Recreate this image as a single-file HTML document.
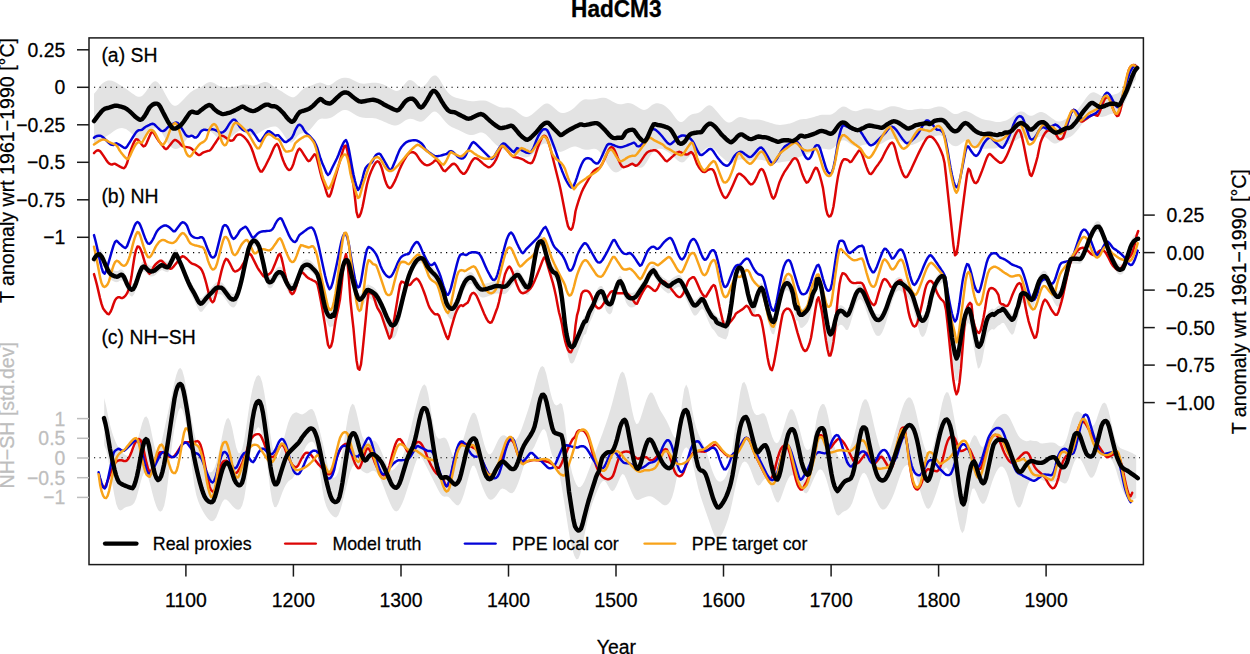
<!DOCTYPE html>
<html lang="en">
<head>
<meta charset="utf-8">
<title>HadCM3</title>
<style>
html,body{margin:0;padding:0;background:#fff;}
body{width:1250px;height:654px;overflow:hidden;}
svg{display:block;}
text{font-family:"Liberation Sans",sans-serif;fill:#000;stroke:#000;stroke-width:0.25px;}
.ax{font-size:19.4px;}
.lg{font-size:17.8px;}
.gr{fill:#bebebe;stroke:#bebebe;}
</style>
</head>
<body>
<svg width="1250" height="654" viewBox="0 0 1250 654">
<rect x="0" y="0" width="1250" height="654" fill="#fff"/>
<polygon points="94.0,93.8 96.0,91.5 98.0,88.8 100.0,86.1 102.0,83.8 104.0,82.2 106.0,81.2 108.0,80.6 110.0,80.5 112.0,80.8 114.0,81.5 116.0,82.5 118.0,83.7 120.0,84.9 122.0,86.2 124.0,87.5 126.0,88.8 128.0,90.2 130.0,91.7 132.0,93.2 134.0,94.6 136.0,95.9 138.0,96.7 140.0,96.8 142.0,95.9 144.0,94.0 146.0,91.4 148.0,88.4 150.0,85.5 152.0,83.0 154.0,81.5 156.0,81.3 158.0,82.5 160.0,84.9 162.0,88.1 164.0,91.8 166.0,95.5 168.0,99.0 170.0,102.2 172.0,104.5 174.0,105.7 176.0,105.7 178.0,104.7 180.0,103.1 182.0,101.1 184.0,99.0 186.0,96.8 188.0,94.7 190.0,92.8 192.0,91.2 194.0,89.9 196.0,89.0 198.0,88.3 200.0,87.6 202.0,86.5 204.0,85.1 206.0,83.6 208.0,82.4 210.0,81.9 212.0,82.2 214.0,83.1 216.0,84.3 218.0,85.4 220.0,86.2 222.0,86.7 224.0,86.9 226.0,87.0 228.0,87.0 230.0,87.0 232.0,87.0 234.0,86.8 236.0,86.5 238.0,86.1 240.0,85.5 242.0,84.8 244.0,84.4 246.0,84.4 248.0,84.7 250.0,85.1 252.0,85.4 254.0,85.5 256.0,85.1 258.0,84.5 260.0,83.6 262.0,82.8 264.0,82.1 266.0,82.0 268.0,82.6 270.0,83.7 272.0,85.2 274.0,86.7 276.0,88.1 278.0,89.3 280.0,90.5 282.0,91.6 284.0,92.9 286.0,94.2 288.0,95.5 290.0,96.6 292.0,97.3 294.0,97.2 296.0,96.0 298.0,94.2 300.0,92.0 302.0,90.0 304.0,88.4 306.0,87.3 308.0,86.5 310.0,85.9 312.0,85.2 314.0,84.5 316.0,83.6 318.0,82.9 320.0,82.6 322.0,82.9 324.0,83.8 326.0,84.8 328.0,85.3 330.0,85.0 332.0,84.0 334.0,82.6 336.0,81.1 338.0,79.8 340.0,78.8 342.0,78.1 344.0,77.8 346.0,77.8 348.0,78.1 350.0,78.6 352.0,79.4 354.0,80.4 356.0,81.5 358.0,82.5 360.0,83.2 362.0,83.6 364.0,83.7 366.0,83.5 368.0,83.2 370.0,83.0 372.0,82.8 374.0,82.7 376.0,82.7 378.0,83.0 380.0,83.4 382.0,84.1 384.0,84.8 386.0,85.7 388.0,86.8 390.0,88.0 392.0,89.2 394.0,90.3 396.0,91.0 398.0,90.8 400.0,89.7 402.0,87.5 404.0,84.9 406.0,82.4 408.0,80.6 410.0,79.9 412.0,80.4 414.0,81.8 416.0,83.8 418.0,85.7 420.0,87.0 422.0,87.1 424.0,86.1 426.0,84.0 428.0,81.4 430.0,78.6 432.0,76.5 434.0,75.4 436.0,75.6 438.0,77.3 440.0,80.1 442.0,83.4 444.0,86.8 446.0,89.9 448.0,92.4 450.0,94.4 452.0,95.9 454.0,96.9 456.0,97.7 458.0,98.2 460.0,98.8 462.0,99.3 464.0,99.8 466.0,100.2 468.0,100.7 470.0,101.0 472.0,101.2 474.0,101.2 476.0,101.1 478.0,100.8 480.0,100.6 482.0,100.4 484.0,100.4 486.0,100.8 488.0,101.5 490.0,102.4 492.0,103.5 494.0,104.6 496.0,105.6 498.0,106.5 500.0,107.2 502.0,107.6 504.0,107.7 506.0,107.6 508.0,107.6 510.0,107.8 512.0,108.5 514.0,109.5 516.0,110.8 518.0,112.4 520.0,113.9 522.0,115.4 524.0,116.5 526.0,116.9 528.0,116.7 530.0,115.8 532.0,114.4 534.0,112.8 536.0,111.1 538.0,109.3 540.0,107.5 542.0,105.7 544.0,104.2 546.0,103.4 548.0,103.5 550.0,104.4 552.0,105.9 554.0,107.7 556.0,109.6 558.0,111.3 560.0,112.5 562.0,113.1 564.0,113.1 566.0,112.5 568.0,111.7 570.0,110.7 572.0,109.5 574.0,108.0 576.0,106.1 578.0,103.9 580.0,101.9 582.0,100.4 584.0,99.5 586.0,99.3 588.0,99.4 590.0,99.5 592.0,99.5 594.0,99.2 596.0,98.9 598.0,98.4 600.0,98.0 602.0,97.7 604.0,97.7 606.0,98.1 608.0,98.9 610.0,100.0 612.0,101.2 614.0,102.3 616.0,103.3 618.0,104.0 620.0,104.3 622.0,104.2 624.0,103.7 626.0,103.2 628.0,103.0 630.0,103.2 632.0,103.8 634.0,104.7 636.0,106.0 638.0,107.3 640.0,108.6 642.0,109.6 644.0,110.0 646.0,109.6 648.0,108.5 650.0,106.8 652.0,105.1 654.0,103.9 656.0,103.3 658.0,103.3 660.0,103.7 662.0,104.3 664.0,105.3 666.0,106.7 668.0,108.4 670.0,110.6 672.0,113.1 674.0,115.8 676.0,118.5 678.0,120.7 680.0,121.9 682.0,121.9 684.0,120.7 686.0,118.8 688.0,116.8 690.0,115.2 692.0,114.2 694.0,113.7 696.0,113.5 698.0,113.1 700.0,112.1 702.0,110.6 704.0,108.6 706.0,106.7 708.0,105.4 710.0,105.3 712.0,106.3 714.0,108.2 716.0,110.4 718.0,112.8 720.0,115.2 722.0,117.5 724.0,119.7 726.0,121.5 728.0,122.5 730.0,122.6 732.0,121.7 734.0,120.3 736.0,118.8 738.0,117.6 740.0,117.1 742.0,117.2 744.0,117.7 746.0,118.3 748.0,119.0 750.0,119.4 752.0,119.6 754.0,119.5 756.0,119.4 758.0,119.5 760.0,119.8 762.0,120.2 764.0,120.8 766.0,121.4 768.0,122.0 770.0,122.7 772.0,123.3 774.0,123.9 776.0,124.5 778.0,124.8 780.0,124.9 782.0,124.7 784.0,124.5 786.0,124.2 788.0,123.8 790.0,123.4 792.0,122.8 794.0,122.0 796.0,121.1 798.0,120.2 800.0,119.6 802.0,119.3 804.0,119.1 806.0,118.9 808.0,118.5 810.0,118.1 812.0,117.6 814.0,117.0 816.0,116.3 818.0,115.7 820.0,115.1 822.0,114.8 824.0,114.7 826.0,114.8 828.0,114.8 830.0,114.7 832.0,114.2 834.0,113.1 836.0,111.4 838.0,109.6 840.0,107.9 842.0,106.8 844.0,106.6 846.0,107.1 848.0,108.2 850.0,109.4 852.0,110.5 854.0,111.1 856.0,111.2 858.0,110.8 860.0,110.1 862.0,109.4 864.0,108.8 866.0,108.4 868.0,108.4 870.0,108.6 872.0,109.1 874.0,109.7 876.0,110.2 878.0,110.5 880.0,110.4 882.0,109.9 884.0,109.1 886.0,108.1 888.0,107.3 890.0,106.6 892.0,106.3 894.0,106.3 896.0,106.5 898.0,106.9 900.0,107.5 902.0,108.2 904.0,108.9 906.0,109.5 908.0,109.9 910.0,110.1 912.0,109.9 914.0,109.6 916.0,109.3 918.0,108.9 920.0,108.8 922.0,108.8 924.0,108.9 926.0,109.0 928.0,109.0 930.0,108.7 932.0,108.3 934.0,107.6 936.0,107.0 938.0,106.6 940.0,106.5 942.0,106.7 944.0,107.4 946.0,108.6 948.0,110.0 950.0,111.6 952.0,113.0 954.0,113.9 956.0,114.1 958.0,113.7 960.0,112.7 962.0,111.7 964.0,111.1 966.0,111.1 968.0,111.7 970.0,112.6 972.0,113.6 974.0,114.8 976.0,115.9 978.0,117.1 980.0,118.1 982.0,118.9 984.0,119.5 986.0,119.9 988.0,120.2 990.0,120.6 992.0,121.0 994.0,121.4 996.0,121.9 998.0,122.1 1000.0,122.0 1002.0,121.6 1004.0,121.1 1006.0,120.5 1008.0,119.5 1010.0,118.3 1012.0,116.9 1014.0,115.3 1016.0,113.6 1018.0,112.3 1020.0,111.5 1022.0,111.4 1024.0,112.1 1026.0,113.4 1028.0,114.9 1030.0,115.8 1032.0,115.7 1034.0,114.9 1036.0,113.8 1038.0,112.7 1040.0,112.0 1042.0,112.0 1044.0,112.7 1046.0,113.8 1048.0,115.2 1050.0,116.7 1052.0,118.2 1054.0,119.6 1056.0,120.9 1058.0,121.5 1060.0,121.5 1062.0,120.9 1064.0,119.9 1066.0,118.8 1068.0,117.7 1070.0,116.5 1072.0,115.2 1074.0,113.6 1076.0,111.7 1078.0,109.3 1080.0,106.6 1082.0,103.8 1084.0,100.9 1086.0,98.0 1088.0,95.5 1090.0,93.6 1092.0,92.4 1094.0,92.2 1096.0,92.9 1098.0,94.0 1100.0,95.3 1102.0,96.3 1104.0,96.9 1106.0,96.9 1108.0,96.5 1110.0,95.8 1112.0,95.1 1114.0,94.6 1116.0,94.1 1118.0,93.3 1120.0,91.8 1122.0,89.3 1124.0,85.9 1126.0,81.9 1128.0,77.5 1130.0,73.0 1132.0,68.7 1134.0,65.0 1136.0,62.4 1136.0,79.2 1134.0,81.9 1132.0,85.8 1130.0,90.4 1128.0,95.3 1126.0,100.0 1124.0,104.5 1122.0,108.4 1120.0,111.2 1118.0,112.8 1116.0,113.4 1114.0,113.5 1112.0,113.8 1110.0,114.3 1108.0,115.0 1106.0,115.9 1104.0,116.6 1102.0,116.9 1100.0,116.7 1098.0,116.1 1096.0,115.4 1094.0,114.8 1092.0,114.8 1090.0,115.5 1088.0,116.9 1086.0,118.9 1084.0,121.3 1082.0,123.9 1080.0,126.7 1078.0,129.4 1076.0,131.8 1074.0,134.0 1072.0,135.7 1070.0,136.9 1068.0,137.7 1066.0,138.5 1064.0,139.4 1062.0,140.4 1060.0,141.6 1058.0,142.7 1056.0,143.5 1054.0,143.4 1052.0,142.5 1050.0,140.9 1048.0,139.1 1046.0,137.6 1044.0,136.5 1042.0,136.1 1040.0,136.4 1038.0,137.3 1036.0,138.5 1034.0,139.6 1032.0,140.2 1030.0,140.1 1028.0,139.4 1026.0,138.5 1024.0,137.8 1022.0,137.6 1020.0,138.0 1018.0,138.9 1016.0,140.2 1014.0,141.6 1012.0,142.7 1010.0,143.6 1008.0,144.2 1006.0,144.8 1004.0,145.4 1002.0,146.0 1000.0,146.7 998.0,147.6 996.0,148.2 994.0,148.6 992.0,148.6 990.0,148.5 988.0,148.6 986.0,148.7 984.0,148.8 982.0,148.8 980.0,148.6 978.0,147.9 976.0,146.8 974.0,145.3 972.0,143.5 970.0,141.8 968.0,140.6 966.0,140.5 964.0,141.4 962.0,142.9 960.0,144.6 958.0,145.8 956.0,146.3 954.0,146.1 952.0,145.2 950.0,143.6 948.0,141.6 946.0,139.4 944.0,137.4 942.0,136.0 940.0,135.3 938.0,135.4 936.0,135.9 934.0,136.6 932.0,137.2 930.0,137.7 928.0,138.1 926.0,138.6 924.0,139.3 922.0,140.3 920.0,141.4 918.0,142.5 916.0,143.4 914.0,144.2 912.0,144.9 910.0,145.2 908.0,144.9 906.0,144.2 904.0,143.1 902.0,141.9 900.0,140.8 898.0,139.9 896.0,139.2 894.0,138.9 892.0,138.9 890.0,139.3 888.0,140.0 886.0,141.1 884.0,142.3 882.0,143.4 880.0,144.2 878.0,144.5 876.0,144.4 874.0,144.3 872.0,144.2 870.0,144.2 868.0,144.2 866.0,144.4 864.0,144.8 862.0,145.3 860.0,145.9 858.0,146.4 856.0,146.5 854.0,146.1 852.0,145.1 850.0,143.8 848.0,142.2 846.0,140.9 844.0,140.2 842.0,140.5 840.0,141.7 838.0,143.5 836.0,145.5 834.0,147.4 832.0,148.7 830.0,149.4 828.0,149.5 826.0,149.1 824.0,148.7 822.0,148.4 820.0,148.6 818.0,149.4 816.0,150.6 814.0,151.6 812.0,152.2 810.0,152.8 808.0,153.6 806.0,154.5 804.0,155.3 802.0,155.9 800.0,156.7 798.0,157.7 796.0,158.9 794.0,160.0 792.0,160.7 790.0,161.1 788.0,161.3 786.0,161.5 784.0,161.7 782.0,162.1 780.0,162.4 778.0,162.7 776.0,162.8 774.0,162.9 772.0,162.7 770.0,162.2 768.0,161.7 766.0,161.1 764.0,160.5 762.0,160.0 760.0,159.7 758.0,159.6 756.0,159.8 754.0,160.2 752.0,160.6 750.0,160.7 748.0,160.5 746.0,160.2 744.0,159.7 742.0,159.3 740.0,159.4 738.0,160.1 736.0,161.2 734.0,162.4 732.0,163.1 730.0,162.9 728.0,162.0 726.0,160.7 724.0,159.1 722.0,157.3 720.0,155.4 718.0,153.2 716.0,150.9 714.0,148.9 712.0,147.6 710.0,147.1 708.0,147.4 706.0,148.6 704.0,150.3 702.0,151.9 700.0,153.0 698.0,153.5 696.0,153.5 694.0,153.7 692.0,154.3 690.0,155.7 688.0,157.8 686.0,160.1 684.0,161.9 682.0,162.6 680.0,162.1 678.0,160.7 676.0,158.9 674.0,157.0 672.0,155.2 670.0,153.5 668.0,152.0 666.0,150.8 664.0,149.8 662.0,149.1 660.0,148.7 658.0,148.8 656.0,149.4 654.0,150.9 652.0,153.2 650.0,156.3 648.0,159.9 646.0,163.3 644.0,166.0 642.0,167.5 640.0,167.8 638.0,167.4 636.0,166.8 634.0,166.2 632.0,165.7 630.0,165.5 628.0,165.7 626.0,166.4 624.0,167.6 622.0,169.2 620.0,170.8 618.0,171.9 616.0,172.4 614.0,172.0 612.0,170.5 610.0,168.2 608.0,165.2 606.0,161.8 604.0,158.3 602.0,155.0 600.0,152.2 598.0,150.2 596.0,149.1 594.0,148.8 592.0,149.0 590.0,149.4 588.0,149.7 586.0,149.8 584.0,149.6 582.0,149.0 580.0,148.1 578.0,147.2 576.0,146.6 574.0,146.6 572.0,147.0 570.0,147.8 568.0,148.7 566.0,149.7 564.0,150.7 562.0,151.6 560.0,151.9 558.0,151.2 556.0,150.0 554.0,148.6 552.0,147.1 550.0,145.7 548.0,144.4 546.0,143.5 544.0,143.5 542.0,144.4 540.0,146.3 538.0,148.6 536.0,151.0 534.0,153.0 532.0,154.8 530.0,156.2 528.0,157.1 526.0,157.5 524.0,157.3 522.0,156.8 520.0,156.0 518.0,155.2 516.0,154.3 514.0,153.5 512.0,152.7 510.0,152.0 508.0,151.2 506.0,150.5 504.0,149.7 502.0,148.8 500.0,147.7 498.0,146.3 496.0,144.7 494.0,142.8 492.0,140.8 490.0,138.6 488.0,136.5 486.0,134.6 484.0,133.2 482.0,132.5 480.0,132.6 478.0,133.2 476.0,134.1 474.0,134.8 472.0,135.1 470.0,135.0 468.0,134.5 466.0,133.7 464.0,132.7 462.0,131.7 460.0,130.7 458.0,129.8 456.0,128.9 454.0,128.1 452.0,127.2 450.0,126.0 448.0,124.4 446.0,122.5 444.0,120.3 442.0,117.8 440.0,115.3 438.0,113.2 436.0,111.8 434.0,111.6 432.0,112.6 430.0,114.4 428.0,116.5 426.0,118.6 424.0,120.4 422.0,121.4 420.0,121.7 418.0,121.2 416.0,120.4 414.0,119.6 412.0,119.0 410.0,118.8 408.0,119.2 406.0,120.0 404.0,121.3 402.0,122.7 400.0,124.0 398.0,125.0 396.0,125.5 394.0,125.4 392.0,125.0 390.0,124.2 388.0,123.4 386.0,122.5 384.0,121.7 382.0,120.8 380.0,120.0 378.0,119.3 376.0,118.6 374.0,118.2 372.0,118.0 370.0,117.9 368.0,118.0 366.0,117.9 364.0,117.8 362.0,117.5 360.0,116.9 358.0,116.2 356.0,115.2 354.0,114.0 352.0,112.8 350.0,111.6 348.0,110.6 346.0,110.0 344.0,110.0 342.0,110.6 340.0,111.7 338.0,113.1 336.0,114.6 334.0,116.0 332.0,117.2 330.0,118.1 328.0,118.6 326.0,118.8 324.0,118.7 322.0,118.5 320.0,118.9 318.0,120.2 316.0,122.4 314.0,125.0 312.0,127.6 310.0,129.7 308.0,131.3 306.0,132.3 304.0,132.9 302.0,133.2 300.0,133.9 298.0,135.6 296.0,138.1 294.0,140.8 292.0,142.5 290.0,142.6 288.0,141.0 286.0,138.4 284.0,135.3 282.0,132.3 280.0,129.7 278.0,127.7 276.0,126.6 274.0,126.4 272.0,126.8 270.0,127.3 268.0,127.9 266.0,128.7 264.0,129.7 262.0,130.9 260.0,132.2 258.0,133.5 256.0,134.6 254.0,135.3 252.0,135.4 250.0,134.9 248.0,133.9 246.0,132.5 244.0,131.2 242.0,130.5 240.0,130.6 238.0,131.5 236.0,132.9 234.0,134.6 232.0,136.2 230.0,137.7 228.0,138.9 226.0,139.7 224.0,140.1 222.0,139.9 220.0,139.1 218.0,137.8 216.0,136.2 214.0,134.3 212.0,132.4 210.0,130.9 208.0,130.2 206.0,130.3 204.0,131.1 202.0,132.4 200.0,133.9 198.0,135.0 196.0,135.3 194.0,134.9 192.0,134.6 190.0,135.3 188.0,137.2 186.0,139.9 184.0,142.8 182.0,145.4 180.0,147.4 178.0,148.6 176.0,149.1 174.0,148.8 172.0,147.8 170.0,145.9 168.0,143.3 166.0,140.0 164.0,136.5 162.0,133.2 160.0,130.5 158.0,128.8 156.0,128.2 154.0,128.3 152.0,129.1 150.0,130.5 148.0,132.7 146.0,135.3 144.0,137.8 142.0,139.4 140.0,139.8 138.0,139.1 136.0,137.8 134.0,135.9 132.0,133.9 130.0,132.0 128.0,130.4 126.0,129.1 124.0,128.4 122.0,128.1 120.0,128.2 118.0,128.7 116.0,129.7 114.0,131.0 112.0,132.6 110.0,134.0 108.0,135.3 106.0,136.4 104.0,137.7 102.0,139.3 100.0,141.1 98.0,142.9 96.0,144.3 94.0,145.3" fill="#e3e3e3" stroke="none"/>
<polygon points="94.0,253.6 96.0,250.6 98.0,249.0 100.0,249.2 102.0,251.6 104.0,255.8 106.0,260.5 108.0,264.8 110.0,267.9 112.0,269.5 114.0,270.5 116.0,271.1 118.0,271.0 120.0,269.6 122.0,269.4 124.0,271.5 126.0,276.2 128.0,280.3 130.0,283.2 132.0,284.3 134.0,282.3 136.0,277.9 138.0,271.8 140.0,266.2 142.0,262.1 144.0,261.1 146.0,262.5 148.0,264.5 150.0,265.8 152.0,266.0 154.0,265.3 156.0,263.9 158.0,262.1 160.0,260.6 162.0,259.6 164.0,260.5 166.0,261.6 168.0,261.7 170.0,258.8 172.0,254.8 174.0,250.3 176.0,248.7 178.0,252.3 180.0,256.6 182.0,261.2 184.0,266.2 186.0,271.2 188.0,276.0 190.0,280.3 192.0,283.9 194.0,287.3 196.0,291.3 198.0,295.2 200.0,297.9 202.0,297.9 204.0,295.7 206.0,293.0 208.0,290.8 210.0,288.9 212.0,286.8 214.0,284.5 216.0,282.6 218.0,282.0 220.0,282.1 222.0,282.5 224.0,284.7 226.0,287.4 228.0,290.0 230.0,292.5 232.0,293.8 234.0,294.0 236.0,292.1 238.0,287.7 240.0,280.9 242.0,272.8 244.0,263.5 246.0,254.2 248.0,245.7 250.0,239.4 252.0,236.2 254.0,235.2 256.0,236.1 258.0,238.7 260.0,243.5 262.0,251.9 264.0,260.9 266.0,270.4 268.0,275.9 270.0,276.8 272.0,276.0 274.0,272.7 276.0,269.0 278.0,267.1 280.0,266.6 282.0,267.7 284.0,271.1 286.0,276.0 288.0,279.7 290.0,282.4 292.0,283.3 294.0,282.2 296.0,277.9 298.0,272.5 300.0,267.2 302.0,262.2 304.0,260.2 306.0,259.3 308.0,259.4 310.0,260.3 312.0,262.1 314.0,264.2 316.0,266.5 318.0,270.1 320.0,278.0 322.0,287.6 324.0,297.6 326.0,304.9 328.0,309.3 330.0,311.4 332.0,310.1 334.0,310.2 336.0,301.6 338.0,288.7 340.0,275.8 342.0,265.1 344.0,257.4 346.0,254.6 348.0,255.6 350.0,262.7 352.0,271.5 354.0,279.5 356.0,287.1 358.0,292.6 360.0,294.4 362.0,292.5 364.0,289.8 366.0,286.1 368.0,284.3 370.0,285.2 372.0,286.2 374.0,287.6 376.0,289.6 378.0,292.5 380.0,296.2 382.0,300.3 384.0,304.9 386.0,309.7 388.0,314.1 390.0,317.7 392.0,319.9 394.0,319.5 396.0,317.0 398.0,311.8 400.0,304.6 402.0,296.3 404.0,288.1 406.0,280.2 408.0,273.0 410.0,267.3 412.0,262.8 414.0,259.1 416.0,256.0 418.0,253.8 420.0,252.7 422.0,252.7 424.0,254.4 426.0,258.4 428.0,261.7 430.0,264.3 432.0,266.5 434.0,268.4 436.0,270.6 438.0,273.6 440.0,277.3 442.0,282.3 444.0,288.3 446.0,296.0 448.0,300.6 450.0,302.6 452.0,303.3 454.0,302.1 456.0,298.8 458.0,294.2 460.0,288.3 462.0,282.6 464.0,278.1 466.0,274.9 468.0,273.0 470.0,272.1 472.0,272.4 474.0,274.8 476.0,278.3 478.0,281.2 480.0,283.3 482.0,284.1 484.0,283.9 486.0,283.6 488.0,283.0 490.0,282.4 492.0,281.8 494.0,281.1 496.0,280.5 498.0,280.5 500.0,280.7 502.0,281.1 504.0,281.2 506.0,280.6 508.0,278.9 510.0,276.3 512.0,273.9 514.0,271.8 516.0,270.1 518.0,269.4 520.0,271.8 522.0,275.1 524.0,278.4 526.0,281.5 528.0,281.8 530.0,278.9 532.0,269.9 534.0,257.5 536.0,246.7 538.0,238.4 540.0,236.1 542.0,236.0 544.0,240.9 546.0,248.3 548.0,255.2 550.0,261.4 552.0,265.1 554.0,267.0 556.0,268.2 558.0,272.4 560.0,280.6 562.0,292.9 564.0,310.3 566.0,325.5 568.0,335.2 570.0,340.5 572.0,341.6 574.0,340.0 576.0,335.5 578.0,330.9 580.0,326.2 582.0,321.4 584.0,316.6 586.0,315.8 588.0,309.9 590.0,305.3 592.0,301.7 594.0,297.4 596.0,292.1 598.0,288.0 600.0,286.1 602.0,286.1 604.0,289.5 606.0,295.6 608.0,298.1 610.0,298.9 612.0,296.9 614.0,289.6 616.0,282.9 618.0,277.8 620.0,275.6 622.0,278.2 624.0,283.1 626.0,288.5 628.0,291.3 630.0,292.5 632.0,292.9 634.0,292.3 636.0,291.0 638.0,288.3 640.0,285.3 642.0,282.3 644.0,279.3 646.0,276.1 648.0,271.9 650.0,268.2 652.0,265.8 654.0,265.1 656.0,268.6 658.0,271.8 660.0,274.4 662.0,276.4 664.0,277.9 666.0,279.3 668.0,280.6 670.0,280.3 672.0,278.6 674.0,277.1 676.0,275.9 678.0,274.9 680.0,275.1 682.0,277.5 684.0,281.3 686.0,285.3 688.0,289.3 690.0,293.3 692.0,297.2 694.0,299.8 696.0,299.7 698.0,297.9 700.0,295.4 702.0,293.7 704.0,295.3 706.0,299.8 708.0,304.1 710.0,307.8 712.0,311.0 714.0,312.6 716.0,315.2 718.0,317.8 720.0,318.6 722.0,319.4 724.0,320.2 726.0,320.6 728.0,316.9 730.0,307.8 732.0,294.3 734.0,279.4 736.0,268.8 738.0,263.2 740.0,262.0 742.0,263.9 744.0,270.4 746.0,278.9 748.0,288.4 750.0,295.5 752.0,300.0 754.0,300.2 756.0,294.1 758.0,287.9 760.0,283.7 762.0,282.7 764.0,288.3 766.0,296.8 768.0,304.6 770.0,311.7 772.0,315.7 774.0,316.3 776.0,310.3 778.0,301.4 780.0,293.1 782.0,285.3 784.0,280.3 786.0,277.8 788.0,277.9 790.0,280.1 792.0,284.8 794.0,293.4 796.0,303.0 798.0,303.8 800.0,309.1 802.0,309.3 804.0,307.9 806.0,306.0 808.0,303.5 810.0,298.5 812.0,291.2 814.0,285.9 816.0,279.6 818.0,273.0 820.0,277.3 822.0,285.5 824.0,298.4 826.0,311.0 828.0,322.3 830.0,328.7 832.0,327.4 834.0,320.8 836.0,311.9 838.0,306.9 840.0,305.3 842.0,305.5 844.0,307.1 846.0,309.6 848.0,309.4 850.0,305.3 852.0,299.8 854.0,293.8 856.0,288.4 858.0,285.3 860.0,284.2 862.0,285.4 864.0,288.4 866.0,293.1 868.0,297.8 870.0,302.7 872.0,307.2 874.0,311.0 876.0,313.8 878.0,314.6 880.0,314.0 882.0,311.8 884.0,308.1 886.0,303.4 888.0,297.8 890.0,292.0 892.0,286.7 894.0,282.0 896.0,278.6 898.0,277.3 900.0,277.2 902.0,278.2 904.0,279.7 906.0,281.4 908.0,283.4 910.0,285.6 912.0,288.8 914.0,294.2 916.0,300.9 918.0,307.2 920.0,312.9 922.0,315.2 924.0,314.7 926.0,311.4 928.0,305.7 930.0,297.1 932.0,288.6 934.0,282.2 936.0,277.8 938.0,274.4 940.0,271.9 942.0,270.6 944.0,271.0 946.0,282.0 948.0,300.2 950.0,316.1 952.0,332.0 954.0,343.3 956.0,352.0 958.0,349.9 960.0,338.1 962.0,326.1 964.0,314.6 966.0,307.3 968.0,303.5 970.0,305.2 972.0,313.9 974.0,324.3 976.0,334.0 978.0,341.4 980.0,340.1 982.0,335.6 984.0,326.5 986.0,317.6 988.0,311.8 990.0,309.9 992.0,308.6 994.0,309.4 996.0,307.8 998.0,306.1 1000.0,305.3 1002.0,304.0 1004.0,304.0 1006.0,306.8 1008.0,309.7 1010.0,312.3 1012.0,314.2 1014.0,312.7 1016.0,306.8 1018.0,301.1 1020.0,292.2 1022.0,288.0 1024.0,287.7 1026.0,288.6 1028.0,290.8 1030.0,293.5 1032.0,294.4 1034.0,290.5 1036.0,284.8 1038.0,278.7 1040.0,274.0 1042.0,271.7 1044.0,270.5 1046.0,271.5 1048.0,274.7 1050.0,279.5 1052.0,283.8 1054.0,287.6 1056.0,290.3 1058.0,291.6 1060.0,289.8 1062.0,285.4 1064.0,278.1 1066.0,270.1 1068.0,262.1 1070.0,254.9 1072.0,253.2 1074.0,253.1 1076.0,253.2 1078.0,253.4 1080.0,253.6 1082.0,251.8 1084.0,247.7 1086.0,242.9 1088.0,237.6 1090.0,232.4 1092.0,227.9 1094.0,224.1 1096.0,221.7 1098.0,221.1 1100.0,222.3 1102.0,226.6 1104.0,231.7 1106.0,237.1 1108.0,243.2 1110.0,248.7 1112.0,253.2 1114.0,257.4 1116.0,261.0 1118.0,263.4 1120.0,264.3 1122.0,263.7 1124.0,261.2 1126.0,255.2 1128.0,249.2 1130.0,243.2 1132.0,238.4 1134.0,235.7 1136.0,234.1 1136.0,244.6 1134.0,246.2 1132.0,248.9 1130.0,253.7 1128.0,259.7 1126.0,265.7 1124.0,271.7 1122.0,274.2 1120.0,274.8 1118.0,273.9 1116.0,271.5 1114.0,267.9 1112.0,263.7 1110.0,259.2 1108.0,253.7 1106.0,247.6 1104.0,242.2 1102.0,237.1 1100.0,232.8 1098.0,231.6 1096.0,232.2 1094.0,234.6 1092.0,238.4 1090.0,242.9 1088.0,248.1 1086.0,253.4 1084.0,258.2 1082.0,262.3 1080.0,264.1 1078.0,263.9 1076.0,263.7 1074.0,263.6 1072.0,263.7 1070.0,265.4 1068.0,272.6 1066.0,281.6 1064.0,291.0 1062.0,299.7 1060.0,304.9 1058.0,307.0 1056.0,305.5 1054.0,302.3 1052.0,297.7 1050.0,292.7 1048.0,287.1 1046.0,283.2 1044.0,282.1 1042.0,283.4 1040.0,286.2 1038.0,291.7 1036.0,299.0 1034.0,305.6 1032.0,310.2 1030.0,309.2 1028.0,306.1 1026.0,303.6 1024.0,302.6 1022.0,303.0 1020.0,308.0 1018.0,318.7 1016.0,325.7 1014.0,332.9 1012.0,334.9 1010.0,332.7 1008.0,329.7 1006.0,326.3 1004.0,323.0 1002.0,323.1 1000.0,324.8 998.0,325.7 996.0,327.8 994.0,329.8 992.0,328.9 990.0,330.4 988.0,332.7 986.0,339.8 984.0,350.7 982.0,361.7 980.0,367.3 978.0,368.8 976.0,359.8 974.0,347.9 972.0,335.2 970.0,324.7 968.0,322.6 966.0,327.2 964.0,336.2 962.0,350.1 960.0,364.7 958.0,379.2 956.0,381.8 954.0,371.1 952.0,357.3 950.0,338.0 948.0,318.6 946.0,296.4 944.0,283.0 942.0,282.5 940.0,284.0 938.0,287.1 936.0,291.2 934.0,296.6 932.0,304.4 930.0,314.8 928.0,325.2 926.0,332.2 924.0,336.3 922.0,336.9 920.0,334.1 918.0,327.1 916.0,319.4 914.0,311.2 912.0,304.6 910.0,300.8 908.0,298.0 906.0,295.6 904.0,293.5 902.0,291.7 900.0,290.4 898.0,290.6 896.0,292.2 894.0,296.3 892.0,302.1 890.0,308.6 888.0,315.6 886.0,322.5 884.0,328.2 882.0,332.7 880.0,335.4 878.0,336.1 876.0,335.2 874.0,331.8 872.0,327.1 870.0,321.5 868.0,315.7 866.0,309.9 864.0,304.2 862.0,300.5 860.0,299.1 858.0,300.4 856.0,304.2 854.0,310.8 852.0,318.1 850.0,324.8 848.0,329.8 846.0,330.0 844.0,327.0 842.0,325.1 840.0,324.8 838.0,326.8 836.0,332.8 834.0,343.7 832.0,351.7 830.0,353.3 828.0,345.6 826.0,331.7 824.0,316.4 822.0,300.6 820.0,290.6 818.0,285.3 816.0,293.4 814.0,301.0 812.0,307.4 810.0,316.0 808.0,321.8 806.0,324.6 804.0,326.6 802.0,328.1 800.0,327.5 798.0,321.1 796.0,319.9 794.0,308.5 792.0,298.5 790.0,292.9 788.0,290.4 786.0,290.3 784.0,293.1 782.0,298.9 780.0,307.9 778.0,317.5 776.0,327.6 774.0,334.5 772.0,333.8 770.0,329.3 768.0,321.1 766.0,312.1 764.0,302.4 762.0,295.9 760.0,297.1 758.0,301.9 756.0,309.0 754.0,316.1 752.0,315.8 750.0,310.7 748.0,302.5 746.0,291.5 744.0,281.8 742.0,274.4 740.0,272.5 738.0,273.7 736.0,279.9 734.0,292.1 732.0,309.3 730.0,324.8 728.0,335.3 726.0,339.6 724.0,339.1 722.0,338.2 720.0,337.2 718.0,336.3 716.0,333.3 714.0,330.3 712.0,328.4 710.0,324.8 708.0,320.5 706.0,315.6 704.0,310.4 702.0,308.6 700.0,310.6 698.0,313.4 696.0,315.5 694.0,315.5 692.0,312.6 690.0,308.1 688.0,303.5 686.0,298.9 684.0,294.3 682.0,289.9 680.0,287.2 678.0,286.9 676.0,288.1 674.0,289.5 672.0,291.2 670.0,293.1 668.0,293.5 666.0,292.0 664.0,290.4 662.0,288.6 660.0,286.4 658.0,283.4 656.0,279.7 654.0,275.7 652.0,276.5 650.0,279.3 648.0,283.5 646.0,288.4 644.0,292.1 642.0,295.5 640.0,299.0 638.0,302.4 636.0,305.5 634.0,307.0 632.0,307.6 630.0,307.2 628.0,305.8 626.0,302.6 624.0,296.4 622.0,290.8 620.0,287.7 618.0,290.3 616.0,296.2 614.0,303.9 612.0,312.2 610.0,314.5 608.0,313.6 606.0,310.7 604.0,303.8 602.0,299.8 600.0,299.8 598.0,302.0 596.0,306.8 594.0,312.9 592.0,317.8 590.0,321.9 588.0,327.2 586.0,334.0 584.0,334.9 582.0,340.4 580.0,346.0 578.0,351.4 576.0,356.7 574.0,361.8 572.0,363.7 570.0,362.4 568.0,356.3 566.0,345.2 564.0,327.7 562.0,307.7 560.0,293.5 558.0,284.1 556.0,279.2 554.0,277.9 552.0,275.7 550.0,271.9 548.0,265.7 546.0,258.8 544.0,251.4 542.0,246.5 540.0,246.6 538.0,248.9 536.0,257.2 534.0,268.0 532.0,281.2 530.0,291.6 528.0,294.9 526.0,294.6 524.0,291.0 522.0,287.2 520.0,283.4 518.0,280.6 516.0,281.4 514.0,283.4 512.0,285.8 510.0,288.5 508.0,291.5 506.0,293.6 504.0,294.3 502.0,294.1 500.0,293.7 498.0,293.4 496.0,293.4 494.0,294.0 492.0,294.9 490.0,295.6 488.0,296.3 486.0,296.9 484.0,297.4 482.0,297.5 480.0,296.6 478.0,294.2 476.0,290.8 474.0,286.9 472.0,284.1 470.0,283.7 468.0,284.8 466.0,287.0 464.0,290.6 462.0,295.8 460.0,302.3 458.0,309.2 456.0,314.4 454.0,318.2 452.0,319.6 450.0,318.8 448.0,316.5 446.0,311.3 444.0,302.4 442.0,295.5 440.0,289.7 438.0,285.4 436.0,282.0 434.0,279.5 432.0,277.3 430.0,274.8 428.0,272.2 426.0,268.9 424.0,264.9 422.0,263.2 420.0,263.2 418.0,264.3 416.0,266.5 414.0,269.6 412.0,273.3 410.0,278.2 408.0,284.8 406.0,293.0 404.0,302.2 402.0,311.5 400.0,321.1 398.0,329.4 396.0,335.4 394.0,338.3 392.0,338.7 390.0,336.1 388.0,332.0 386.0,327.0 384.0,321.4 382.0,316.2 380.0,311.4 378.0,307.2 376.0,303.9 374.0,301.6 372.0,300.0 370.0,298.8 368.0,297.8 366.0,299.8 364.0,304.0 362.0,307.2 360.0,309.4 358.0,307.3 356.0,301.0 354.0,292.3 352.0,283.0 350.0,273.2 348.0,266.1 346.0,265.1 344.0,267.9 342.0,275.6 340.0,287.9 338.0,302.5 336.0,317.0 334.0,326.6 332.0,326.3 330.0,327.5 328.0,325.1 326.0,319.9 324.0,311.7 322.0,300.4 320.0,289.8 318.0,281.2 316.0,277.2 314.0,274.7 312.0,272.6 310.0,270.8 308.0,269.9 306.0,269.8 304.0,270.7 302.0,272.7 300.0,278.0 298.0,283.8 296.0,289.7 294.0,294.4 292.0,295.7 290.0,294.7 288.0,291.7 286.0,287.6 284.0,282.3 282.0,278.5 280.0,277.3 278.0,277.9 276.0,280.0 274.0,284.0 272.0,287.6 270.0,288.5 268.0,287.5 266.0,281.5 264.0,271.4 262.0,262.4 260.0,254.0 258.0,249.2 256.0,246.6 254.0,245.7 252.0,246.7 250.0,249.9 248.0,256.2 246.0,264.7 244.0,274.0 242.0,284.1 240.0,293.0 238.0,300.5 236.0,305.3 234.0,307.5 232.0,307.2 230.0,305.8 228.0,303.1 226.0,300.1 224.0,297.2 222.0,294.8 220.0,294.3 218.0,294.3 216.0,294.9 214.0,297.0 212.0,299.5 210.0,301.8 208.0,304.0 206.0,306.4 204.0,309.3 202.0,311.7 200.0,311.8 198.0,308.8 196.0,304.5 194.0,300.1 192.0,296.4 190.0,292.4 188.0,287.6 186.0,282.4 184.0,276.9 182.0,271.7 180.0,267.1 178.0,262.8 176.0,259.2 174.0,260.8 172.0,265.3 170.0,269.3 168.0,272.2 166.0,272.1 164.0,271.0 162.0,270.1 160.0,271.1 158.0,272.6 156.0,274.4 154.0,275.9 152.0,276.6 150.0,276.4 148.0,275.1 146.0,273.0 144.0,271.6 142.0,272.6 140.0,276.9 138.0,283.1 136.0,289.7 134.0,294.6 132.0,296.8 130.0,295.5 128.0,292.4 126.0,287.9 124.0,282.7 122.0,280.4 120.0,280.6 118.0,282.1 116.0,282.3 114.0,281.6 112.0,280.5 110.0,278.7 108.0,275.3 106.0,271.0 104.0,266.3 102.0,262.1 100.0,259.7 98.0,259.5 96.0,261.1 94.0,264.1" fill="#e3e3e3" stroke="none"/>
<polygon points="104.2,398.1 106.2,406.4 108.2,416.6 110.2,425.4 112.2,432.7 114.2,438.6 116.2,443.3 118.2,446.9 120.2,449.9 122.2,452.3 124.2,454.3 126.2,455.6 128.2,456.0 130.2,455.3 132.2,453.1 134.2,449.3 136.2,444.0 138.2,437.7 140.2,430.5 142.2,423.1 144.2,417.8 146.2,416.3 148.2,419.0 150.2,426.2 152.2,436.1 154.2,445.6 156.2,451.8 158.2,452.1 160.2,447.1 162.2,439.1 164.2,430.1 166.2,420.8 168.2,411.4 170.2,401.9 172.2,392.4 174.2,383.2 176.2,375.3 178.2,369.8 180.2,367.7 182.2,370.2 184.2,377.2 186.2,387.5 188.2,399.2 190.2,411.0 192.2,422.3 194.2,432.5 196.2,441.0 198.2,447.9 200.2,454.1 202.2,459.7 204.2,464.6 206.2,468.8 208.2,471.6 210.2,472.6 212.2,471.7 214.2,468.4 216.2,462.7 218.2,455.1 220.2,445.9 222.2,435.7 224.2,426.2 226.2,419.8 228.2,417.8 230.2,420.8 232.2,428.0 234.2,437.9 236.2,447.3 238.2,452.8 240.2,453.3 242.2,448.9 244.2,440.1 246.2,427.5 248.2,413.3 250.2,400.4 252.2,390.0 254.2,382.2 256.2,377.0 258.2,375.0 260.2,376.4 262.2,382.2 264.2,392.2 266.2,405.0 268.2,419.4 270.2,433.5 272.2,445.2 274.2,453.7 276.2,458.4 278.2,457.7 280.2,452.4 282.2,445.3 284.2,437.5 286.2,429.7 288.2,422.8 290.2,417.8 292.2,414.6 294.2,412.9 296.2,412.3 298.2,412.9 300.2,414.1 302.2,414.5 304.2,413.6 306.2,412.2 308.2,410.6 310.2,409.2 312.2,409.0 314.2,411.7 316.2,417.4 318.2,424.6 320.2,432.4 322.2,440.5 324.2,449.0 326.2,458.3 328.2,467.2 330.2,473.9 332.2,477.3 334.2,477.8 336.2,476.3 338.2,472.2 340.2,464.5 342.2,453.3 344.2,440.5 346.2,427.4 348.2,415.6 350.2,407.5 352.2,403.8 354.2,405.1 356.2,411.2 358.2,419.8 360.2,428.7 362.2,436.1 364.2,440.3 366.2,441.8 368.2,441.8 370.2,441.2 372.2,440.5 374.2,440.6 376.2,441.9 378.2,444.8 380.2,448.8 382.2,453.5 384.2,458.4 386.2,463.3 388.2,467.6 390.2,470.3 392.2,470.5 394.2,469.0 396.2,466.8 398.2,464.3 400.2,461.3 402.2,457.5 404.2,452.4 406.2,446.0 408.2,438.7 410.2,430.9 412.2,422.6 414.2,413.8 416.2,405.3 418.2,397.7 420.2,391.3 422.2,386.6 424.2,384.2 426.2,386.2 428.2,393.9 430.2,405.6 432.2,418.2 434.2,429.1 436.2,435.7 438.2,438.4 440.2,438.7 442.2,438.1 444.2,437.6 446.2,438.7 448.2,442.8 450.2,448.8 452.2,454.3 454.2,457.9 456.2,458.0 458.2,454.6 460.2,449.3 462.2,443.0 464.2,436.2 466.2,429.4 468.2,423.1 470.2,417.6 472.2,413.6 474.2,412.4 476.2,415.0 478.2,421.2 480.2,428.9 482.2,436.8 484.2,444.2 486.2,450.2 488.2,453.8 490.2,454.4 492.2,452.4 494.2,448.8 496.2,444.2 498.2,439.9 500.2,436.9 502.2,435.5 504.2,435.2 506.2,436.2 508.2,437.9 510.2,439.5 512.2,440.5 514.2,440.7 516.2,439.6 518.2,436.8 520.2,432.5 522.2,427.2 524.2,421.4 526.2,415.5 528.2,409.5 530.2,403.1 532.2,395.6 534.2,387.6 536.2,379.7 538.2,372.7 540.2,367.8 542.2,365.9 544.2,367.5 546.2,373.4 548.2,382.2 550.2,391.4 552.2,399.1 554.2,403.8 556.2,405.5 558.2,404.8 560.2,403.1 562.2,404.4 564.2,414.2 566.2,432.9 568.2,451.3 570.2,464.3 572.2,473.2 574.2,479.6 576.2,484.3 578.2,487.0 580.2,487.2 582.2,485.3 584.2,481.8 586.2,477.1 588.2,471.8 590.2,466.4 592.2,460.9 594.2,455.3 596.2,449.9 598.2,444.8 600.2,439.6 602.2,434.2 604.2,428.5 606.2,422.7 608.2,416.7 610.2,410.2 612.2,403.2 614.2,395.6 616.2,387.7 618.2,380.1 620.2,374.0 622.2,371.4 624.2,373.2 626.2,379.5 628.2,389.2 630.2,400.4 632.2,411.0 634.2,419.3 636.2,423.9 638.2,423.6 640.2,419.3 642.2,413.1 644.2,406.5 646.2,400.3 648.2,395.4 650.2,392.6 652.2,392.7 654.2,396.0 656.2,401.1 658.2,406.1 660.2,410.2 662.2,413.6 664.2,416.7 666.2,420.2 668.2,424.2 670.2,428.7 672.2,433.5 674.2,437.3 676.2,437.7 678.2,431.5 680.2,418.3 682.2,401.7 684.2,389.1 686.2,384.6 688.2,388.4 690.2,398.2 692.2,409.7 694.2,420.0 696.2,427.6 698.2,433.3 700.2,438.0 702.2,442.1 704.2,446.6 706.2,451.6 708.2,457.6 710.2,464.4 712.2,470.6 714.2,475.6 716.2,479.2 718.2,481.2 720.2,481.8 722.2,481.1 724.2,479.2 726.2,476.1 728.2,470.9 730.2,462.3 732.2,449.7 734.2,434.7 736.2,419.5 738.2,404.9 740.2,392.0 742.2,383.6 744.2,381.7 746.2,385.2 748.2,392.2 750.2,400.7 752.2,408.2 754.2,413.0 756.2,414.9 758.2,415.1 760.2,414.3 762.2,413.2 764.2,413.4 766.2,417.0 768.2,423.6 770.2,430.6 772.2,436.7 774.2,441.2 776.2,443.3 778.2,442.4 780.2,438.7 782.2,432.9 784.2,426.1 786.2,419.3 788.2,413.3 790.2,409.6 792.2,409.2 794.2,411.9 796.2,417.2 798.2,424.0 800.2,431.5 802.2,439.3 804.2,445.9 806.2,449.5 808.2,450.0 810.2,448.4 812.2,443.6 814.2,433.7 816.2,421.1 818.2,411.7 820.2,406.4 822.2,403.9 824.2,404.3 826.2,408.4 828.2,416.7 830.2,427.0 832.2,437.2 834.2,445.9 836.2,452.0 838.2,456.3 840.2,458.9 842.2,458.9 844.2,457.1 846.2,454.5 848.2,451.4 850.2,447.5 852.2,442.3 854.2,435.5 856.2,427.3 858.2,418.3 860.2,409.7 862.2,403.0 864.2,399.4 866.2,399.3 868.2,402.5 870.2,408.9 872.2,417.3 874.2,426.2 876.2,434.5 878.2,442.1 880.2,448.6 882.2,453.7 884.2,456.8 886.2,457.2 888.2,454.5 890.2,449.4 892.2,442.9 894.2,435.9 896.2,428.9 898.2,421.9 900.2,415.0 902.2,408.4 904.2,403.1 906.2,399.5 908.2,397.5 910.2,397.5 912.2,400.0 914.2,405.3 916.2,413.1 918.2,422.1 920.2,431.2 922.2,439.6 924.2,446.6 926.2,451.4 928.2,453.7 930.2,453.4 932.2,450.0 934.2,443.1 936.2,433.4 938.2,422.9 940.2,412.5 942.2,403.1 944.2,395.9 946.2,392.2 948.2,392.5 950.2,397.5 952.2,406.7 954.2,417.9 956.2,429.3 958.2,439.1 960.2,446.2 962.2,450.4 964.2,451.9 966.2,450.9 968.2,447.5 970.2,442.8 972.2,438.1 974.2,435.1 976.2,436.3 978.2,440.6 980.2,445.1 982.2,447.3 984.2,446.1 986.2,442.4 988.2,437.2 990.2,431.5 992.2,426.3 994.2,422.2 996.2,419.2 998.2,417.0 1000.2,415.4 1002.2,414.2 1004.2,413.7 1006.2,414.0 1008.2,415.7 1010.2,418.8 1012.2,422.9 1014.2,427.3 1016.2,431.7 1018.2,435.5 1020.2,438.1 1022.2,439.6 1024.2,440.6 1026.2,441.3 1028.2,441.0 1030.2,440.2 1032.2,440.7 1034.2,441.0 1036.2,440.9 1038.2,441.7 1040.2,443.2 1042.2,443.5 1044.2,443.2 1046.2,442.9 1048.2,442.8 1050.2,442.6 1052.2,442.6 1054.2,442.8 1056.2,443.7 1058.2,445.4 1060.2,446.6 1062.2,446.4 1064.2,444.3 1066.2,440.3 1068.2,433.8 1070.2,425.6 1072.2,418.4 1074.2,413.8 1076.2,411.8 1078.2,411.5 1080.2,412.4 1082.2,414.2 1084.2,416.4 1086.2,418.7 1088.2,421.3 1090.2,424.1 1092.2,425.9 1094.2,424.8 1096.2,420.4 1098.2,414.3 1100.2,408.4 1102.2,404.0 1104.2,402.4 1106.2,404.1 1108.2,409.5 1110.2,417.5 1112.2,426.5 1114.2,435.1 1116.2,442.0 1118.2,446.1 1120.2,447.9 1122.2,448.9 1124.2,449.7 1126.2,450.5 1128.2,451.3 1130.2,452.2 1132.2,453.1 1134.2,454.2 1136.2,455.2 1136.2,498.0 1134.2,499.0 1132.2,499.7 1130.2,499.8 1128.2,499.1 1126.2,497.1 1124.2,493.8 1122.2,489.3 1120.2,483.8 1118.2,477.4 1116.2,470.6 1114.2,464.7 1112.2,460.5 1110.2,457.9 1108.2,456.2 1106.2,455.1 1104.2,455.0 1102.2,456.0 1100.2,459.1 1098.2,464.8 1096.2,471.0 1094.2,475.5 1092.2,477.7 1090.2,477.5 1088.2,474.6 1086.2,470.5 1084.2,466.1 1082.2,462.1 1080.2,458.8 1078.2,457.3 1076.2,458.4 1074.2,462.0 1072.2,467.5 1070.2,474.1 1068.2,479.9 1066.2,483.2 1064.2,483.5 1062.2,482.5 1060.2,481.3 1058.2,480.6 1056.2,481.0 1054.2,481.8 1052.2,482.2 1050.2,482.3 1048.2,482.1 1046.2,481.6 1044.2,480.9 1042.2,479.9 1040.2,478.8 1038.2,478.1 1036.2,478.1 1034.2,478.3 1032.2,478.8 1030.2,480.3 1028.2,483.9 1026.2,489.6 1024.2,496.5 1022.2,503.2 1020.2,507.3 1018.2,507.6 1016.2,504.7 1014.2,499.7 1012.2,492.5 1010.2,484.1 1008.2,477.0 1006.2,471.8 1004.2,468.2 1002.2,466.5 1000.2,466.8 998.2,468.8 996.2,472.1 994.2,476.5 992.2,481.8 990.2,488.0 988.2,494.7 986.2,500.2 984.2,503.5 982.2,503.8 980.2,501.3 978.2,496.9 976.2,492.0 974.2,488.3 972.2,489.1 970.2,496.6 968.2,508.6 966.2,521.2 964.2,530.6 962.2,533.3 960.2,529.0 958.2,520.1 956.2,509.3 954.2,497.8 952.2,486.2 950.2,476.2 948.2,469.7 946.2,467.3 944.2,468.9 942.2,473.7 940.2,480.1 938.2,486.8 936.2,492.9 934.2,498.6 932.2,503.7 930.2,507.6 928.2,509.1 926.2,507.4 924.2,503.3 922.2,497.7 920.2,490.9 918.2,483.9 916.2,477.7 914.2,472.7 912.2,468.8 910.2,466.2 908.2,465.0 906.2,465.2 904.2,467.1 902.2,470.6 900.2,475.5 898.2,481.2 896.2,487.2 894.2,492.9 892.2,497.7 890.2,501.8 888.2,505.2 886.2,507.9 884.2,509.4 882.2,509.4 880.2,507.7 878.2,504.4 876.2,500.3 874.2,495.7 872.2,490.3 870.2,484.5 868.2,479.0 866.2,474.7 864.2,472.7 862.2,473.8 860.2,477.8 858.2,483.5 856.2,490.0 854.2,496.9 852.2,502.9 850.2,506.8 848.2,509.0 846.2,510.4 844.2,511.3 842.2,512.5 840.2,514.4 838.2,515.8 836.2,513.9 834.2,508.4 832.2,500.8 830.2,493.1 828.2,485.7 826.2,479.0 824.2,473.6 822.2,470.2 820.2,469.3 818.2,470.6 816.2,473.7 814.2,477.7 812.2,482.2 810.2,487.1 808.2,491.6 806.2,493.6 804.2,492.5 802.2,489.4 800.2,485.4 798.2,481.7 796.2,478.6 794.2,476.2 792.2,475.1 790.2,475.8 788.2,478.7 786.2,483.2 784.2,488.7 782.2,494.5 780.2,499.8 778.2,502.8 776.2,501.6 774.2,497.2 772.2,491.7 770.2,486.1 768.2,481.1 766.2,478.4 764.2,479.2 762.2,481.8 760.2,484.7 758.2,485.8 756.2,483.8 754.2,479.5 752.2,474.1 750.2,468.7 748.2,464.5 746.2,461.9 744.2,461.4 742.2,463.3 740.2,467.8 738.2,474.8 736.2,483.3 734.2,492.7 732.2,502.6 730.2,511.5 728.2,518.5 726.2,524.2 724.2,529.4 722.2,533.7 720.2,536.5 718.2,537.9 716.2,537.8 714.2,535.1 712.2,530.0 710.2,524.2 708.2,518.5 706.2,512.8 704.2,507.1 702.2,501.2 700.2,494.9 698.2,487.9 696.2,479.4 694.2,469.9 692.2,460.9 690.2,453.6 688.2,448.9 686.2,447.2 684.2,448.9 682.2,453.6 680.2,460.8 678.2,470.2 676.2,480.5 674.2,490.0 672.2,497.1 670.2,501.6 668.2,504.1 666.2,505.2 664.2,505.2 662.2,504.2 660.2,502.6 658.2,501.0 656.2,499.4 654.2,497.9 652.2,496.7 650.2,496.2 648.2,496.2 646.2,496.8 644.2,497.5 642.2,498.3 640.2,499.2 638.2,499.9 636.2,499.7 634.2,497.5 632.2,493.5 630.2,488.7 628.2,483.7 626.2,478.7 624.2,474.8 622.2,474.0 620.2,477.2 618.2,481.9 616.2,486.4 614.2,489.9 612.2,491.2 610.2,489.6 608.2,486.1 606.2,482.4 604.2,480.6 602.2,481.4 600.2,484.2 598.2,488.4 596.2,493.2 594.2,498.3 592.2,503.8 590.2,510.1 588.2,517.8 586.2,526.8 584.2,536.3 582.2,546.0 580.2,554.3 578.2,559.0 576.2,559.3 574.2,555.6 572.2,548.8 570.2,539.7 568.2,528.1 566.2,515.0 564.2,502.0 562.2,489.7 560.2,478.2 558.2,468.2 556.2,461.3 554.2,458.4 552.2,455.5 550.2,448.8 548.2,439.7 546.2,432.1 544.2,428.9 542.2,430.1 540.2,433.5 538.2,437.8 536.2,442.5 534.2,446.9 532.2,450.1 530.2,452.0 528.2,454.3 526.2,458.6 524.2,464.5 522.2,471.0 520.2,477.2 518.2,482.9 516.2,487.8 514.2,491.5 512.2,493.3 510.2,493.1 508.2,491.7 506.2,490.1 504.2,488.9 502.2,488.6 500.2,489.8 498.2,492.7 496.2,495.8 494.2,498.0 492.2,499.4 490.2,499.7 488.2,498.4 486.2,495.5 484.2,491.3 482.2,486.4 480.2,481.0 478.2,475.0 476.2,469.3 474.2,465.6 472.2,466.1 470.2,471.1 468.2,478.3 466.2,486.1 464.2,493.2 462.2,499.1 460.2,503.4 458.2,505.4 456.2,504.9 454.2,503.1 452.2,500.9 450.2,498.5 448.2,496.7 446.2,496.4 444.2,496.7 442.2,495.8 440.2,493.5 438.2,490.0 436.2,486.1 434.2,482.1 432.2,478.1 430.2,474.1 428.2,470.1 426.2,466.1 424.2,462.1 422.2,458.4 420.2,456.1 418.2,457.1 416.2,461.3 414.2,467.1 412.2,473.5 410.2,479.9 408.2,486.3 406.2,492.6 404.2,498.5 402.2,503.5 400.2,507.6 398.2,510.4 396.2,511.5 394.2,510.6 392.2,507.8 390.2,503.6 388.2,498.8 386.2,493.7 384.2,488.3 382.2,483.1 380.2,478.4 378.2,474.7 376.2,472.2 374.2,470.8 372.2,470.8 370.2,472.1 368.2,473.3 366.2,473.3 364.2,472.3 362.2,470.9 360.2,469.1 358.2,467.2 356.2,465.3 354.2,464.7 352.2,466.9 350.2,472.1 348.2,479.5 346.2,487.4 344.2,495.4 342.2,503.4 340.2,510.6 338.2,515.6 336.2,517.5 334.2,517.1 332.2,515.5 330.2,513.3 328.2,510.2 326.2,506.0 324.2,499.4 322.2,488.5 320.2,473.5 318.2,458.7 316.2,448.4 314.2,443.3 312.2,441.6 310.2,442.0 308.2,443.6 306.2,446.1 304.2,449.9 302.2,454.8 300.2,460.5 298.2,466.3 296.2,471.7 294.2,476.0 292.2,478.7 290.2,480.1 288.2,481.6 286.2,484.2 284.2,488.0 282.2,492.8 280.2,498.3 278.2,503.7 276.2,507.2 274.2,507.1 272.2,501.3 270.2,489.2 268.2,473.2 266.2,457.0 264.2,444.1 262.2,435.0 260.2,429.0 258.2,427.0 256.2,429.4 254.2,434.8 252.2,442.8 250.2,454.7 248.2,470.0 246.2,485.7 244.2,498.2 242.2,505.6 240.2,508.9 238.2,509.8 236.2,509.2 234.2,507.8 232.2,505.7 230.2,503.3 228.2,501.0 226.2,499.4 224.2,499.5 222.2,502.3 220.2,507.1 218.2,512.6 216.2,517.4 214.2,520.3 212.2,521.3 210.2,520.7 208.2,519.1 206.2,516.5 204.2,513.4 202.2,509.9 200.2,506.0 198.2,501.3 196.2,494.8 194.2,484.7 192.2,469.5 190.2,452.1 188.2,436.8 186.2,425.1 184.2,415.8 182.2,409.2 180.2,407.6 178.2,411.8 176.2,419.7 174.2,430.0 172.2,443.3 170.2,460.6 168.2,479.4 166.2,495.5 164.2,505.8 162.2,510.5 160.2,511.7 158.2,510.2 156.2,506.1 154.2,499.9 152.2,492.5 150.2,484.6 148.2,477.4 146.2,472.7 144.2,472.5 142.2,476.8 140.2,483.8 138.2,491.5 136.2,498.4 134.2,503.0 132.2,505.1 130.2,506.0 128.2,506.5 126.2,507.0 124.2,508.1 122.2,509.7 120.2,510.6 118.2,509.1 116.2,503.9 114.2,494.5 112.2,483.0 110.2,471.0 108.2,459.5 106.2,450.1 104.2,445.3" fill="#e3e3e3" stroke="none"/>
<line x1="94" y1="87.3" x2="1140" y2="87.3" stroke="#000" stroke-width="1.05" stroke-dasharray="1.2 4.3"/>
<line x1="94" y1="252.6" x2="1140" y2="252.6" stroke="#000" stroke-width="1.05" stroke-dasharray="1.2 4.3"/>
<line x1="94" y1="457.8" x2="1140" y2="457.8" stroke="#000" stroke-width="1.05" stroke-dasharray="1.2 4.3"/>
<g fill="none" stroke-linejoin="round" stroke-linecap="round">
<polyline points="94.0,153.1 95.5,151.5 97.0,150.5 98.5,150.3 100.0,151.1 101.5,153.0 103.0,155.1 104.5,157.4 106.0,159.7 107.5,161.8 109.0,163.4 110.5,164.3 112.0,164.6 113.5,163.9 115.0,163.7 116.5,164.6 118.0,165.5 119.5,166.4 121.0,167.2 122.5,167.9 124.0,168.2 125.5,166.6 127.0,163.3 128.5,158.0 130.0,152.3 131.5,148.1 133.0,144.4 134.5,141.3 136.0,139.2 137.5,139.4 139.0,140.9 140.5,142.7 142.0,144.8 143.5,146.4 145.0,145.9 146.5,143.3 148.0,139.7 149.5,136.2 151.0,132.9 152.5,131.7 154.0,133.3 155.5,135.8 157.0,138.4 158.5,140.7 160.0,142.6 161.5,144.4 163.0,146.3 164.5,148.2 166.0,149.1 167.5,148.2 169.0,146.3 170.5,144.4 172.0,142.5 173.5,140.8 175.0,139.9 176.5,140.4 178.0,141.5 179.5,142.9 181.0,144.7 182.5,146.2 184.0,146.8 185.5,146.9 187.0,147.1 188.5,147.4 190.0,147.7 191.5,148.6 193.0,150.0 194.5,151.5 196.0,153.0 197.5,154.4 199.0,155.1 200.5,154.6 202.0,153.3 203.5,152.4 205.0,151.9 206.5,151.4 208.0,150.9 209.5,150.6 211.0,149.4 212.5,147.2 214.0,144.9 215.5,142.7 217.0,140.4 218.5,138.2 220.0,136.2 221.5,135.6 223.0,136.0 224.5,136.7 226.0,137.7 227.5,138.9 229.0,140.0 230.5,140.7 232.0,140.6 233.5,139.9 235.0,137.5 236.5,135.5 238.0,134.7 239.5,134.4 241.0,134.8 242.5,135.7 244.0,136.9 245.5,138.5 247.0,140.3 248.5,142.5 250.0,145.1 251.5,148.3 253.0,152.2 254.5,156.8 256.0,161.4 257.5,165.6 259.0,169.2 260.5,171.6 262.0,171.5 263.5,169.3 265.0,166.7 266.5,163.8 268.0,160.8 269.5,157.7 271.0,154.4 272.5,150.9 274.0,147.6 275.5,145.1 277.0,143.9 278.5,146.1 280.0,150.3 281.5,155.7 283.0,160.0 284.5,163.6 286.0,166.6 287.5,168.9 289.0,170.0 290.5,169.6 292.0,167.4 293.5,163.7 295.0,158.5 296.5,153.7 298.0,150.2 299.5,148.6 301.0,150.1 302.5,152.4 304.0,154.8 305.5,157.2 307.0,159.6 308.5,161.2 310.0,160.6 311.5,158.4 313.0,156.3 314.5,154.3 316.0,155.1 317.5,160.6 319.0,166.7 320.5,173.0 322.0,178.3 323.5,182.7 325.0,187.2 326.5,192.5 328.0,196.4 329.5,196.5 331.0,193.2 332.5,187.9 334.0,181.9 335.5,176.4 337.0,171.2 338.5,165.9 340.0,160.7 341.5,155.4 343.0,150.2 344.5,146.0 346.0,145.6 347.5,151.3 349.0,160.0 350.5,169.1 352.0,177.5 353.5,185.3 355.0,198.0 356.5,211.8 358.0,217.1 359.5,216.3 361.0,212.8 362.5,207.0 364.0,199.6 365.5,191.6 367.0,184.3 368.5,178.7 370.0,174.2 371.5,170.4 373.0,167.2 374.5,164.4 376.0,162.2 377.5,161.2 379.0,162.1 380.5,164.8 382.0,168.9 383.5,174.4 385.0,179.9 386.5,184.0 388.0,186.8 389.5,188.0 391.0,187.6 392.5,185.5 394.0,182.7 395.5,179.6 397.0,176.0 398.5,172.1 400.0,168.4 401.5,165.2 403.0,162.2 404.5,159.5 406.0,157.0 407.5,154.9 409.0,153.3 410.5,152.4 412.0,152.1 413.5,152.3 415.0,153.1 416.5,154.6 418.0,156.9 419.5,159.3 421.0,161.2 422.5,162.8 424.0,164.1 425.5,164.9 427.0,165.3 428.5,165.1 430.0,164.4 431.5,163.5 433.0,162.5 434.5,160.9 436.0,160.1 437.5,161.2 439.0,163.4 440.5,165.7 442.0,168.4 443.5,170.7 445.0,171.2 446.5,170.0 448.0,168.3 449.5,166.8 451.0,165.3 452.5,164.0 454.0,163.7 455.5,164.5 457.0,166.2 458.5,168.6 460.0,170.9 461.5,172.6 463.0,173.7 464.5,173.7 466.0,172.1 467.5,169.7 469.0,166.6 470.5,163.5 472.0,160.9 473.5,159.0 475.0,158.2 476.5,158.4 478.0,159.2 479.5,160.4 481.0,161.7 482.5,163.1 484.0,164.4 485.5,165.5 487.0,166.5 488.5,167.3 490.0,167.1 491.5,165.9 493.0,164.3 494.5,162.2 496.0,159.7 497.5,156.3 499.0,152.2 500.5,148.7 502.0,146.0 503.5,146.0 505.0,147.6 506.5,149.4 508.0,151.3 509.5,153.2 511.0,154.9 512.5,156.2 514.0,157.1 515.5,157.4 517.0,157.5 518.5,157.8 520.0,158.3 521.5,158.8 523.0,159.5 524.5,160.4 526.0,161.4 527.5,162.3 529.0,162.9 530.5,163.2 532.0,162.8 533.5,160.2 535.0,156.3 536.5,151.6 538.0,147.0 539.5,143.1 541.0,139.7 542.5,136.8 544.0,135.7 545.5,136.1 547.0,138.3 548.5,142.4 550.0,147.2 551.5,152.8 553.0,158.8 554.5,164.8 556.0,170.8 557.5,176.8 559.0,182.8 560.5,189.2 562.0,196.7 563.5,204.6 565.0,212.2 566.5,219.7 568.0,226.2 569.5,228.9 571.0,229.7 572.5,227.7 574.0,221.3 575.5,211.3 577.0,205.8 578.5,201.0 580.0,196.6 581.5,192.6 583.0,189.2 584.5,186.4 586.0,183.7 587.5,181.1 589.0,178.5 590.5,175.9 592.0,173.2 593.5,171.2 595.0,170.0 596.5,168.9 598.0,168.3 599.5,167.7 601.0,165.9 602.5,163.3 604.0,160.3 605.5,157.0 607.0,153.5 608.5,150.3 610.0,148.1 611.5,147.1 613.0,147.8 614.5,150.0 616.0,153.3 617.5,157.3 619.0,161.0 620.5,164.1 622.0,166.5 623.5,167.2 625.0,166.9 626.5,166.4 628.0,165.8 629.5,165.0 631.0,164.2 632.5,163.7 634.0,164.7 635.5,165.8 637.0,165.3 638.5,164.1 640.0,162.3 641.5,160.1 643.0,157.8 644.5,155.6 646.0,153.7 647.5,152.2 649.0,151.3 650.5,150.8 652.0,150.6 653.5,150.3 655.0,150.3 656.5,150.7 658.0,151.9 659.5,153.4 661.0,155.2 662.5,157.1 664.0,159.0 665.5,160.7 667.0,161.3 668.5,160.1 670.0,158.8 671.5,157.4 673.0,156.1 674.5,154.7 676.0,153.4 677.5,152.3 679.0,151.8 680.5,152.1 682.0,153.1 683.5,153.9 685.0,154.2 686.5,154.5 688.0,154.3 689.5,153.0 691.0,152.1 692.5,153.1 694.0,155.7 695.5,159.7 697.0,163.8 698.5,166.5 700.0,168.7 701.5,170.5 703.0,171.9 704.5,172.1 706.0,171.3 707.5,170.2 709.0,169.5 710.5,169.1 712.0,169.1 713.5,170.5 715.0,173.6 716.5,178.3 718.0,183.5 719.5,187.6 721.0,191.5 722.5,194.8 724.0,197.1 725.5,198.0 727.0,197.0 728.5,194.4 730.0,191.5 731.5,188.3 733.0,185.0 734.5,181.6 736.0,178.0 737.5,174.8 739.0,173.6 740.5,174.0 742.0,175.2 743.5,176.4 745.0,177.9 746.5,179.7 748.0,181.6 749.5,183.4 751.0,184.4 752.5,184.0 754.0,182.3 755.5,179.7 757.0,176.6 758.5,172.9 760.0,170.0 761.5,168.9 763.0,170.0 764.5,173.0 766.0,177.3 767.5,182.3 769.0,187.2 770.5,192.3 772.0,196.9 773.5,198.6 775.0,196.5 776.5,192.2 778.0,187.0 779.5,182.2 781.0,178.8 782.5,175.6 784.0,172.7 785.5,170.4 787.0,168.2 788.5,165.9 790.0,163.7 791.5,161.4 793.0,159.3 794.5,158.3 796.0,158.4 797.5,160.3 799.0,163.9 800.5,168.6 802.0,173.2 803.5,177.1 805.0,180.4 806.5,182.7 808.0,182.2 809.5,179.9 811.0,177.1 812.5,173.6 814.0,170.2 815.5,167.8 817.0,168.2 818.5,171.4 820.0,176.2 821.5,181.7 823.0,188.1 824.5,198.3 826.0,208.9 827.5,214.5 829.0,216.5 830.5,216.1 832.0,213.1 833.5,206.5 835.0,196.5 836.5,185.6 838.0,176.4 839.5,169.5 841.0,164.3 842.5,160.8 844.0,159.2 845.5,159.3 847.0,159.7 848.5,160.5 850.0,162.2 851.5,161.6 853.0,159.4 854.5,157.0 856.0,154.8 857.5,152.6 859.0,150.6 860.5,150.7 862.0,153.9 863.5,158.4 865.0,162.9 866.5,167.1 868.0,171.0 869.5,173.6 871.0,174.1 872.5,172.6 874.0,170.3 875.5,168.0 877.0,165.9 878.5,163.9 880.0,161.8 881.5,159.5 883.0,156.6 884.5,153.4 886.0,150.5 887.5,147.9 889.0,145.3 890.5,143.3 892.0,142.5 893.5,143.8 895.0,147.7 896.5,153.6 898.0,159.7 899.5,164.6 901.0,169.1 902.5,173.1 904.0,176.0 905.5,177.3 907.0,176.8 908.5,174.5 910.0,171.6 911.5,168.6 913.0,165.3 914.5,162.0 916.0,158.7 917.5,155.5 919.0,152.4 920.5,149.4 922.0,146.5 923.5,143.6 925.0,141.0 926.5,138.7 928.0,137.1 929.5,136.5 931.0,136.7 932.5,137.5 934.0,138.9 935.5,140.8 937.0,143.1 938.5,145.7 940.0,148.7 941.5,152.3 943.0,156.2 944.5,162.7 946.0,175.5 947.5,189.6 949.0,203.6 950.5,217.7 952.0,231.7 953.5,245.6 955.0,255.2 956.5,254.0 958.0,244.9 959.5,232.9 961.0,220.9 962.5,209.1 964.0,197.4 965.5,185.9 967.0,175.0 968.5,168.8 970.0,170.3 971.5,176.0 973.0,179.8 974.5,182.6 976.0,183.2 977.5,181.7 979.0,178.4 980.5,174.7 982.0,170.9 983.5,166.8 985.0,162.6 986.5,158.6 988.0,155.4 989.5,153.9 991.0,154.8 992.5,156.3 994.0,157.9 995.5,159.2 997.0,160.5 998.5,161.7 1000.0,162.7 1001.5,162.8 1003.0,161.8 1004.5,159.9 1006.0,157.2 1007.5,153.9 1009.0,150.4 1010.5,146.8 1012.0,143.0 1013.5,139.1 1015.0,135.3 1016.5,132.4 1018.0,130.2 1019.5,130.3 1021.0,133.6 1022.5,139.2 1024.0,146.3 1025.5,154.1 1027.0,161.7 1028.5,168.6 1030.0,174.6 1031.5,176.0 1033.0,172.5 1034.5,167.7 1036.0,162.5 1037.5,157.0 1039.0,149.4 1040.5,142.6 1042.0,138.6 1043.5,135.6 1045.0,133.1 1046.5,131.4 1048.0,130.6 1049.5,130.6 1051.0,131.2 1052.5,131.9 1054.0,132.3 1055.5,133.1 1057.0,136.2 1058.5,138.6 1060.0,139.3 1061.5,139.0 1063.0,137.7 1064.5,133.8 1066.0,128.8 1067.5,123.8 1069.0,118.8 1070.5,113.9 1072.0,111.0 1073.5,110.0 1075.0,110.6 1076.5,112.9 1078.0,116.7 1079.5,119.7 1081.0,121.6 1082.5,121.5 1084.0,120.6 1085.5,119.6 1087.0,118.5 1088.5,117.3 1090.0,116.2 1091.5,115.4 1093.0,114.9 1094.5,114.5 1096.0,115.3 1097.5,115.7 1099.0,113.6 1100.5,109.8 1102.0,105.9 1103.5,101.8 1105.0,98.5 1106.5,97.2 1108.0,97.2 1109.5,98.8 1111.0,102.4 1112.5,107.2 1114.0,111.1 1115.5,114.0 1117.0,116.0 1118.5,115.5 1120.0,111.6 1121.5,105.4 1123.0,97.8 1124.5,89.7 1126.0,82.0 1127.5,74.9 1129.0,69.4 1130.5,66.7 1132.0,65.5 1133.5,65.0 1135.0,65.3 1136.5,66.3 1137.2,67.0" stroke="#dc0505" stroke-width="2.45"/>
<polyline points="94.0,137.7 95.5,136.6 97.0,136.0 98.5,135.7 100.0,135.7 101.5,136.2 103.0,137.3 104.5,138.6 106.0,140.1 107.5,141.6 109.0,143.1 110.5,144.3 112.0,144.9 113.5,145.0 115.0,143.6 116.5,143.3 118.0,144.0 119.5,144.8 121.0,145.7 122.5,146.8 124.0,147.7 125.5,148.0 127.0,146.6 128.5,144.2 130.0,141.8 131.5,139.4 133.0,137.0 134.5,134.6 136.0,132.4 137.5,130.9 139.0,130.1 140.5,130.1 142.0,129.8 143.5,128.5 145.0,127.2 146.5,126.3 148.0,125.6 149.5,124.9 151.0,124.1 152.5,123.7 154.0,124.1 155.5,125.5 157.0,127.0 158.5,128.5 160.0,129.9 161.5,130.9 163.0,131.1 164.5,130.5 166.0,129.2 167.5,127.7 169.0,126.2 170.5,125.2 172.0,124.3 173.5,123.5 175.0,122.8 176.5,122.5 178.0,123.2 179.5,125.0 181.0,127.3 182.5,129.7 184.0,132.2 185.5,134.6 187.0,136.0 188.5,136.6 190.0,136.2 191.5,135.7 193.0,136.2 194.5,137.5 196.0,137.5 197.5,136.4 199.0,134.5 200.5,131.9 202.0,130.5 203.5,129.8 205.0,129.7 206.5,130.0 208.0,130.1 209.5,129.8 211.0,129.2 212.5,129.2 214.0,129.6 215.5,130.2 217.0,130.9 218.5,131.7 220.0,132.4 221.5,132.7 223.0,132.2 224.5,131.1 226.0,129.4 227.5,127.0 229.0,124.4 230.5,122.3 232.0,120.6 233.5,119.6 235.0,119.8 236.5,121.5 238.0,124.1 239.5,126.4 241.0,128.2 242.5,129.6 244.0,130.5 245.5,131.0 247.0,131.1 248.5,130.5 250.0,129.7 251.5,130.4 253.0,132.2 254.5,134.4 256.0,136.7 257.5,139.0 259.0,140.9 260.5,141.2 262.0,139.5 263.5,137.3 265.0,134.9 266.5,132.8 268.0,131.2 269.5,131.3 271.0,132.3 272.5,133.5 274.0,134.8 275.5,135.8 277.0,135.2 278.5,135.3 280.0,137.0 281.5,138.7 283.0,140.4 284.5,141.8 286.0,142.1 287.5,141.2 289.0,140.0 290.5,138.9 292.0,137.5 293.5,134.7 295.0,130.8 296.5,127.8 298.0,125.4 299.5,124.7 301.0,125.5 302.5,127.3 304.0,130.1 305.5,132.3 307.0,133.6 308.5,134.9 310.0,136.4 311.5,138.0 313.0,139.7 314.5,141.8 316.0,144.8 317.5,148.5 319.0,153.6 320.5,158.5 322.0,162.5 323.5,166.1 325.0,169.4 326.5,172.9 328.0,174.9 329.5,173.6 331.0,170.5 332.5,167.2 334.0,164.2 335.5,161.2 337.0,158.2 338.5,154.7 340.0,150.7 341.5,147.0 343.0,143.7 344.5,141.2 346.0,140.1 347.5,143.4 349.0,150.0 350.5,158.1 352.0,166.7 353.5,174.4 355.0,181.0 356.5,186.5 358.0,190.0 359.5,188.0 361.0,183.6 362.5,178.5 364.0,172.5 365.5,168.2 367.0,166.1 368.5,164.8 370.0,163.8 371.5,162.7 373.0,160.5 374.5,157.1 376.0,155.0 377.5,153.9 379.0,153.6 380.5,154.3 382.0,156.8 383.5,159.4 385.0,162.0 386.5,164.6 388.0,167.3 389.5,169.8 391.0,169.9 392.5,167.3 394.0,163.8 395.5,160.2 397.0,156.3 398.5,152.6 400.0,149.3 401.5,147.0 403.0,145.3 404.5,143.7 406.0,142.4 407.5,141.6 409.0,141.0 410.5,140.7 412.0,140.4 413.5,140.2 415.0,140.1 416.5,140.4 418.0,141.1 419.5,141.9 421.0,143.0 422.5,144.4 424.0,146.5 425.5,149.3 427.0,150.8 428.5,152.0 430.0,153.0 431.5,154.1 433.0,155.1 434.5,155.9 436.0,156.3 437.5,156.3 439.0,155.9 440.5,155.6 442.0,155.2 443.5,154.8 445.0,154.4 446.5,154.0 448.0,152.8 449.5,151.5 451.0,151.1 452.5,151.6 454.0,152.9 455.5,154.5 457.0,156.0 458.5,157.2 460.0,158.1 461.5,158.6 463.0,158.4 464.5,157.1 466.0,154.8 467.5,151.6 469.0,148.5 470.5,145.7 472.0,143.1 473.5,142.1 475.0,143.0 476.5,144.4 478.0,145.9 479.5,147.4 481.0,148.9 482.5,150.4 484.0,151.9 485.5,153.4 487.0,154.9 488.5,156.4 490.0,157.9 491.5,158.9 493.0,158.4 494.5,156.2 496.0,153.4 497.5,150.8 499.0,148.4 500.5,146.2 502.0,144.3 503.5,143.4 505.0,143.9 506.5,145.4 508.0,146.9 509.5,148.4 511.0,149.9 512.5,151.4 514.0,152.2 515.5,150.0 517.0,148.1 518.5,148.7 520.0,149.5 521.5,150.2 523.0,151.0 524.5,151.7 526.0,152.5 527.5,152.9 529.0,153.1 530.5,152.6 532.0,150.6 533.5,147.8 535.0,144.0 536.5,140.0 538.0,136.7 539.5,133.9 541.0,131.6 542.5,129.9 544.0,129.2 545.5,129.2 547.0,130.0 548.5,132.5 550.0,136.0 551.5,139.9 553.0,143.9 554.5,147.9 556.0,152.1 557.5,156.7 559.0,161.8 560.5,166.6 562.0,170.7 563.5,174.4 565.0,177.9 566.5,181.0 568.0,183.6 569.5,185.9 571.0,187.5 572.5,187.4 574.0,185.2 575.5,181.6 577.0,177.3 578.5,172.6 580.0,168.2 581.5,164.5 583.0,161.6 584.5,159.6 586.0,158.5 587.5,158.1 589.0,158.3 590.5,158.8 592.0,160.0 593.5,161.7 595.0,162.9 596.5,163.6 598.0,163.2 599.5,161.2 601.0,158.2 602.5,154.9 604.0,151.4 605.5,148.2 607.0,145.3 608.5,144.0 610.0,143.9 611.5,144.3 613.0,144.9 614.5,145.5 616.0,146.2 617.5,146.7 619.0,147.0 620.5,147.2 622.0,147.0 623.5,146.6 625.0,146.1 626.5,145.6 628.0,145.0 629.5,144.4 631.0,143.8 632.5,143.2 634.0,142.6 635.5,143.9 637.0,146.1 638.5,146.4 640.0,146.0 641.5,144.7 643.0,143.0 644.5,141.0 646.0,138.7 647.5,135.9 649.0,133.3 650.5,131.1 652.0,129.6 653.5,129.1 655.0,129.5 656.5,130.6 658.0,131.9 659.5,133.4 661.0,135.0 662.5,136.8 664.0,138.7 665.5,140.6 667.0,142.3 668.5,143.7 670.0,144.3 671.5,143.6 673.0,142.3 674.5,140.8 676.0,139.2 677.5,137.9 679.0,136.8 680.5,136.0 682.0,135.5 683.5,135.4 685.0,135.7 686.5,136.2 688.0,136.9 689.5,138.0 691.0,139.3 692.5,141.1 694.0,143.5 695.5,146.7 697.0,149.8 698.5,152.5 700.0,154.7 701.5,155.1 703.0,154.3 704.5,153.1 706.0,151.9 707.5,150.5 709.0,149.3 710.5,148.9 712.0,149.7 713.5,151.5 715.0,153.8 716.5,156.1 718.0,158.2 719.5,160.1 721.0,161.9 722.5,163.5 724.0,164.7 725.5,165.5 727.0,165.8 728.5,165.1 730.0,163.5 731.5,161.1 733.0,158.2 734.5,155.9 736.0,154.2 737.5,153.0 739.0,152.2 740.5,151.8 742.0,152.0 743.5,153.0 745.0,154.2 746.5,155.3 748.0,156.4 749.5,157.1 751.0,156.9 752.5,155.7 754.0,154.1 755.5,152.4 757.0,150.6 758.5,148.9 760.0,147.7 761.5,147.5 763.0,149.0 764.5,151.2 766.0,153.6 767.5,156.2 769.0,158.9 770.5,161.5 772.0,163.1 773.5,163.0 775.0,161.6 776.5,159.5 778.0,157.0 779.5,154.3 781.0,151.7 782.5,149.4 784.0,147.4 785.5,146.0 787.0,145.1 788.5,144.2 790.0,143.3 791.5,142.3 793.0,141.3 794.5,140.8 796.0,141.2 797.5,142.2 799.0,144.0 800.5,146.4 802.0,149.6 803.5,153.2 805.0,156.2 806.5,158.2 808.0,159.1 809.5,158.6 811.0,156.5 812.5,153.0 814.0,148.3 815.5,145.8 817.0,145.1 818.5,145.4 820.0,148.1 821.5,153.1 823.0,158.1 824.5,163.1 826.0,168.1 827.5,171.5 829.0,173.2 830.5,173.9 832.0,172.2 833.5,167.5 835.0,160.3 836.5,151.4 838.0,142.3 839.5,134.9 841.0,129.2 842.5,125.9 844.0,125.1 845.5,125.8 847.0,126.6 848.5,127.3 850.0,128.1 851.5,128.9 853.0,129.4 854.5,129.8 856.0,130.1 857.5,130.3 859.0,130.5 860.5,131.5 862.0,133.7 863.5,136.2 865.0,138.5 866.5,140.8 868.0,143.0 869.5,144.8 871.0,145.4 872.5,144.9 874.0,144.0 875.5,142.7 877.0,141.2 878.5,139.7 880.0,138.2 881.5,136.7 883.0,135.2 884.5,133.7 886.0,132.1 887.5,130.1 889.0,128.2 890.5,127.0 892.0,126.7 893.5,127.3 895.0,128.6 896.5,130.3 898.0,132.4 899.5,134.7 901.0,136.9 902.5,139.0 904.0,140.8 905.5,142.5 907.0,143.3 908.5,142.9 910.0,141.9 911.5,140.7 913.0,139.4 914.5,138.0 916.0,136.3 917.5,134.3 919.0,132.0 920.5,129.6 922.0,126.9 923.5,124.2 925.0,121.9 926.5,120.5 928.0,120.4 929.5,121.4 931.0,122.8 932.5,124.5 934.0,126.4 935.5,128.4 937.0,129.7 938.5,129.9 940.0,130.0 941.5,131.0 943.0,132.7 944.5,135.9 946.0,141.8 947.5,149.8 949.0,159.0 950.5,167.7 952.0,175.0 953.5,181.3 955.0,185.6 956.5,187.3 958.0,186.0 959.5,181.0 961.0,174.2 962.5,166.8 964.0,158.7 965.5,151.0 967.0,146.4 968.5,146.5 970.0,149.1 971.5,151.5 973.0,153.5 974.5,155.2 976.0,155.9 977.5,155.1 979.0,153.0 980.5,150.1 982.0,146.6 983.5,143.8 985.0,141.6 986.5,139.8 988.0,138.5 989.5,137.7 991.0,137.9 992.5,139.3 994.0,140.9 995.5,142.3 997.0,143.7 998.5,145.1 1000.0,146.5 1001.5,147.6 1003.0,147.8 1004.5,145.8 1006.0,143.0 1007.5,140.0 1009.0,136.7 1010.5,133.0 1012.0,128.7 1013.5,124.5 1015.0,121.2 1016.5,118.6 1018.0,116.8 1019.5,116.1 1021.0,116.5 1022.5,117.7 1024.0,121.1 1025.5,125.6 1027.0,130.1 1028.5,134.6 1030.0,138.4 1031.5,139.6 1033.0,139.3 1034.5,138.0 1036.0,135.8 1037.5,133.0 1039.0,130.4 1040.5,128.7 1042.0,127.5 1043.5,127.1 1045.0,127.9 1046.5,128.7 1048.0,128.2 1049.5,127.5 1051.0,126.7 1052.5,125.9 1054.0,125.1 1055.5,124.5 1057.0,125.3 1058.5,126.5 1060.0,128.0 1061.5,129.7 1063.0,130.6 1064.5,129.9 1066.0,127.4 1067.5,123.7 1069.0,119.5 1070.5,114.8 1072.0,111.2 1073.5,109.8 1075.0,110.1 1076.5,111.4 1078.0,113.6 1079.5,116.3 1081.0,118.1 1082.5,119.1 1084.0,119.2 1085.5,118.4 1087.0,117.7 1088.5,116.9 1090.0,116.2 1091.5,115.4 1093.0,114.7 1094.5,113.9 1096.0,113.2 1097.5,111.5 1099.0,108.4 1100.5,104.6 1102.0,100.5 1103.5,97.1 1105.0,94.3 1106.5,92.8 1108.0,93.0 1109.5,94.5 1111.0,96.8 1112.5,99.7 1114.0,102.8 1115.5,105.3 1117.0,107.0 1118.5,107.2 1120.0,104.6 1121.5,99.9 1123.0,94.7 1124.5,89.2 1126.0,83.7 1127.5,78.8 1129.0,74.6 1130.5,71.0 1132.0,68.3 1133.5,66.6 1135.0,66.0 1135.2,66.0" stroke="#0303d8" stroke-width="2.45"/>
<polyline points="94.0,144.5 95.5,143.4 97.0,142.4 98.5,141.4 100.0,140.6 101.5,139.9 103.0,139.5 104.5,139.6 106.0,140.1 107.5,141.0 109.0,142.0 110.5,142.7 112.0,143.3 113.5,143.9 115.0,144.6 116.5,145.6 118.0,147.5 119.5,150.3 121.0,152.4 122.5,154.3 124.0,156.1 125.5,157.8 127.0,159.0 128.5,158.6 130.0,155.9 131.5,152.6 133.0,149.3 134.5,146.5 136.0,144.2 137.5,142.6 139.0,141.8 140.5,142.5 142.0,142.6 143.5,140.0 145.0,137.3 146.5,134.7 148.0,132.3 149.5,130.5 151.0,130.0 152.5,130.3 154.0,131.5 155.5,133.9 157.0,136.9 158.5,139.9 160.0,142.5 161.5,144.6 163.0,144.8 164.5,143.2 166.0,140.6 167.5,137.2 169.0,133.1 170.5,129.2 172.0,126.3 173.5,124.0 175.0,123.1 176.5,124.1 178.0,126.9 179.5,131.3 181.0,136.3 182.5,141.3 184.0,146.3 185.5,151.2 187.0,154.4 188.5,156.1 190.0,156.6 191.5,155.3 193.0,152.9 194.5,150.7 196.0,148.7 197.5,146.7 199.0,144.9 200.5,143.5 202.0,142.7 203.5,141.9 205.0,140.6 206.5,138.5 208.0,133.7 209.5,129.4 211.0,126.7 212.5,124.8 214.0,124.0 215.5,124.8 217.0,127.2 218.5,131.0 220.0,136.2 221.5,140.9 223.0,143.9 224.5,145.3 226.0,144.8 227.5,141.7 229.0,136.9 230.5,132.3 232.0,128.0 233.5,124.6 235.0,122.9 236.5,122.7 238.0,123.6 239.5,124.6 241.0,125.9 242.5,127.3 244.0,128.8 245.5,130.4 247.0,132.1 248.5,134.0 250.0,136.3 251.5,139.0 253.0,141.7 254.5,144.2 256.0,146.5 257.5,148.4 259.0,148.3 260.5,146.1 262.0,142.8 263.5,139.7 265.0,137.1 266.5,135.1 268.0,134.2 269.5,134.3 271.0,134.9 272.5,136.0 274.0,137.2 275.5,138.3 277.0,138.8 278.5,139.4 280.0,141.2 281.5,144.5 283.0,147.5 284.5,150.2 286.0,151.6 287.5,151.6 289.0,151.2 290.5,150.9 292.0,150.3 293.5,147.7 295.0,143.6 296.5,142.0 298.0,140.7 299.5,139.6 301.0,138.6 302.5,137.6 304.0,136.7 305.5,136.1 307.0,135.7 308.5,136.1 310.0,137.5 311.5,139.3 313.0,141.2 314.5,143.9 316.0,148.3 317.5,154.4 319.0,161.1 320.5,168.4 322.0,174.6 323.5,179.1 325.0,182.8 326.5,186.4 328.0,188.7 329.5,187.9 331.0,185.2 332.5,181.5 334.0,177.4 335.5,173.3 337.0,169.2 338.5,165.3 340.0,161.6 341.5,158.1 343.0,155.6 344.5,154.4 346.0,154.6 347.5,158.2 349.0,165.1 350.5,173.8 352.0,179.7 353.5,184.6 355.0,189.1 356.5,194.2 358.0,198.1 359.5,197.0 361.0,191.9 362.5,186.0 364.0,181.3 365.5,176.8 367.0,172.3 368.5,168.2 370.0,164.4 371.5,161.3 373.0,159.3 374.5,158.1 376.0,157.3 377.5,157.0 379.0,157.8 380.5,159.4 382.0,161.7 383.5,164.5 385.0,167.1 386.5,169.0 388.0,170.4 389.5,171.1 391.0,171.0 392.5,170.4 394.0,169.3 395.5,167.9 397.0,166.4 398.5,164.9 400.0,163.1 401.5,161.3 403.0,159.5 404.5,157.7 406.0,155.9 407.5,154.1 409.0,152.3 410.5,150.6 412.0,149.1 413.5,147.7 415.0,146.4 416.5,145.2 418.0,144.8 419.5,145.4 421.0,146.5 422.5,147.6 424.0,148.8 425.5,150.0 427.0,151.2 428.5,152.4 430.0,153.6 431.5,154.8 433.0,156.0 434.5,157.2 436.0,158.3 437.5,159.4 439.0,160.9 440.5,162.5 442.0,164.0 443.5,164.7 445.0,162.9 446.5,160.3 448.0,157.4 449.5,153.8 451.0,152.1 452.5,152.8 454.0,153.6 455.5,154.3 457.0,155.1 458.5,155.8 460.0,156.4 461.5,156.1 463.0,155.3 464.5,154.0 466.0,152.2 467.5,151.0 469.0,150.6 470.5,150.8 472.0,151.7 473.5,152.9 475.0,154.0 476.5,154.9 478.0,155.9 479.5,156.7 481.0,157.4 482.5,158.0 484.0,158.5 485.5,158.8 487.0,158.8 488.5,158.7 490.0,158.4 491.5,158.0 493.0,157.2 494.5,155.9 496.0,153.7 497.5,151.3 499.0,149.1 500.5,147.0 502.0,145.8 503.5,146.1 505.0,147.6 506.5,149.4 508.0,151.3 509.5,153.2 511.0,154.9 512.5,155.9 514.0,155.9 515.5,154.6 517.0,152.6 518.5,150.9 520.0,149.2 521.5,148.1 523.0,148.5 524.5,149.2 526.0,150.0 527.5,150.7 529.0,151.5 530.5,152.2 532.0,151.5 533.5,149.4 535.0,147.1 536.5,144.9 538.0,142.6 539.5,140.5 541.0,138.7 542.5,136.9 544.0,136.3 545.5,137.1 547.0,139.3 548.5,142.5 550.0,147.2 551.5,152.2 553.0,155.2 554.5,157.2 556.0,158.8 557.5,160.1 559.0,161.1 560.5,162.3 562.0,163.9 563.5,166.0 565.0,168.9 566.5,173.3 568.0,177.7 569.5,181.2 571.0,184.3 572.5,187.4 574.0,189.2 575.5,187.5 577.0,185.2 578.5,183.9 580.0,182.6 581.5,181.5 583.0,180.5 584.5,179.5 586.0,178.5 587.5,177.3 589.0,176.2 590.5,175.2 592.0,174.4 593.5,173.5 595.0,172.5 596.5,171.4 598.0,170.2 599.5,168.5 601.0,166.1 602.5,163.3 604.0,159.8 605.5,156.3 607.0,153.4 608.5,151.2 610.0,149.8 611.5,149.7 613.0,151.1 614.5,153.5 616.0,156.1 617.5,158.4 619.0,160.4 620.5,161.3 622.0,161.0 623.5,160.1 625.0,159.2 626.5,158.1 628.0,157.2 629.5,156.5 631.0,156.1 632.5,155.7 634.0,155.9 635.5,155.5 637.0,154.0 638.5,152.0 640.0,150.0 641.5,148.0 643.0,145.9 644.5,143.9 646.0,141.9 647.5,139.7 649.0,138.0 650.5,137.8 652.0,138.7 653.5,139.8 655.0,140.6 656.5,141.3 658.0,142.1 659.5,142.8 661.0,143.6 662.5,144.3 664.0,145.7 665.5,147.3 667.0,148.2 668.5,148.9 670.0,149.7 671.5,150.5 673.0,151.5 674.5,152.3 676.0,153.1 677.5,153.8 679.0,154.6 680.5,155.2 682.0,155.1 683.5,153.7 685.0,151.5 686.5,149.2 688.0,146.9 689.5,144.8 691.0,142.8 692.5,142.9 694.0,146.6 695.5,151.9 697.0,157.6 698.5,161.6 700.0,165.0 701.5,167.7 703.0,169.8 704.5,170.6 706.0,169.3 707.5,167.4 709.0,165.4 710.5,163.7 712.0,162.2 713.5,161.0 715.0,161.8 716.5,164.9 718.0,168.9 719.5,172.9 721.0,176.7 722.5,180.4 724.0,182.4 725.5,182.5 727.0,181.6 728.5,179.6 730.0,176.5 731.5,172.9 733.0,168.9 734.5,164.2 736.0,158.9 737.5,154.6 739.0,153.0 740.5,154.0 742.0,156.4 743.5,158.4 745.0,160.0 746.5,161.5 748.0,162.8 749.5,163.7 751.0,163.5 752.5,162.3 754.0,160.5 755.5,158.4 757.0,156.0 758.5,153.9 760.0,152.2 761.5,151.5 763.0,152.4 764.5,154.7 766.0,157.5 767.5,160.8 769.0,163.7 770.5,165.1 772.0,164.6 773.5,162.9 775.0,160.6 776.5,158.3 778.0,156.2 779.5,154.1 781.0,152.4 782.5,151.3 784.0,150.1 785.5,149.0 787.0,147.9 788.5,146.8 790.0,145.6 791.5,144.5 793.0,143.4 794.5,142.6 796.0,142.9 797.5,143.8 799.0,145.5 800.5,147.3 802.0,148.6 803.5,149.6 805.0,150.3 806.5,150.5 808.0,150.6 809.5,150.4 811.0,150.2 812.5,149.6 814.0,149.0 815.5,148.8 817.0,150.1 818.5,153.6 820.0,158.1 821.5,163.2 823.0,168.1 824.5,171.7 826.0,174.2 827.5,175.7 829.0,176.2 830.5,175.6 832.0,173.2 833.5,168.6 835.0,162.3 836.5,154.3 838.0,146.3 839.5,140.7 841.0,137.2 842.5,135.3 844.0,135.1 845.5,136.1 847.0,137.2 848.5,138.6 850.0,140.2 851.5,141.7 853.0,142.8 854.5,144.0 856.0,145.1 857.5,146.2 859.0,147.3 860.5,148.5 862.0,150.7 863.5,153.3 865.0,155.3 866.5,156.8 868.0,157.7 869.5,157.7 871.0,156.6 872.5,154.5 874.0,152.0 875.5,149.3 877.0,146.4 878.5,143.3 880.0,140.3 881.5,137.6 883.0,135.0 884.5,132.5 886.0,130.4 887.5,128.7 889.0,127.3 890.5,127.2 892.0,129.9 893.5,132.9 895.0,135.9 896.5,138.9 898.0,141.9 899.5,144.6 901.0,146.8 902.5,148.4 904.0,148.7 905.5,147.9 907.0,146.7 908.5,145.1 910.0,142.7 911.5,140.0 913.0,137.4 914.5,135.0 916.0,132.7 917.5,130.7 919.0,129.5 920.5,129.0 922.0,129.3 923.5,129.7 925.0,130.1 926.5,130.4 928.0,130.8 929.5,131.2 931.0,130.7 932.5,129.6 934.0,128.6 935.5,127.4 937.0,126.2 938.5,125.9 940.0,126.8 941.5,128.5 943.0,131.6 944.5,137.5 946.0,145.3 947.5,153.8 949.0,163.0 950.5,171.7 952.0,178.9 953.5,185.4 955.0,190.5 956.5,192.7 958.0,190.1 959.5,182.6 961.0,173.6 962.5,164.6 964.0,155.6 965.5,146.7 967.0,141.0 968.5,140.4 970.0,143.1 971.5,145.4 973.0,146.6 974.5,147.2 976.0,146.9 977.5,145.9 979.0,144.2 980.5,141.8 982.0,139.5 983.5,137.7 985.0,136.3 986.5,135.7 988.0,136.0 989.5,136.7 991.0,137.6 992.5,138.9 994.0,140.0 995.5,140.6 997.0,140.9 998.5,140.8 1000.0,140.4 1001.5,139.7 1003.0,138.8 1004.5,137.6 1006.0,136.3 1007.5,134.8 1009.0,133.0 1010.5,131.2 1012.0,129.3 1013.5,127.6 1015.0,125.9 1016.5,124.3 1018.0,123.3 1019.5,123.2 1021.0,124.7 1022.5,127.7 1024.0,131.6 1025.5,135.6 1027.0,140.2 1028.5,144.1 1030.0,144.5 1031.5,143.8 1033.0,142.8 1034.5,140.6 1036.0,137.2 1037.5,133.6 1039.0,130.6 1040.5,127.9 1042.0,125.8 1043.5,124.9 1045.0,124.9 1046.5,125.5 1048.0,126.6 1049.5,127.6 1051.0,126.8 1052.5,126.9 1054.0,128.2 1055.5,129.6 1057.0,131.1 1058.5,132.6 1060.0,133.7 1061.5,133.3 1063.0,131.3 1064.5,128.1 1066.0,124.4 1067.5,120.4 1069.0,116.4 1070.5,112.9 1072.0,110.6 1073.5,110.5 1075.0,112.4 1076.5,115.1 1078.0,118.0 1079.5,120.0 1081.0,120.6 1082.5,119.5 1084.0,118.2 1085.5,116.7 1087.0,115.0 1088.5,113.5 1090.0,112.7 1091.5,111.9 1093.0,111.2 1094.5,110.4 1096.0,109.7 1097.5,108.8 1099.0,106.4 1100.5,103.4 1102.0,100.4 1103.5,97.5 1105.0,96.0 1106.5,95.7 1108.0,97.0 1109.5,99.9 1111.0,104.0 1112.5,107.9 1114.0,111.1 1115.5,113.6 1117.0,113.9 1118.5,111.4 1120.0,106.9 1121.5,100.6 1123.0,93.6 1124.5,86.7 1126.0,80.1 1127.5,73.8 1129.0,69.3 1130.5,66.6 1132.0,65.2 1133.5,65.1 1135.0,65.8 1136.2,67.0" stroke="#f8a31a" stroke-width="2.45"/>
<polyline points="94.0,121.1 95.5,119.1 97.0,117.1 98.5,115.2 100.0,113.3 101.5,111.5 103.0,110.0 104.5,108.9 106.0,108.4 107.5,108.0 109.0,107.6 110.5,107.1 112.0,106.6 113.5,106.1 115.0,105.7 116.5,105.6 118.0,105.9 119.5,106.3 121.0,106.7 122.5,107.1 124.0,107.6 125.5,108.3 127.0,109.2 128.5,110.4 130.0,111.6 131.5,113.0 133.0,114.5 134.5,116.0 136.0,117.3 137.5,118.4 139.0,119.3 140.5,119.8 142.0,119.2 143.5,117.6 145.0,115.4 146.5,113.0 148.0,110.0 149.5,107.5 151.0,105.9 152.5,104.8 154.0,104.0 155.5,103.6 157.0,103.6 158.5,104.4 160.0,106.3 161.5,109.3 163.0,112.3 164.5,115.1 166.0,118.0 167.5,120.8 169.0,123.3 170.5,125.6 172.0,127.6 173.5,128.6 175.0,128.6 176.5,128.1 178.0,127.2 179.5,126.2 181.0,125.0 182.5,123.2 184.0,121.2 185.5,119.0 187.0,116.9 188.5,114.6 190.0,112.7 191.5,111.8 193.0,111.8 194.5,112.3 196.0,112.7 197.5,112.8 199.0,111.9 200.5,110.6 202.0,109.5 203.5,108.3 205.0,107.2 206.5,106.2 208.0,105.4 209.5,105.0 211.0,105.5 212.5,107.1 214.0,108.9 215.5,110.2 217.0,111.3 218.5,112.3 220.0,113.1 221.5,113.8 223.0,114.1 224.5,113.9 226.0,113.6 227.5,113.2 229.0,112.8 230.5,112.4 232.0,111.8 233.5,111.0 235.0,110.2 236.5,109.5 238.0,108.7 239.5,107.9 241.0,107.1 242.5,106.4 244.0,107.1 245.5,108.2 247.0,109.0 248.5,109.7 250.0,110.4 251.5,110.9 253.0,111.1 254.5,110.9 256.0,110.3 257.5,109.5 259.0,108.6 260.5,107.6 262.0,106.6 263.5,105.8 265.0,105.0 266.5,104.6 268.0,104.6 269.5,105.3 271.0,106.0 272.5,106.2 274.0,106.2 275.5,106.6 277.0,107.3 278.5,108.4 280.0,109.7 281.5,111.2 283.0,112.7 284.5,114.5 286.0,116.5 287.5,118.3 289.0,119.9 290.5,121.2 292.0,121.9 293.5,121.1 295.0,119.1 296.5,116.4 298.0,114.1 299.5,112.3 301.0,111.5 302.5,111.0 304.0,110.6 305.5,110.1 307.0,109.6 308.5,109.0 310.0,108.2 311.5,107.2 313.0,105.9 314.5,104.4 316.0,102.8 317.5,101.3 319.0,99.9 320.5,99.0 322.0,99.8 323.5,101.3 325.0,102.2 326.5,102.9 328.0,103.3 329.5,103.5 331.0,103.1 332.5,102.0 334.0,100.6 335.5,99.1 337.0,97.7 338.5,96.3 340.0,94.9 341.5,93.7 343.0,92.9 344.5,92.5 346.0,92.5 347.5,92.8 349.0,93.6 350.5,94.9 352.0,96.2 353.5,97.4 355.0,98.6 356.5,99.7 358.0,100.7 359.5,101.4 361.0,101.7 362.5,101.5 364.0,101.3 365.5,101.0 367.0,100.7 368.5,100.4 370.0,100.1 371.5,99.9 373.0,99.8 374.5,100.0 376.0,100.3 377.5,100.8 379.0,101.5 380.5,102.3 382.0,103.2 383.5,104.2 385.0,105.0 386.5,105.8 388.0,106.6 389.5,107.3 391.0,108.0 392.5,108.8 394.0,109.5 395.5,110.0 397.0,110.5 398.5,110.0 400.0,108.4 401.5,106.6 403.0,104.5 404.5,102.4 406.0,100.8 407.5,99.8 409.0,99.1 410.5,98.7 412.0,98.6 413.5,99.3 415.0,100.7 416.5,102.5 418.0,104.9 419.5,106.8 421.0,107.5 422.5,106.8 424.0,104.9 425.5,102.7 427.0,100.3 428.5,97.7 430.0,95.0 431.5,92.5 433.0,91.0 434.5,90.9 436.0,92.1 437.5,94.0 439.0,96.5 440.5,99.2 442.0,101.8 443.5,104.2 445.0,106.4 446.5,108.5 448.0,110.2 449.5,111.3 451.0,111.9 452.5,112.0 454.0,112.1 455.5,112.6 457.0,113.4 458.5,114.2 460.0,115.0 461.5,115.8 463.0,116.5 464.5,117.3 466.0,118.1 467.5,118.6 469.0,118.7 470.5,118.4 472.0,117.7 473.5,116.9 475.0,116.2 476.5,115.5 478.0,114.9 479.5,114.3 481.0,114.0 482.5,114.5 484.0,115.4 485.5,116.7 487.0,118.1 488.5,119.5 490.0,120.9 491.5,122.1 493.0,123.4 494.5,124.5 496.0,125.7 497.5,126.7 499.0,127.6 500.5,128.1 502.0,128.0 503.5,127.8 505.0,127.4 506.5,127.1 508.0,126.6 509.5,126.1 511.0,125.7 512.5,126.1 514.0,127.6 515.5,129.3 517.0,131.2 518.5,133.0 520.0,134.8 521.5,136.3 523.0,137.5 524.5,138.6 526.0,139.5 527.5,139.7 529.0,139.0 530.5,137.9 532.0,136.5 533.5,135.0 535.0,133.5 536.5,131.9 538.0,130.2 539.5,128.3 541.0,126.5 542.5,124.9 544.0,123.8 545.5,123.0 547.0,122.7 548.5,123.0 550.0,124.4 551.5,126.1 553.0,127.7 554.5,129.3 556.0,130.8 557.5,132.3 559.0,133.8 560.5,135.1 562.0,134.8 563.5,133.7 565.0,132.6 566.5,131.7 568.0,130.7 569.5,129.8 571.0,129.0 572.5,128.2 574.0,127.4 575.5,126.6 577.0,125.9 578.5,125.2 580.0,124.5 581.5,124.4 583.0,124.8 584.5,125.1 586.0,124.9 587.5,124.6 589.0,124.3 590.5,124.0 592.0,123.7 593.5,123.4 595.0,123.1 596.5,123.1 598.0,123.6 599.5,124.6 601.0,126.0 602.5,127.5 604.0,129.0 605.5,130.6 607.0,132.3 608.5,134.0 610.0,135.7 611.5,137.0 613.0,137.9 614.5,138.1 616.0,138.0 617.5,137.8 619.0,137.7 620.5,137.8 622.0,137.7 623.5,136.1 625.0,133.2 626.5,131.4 628.0,130.7 629.5,130.2 631.0,129.9 632.5,129.8 634.0,130.4 635.5,132.2 637.0,134.5 638.5,136.6 640.0,138.4 641.5,139.9 643.0,141.1 644.5,141.3 646.0,139.9 647.5,137.4 649.0,134.0 650.5,130.4 652.0,127.2 653.5,124.5 655.0,124.2 656.5,124.6 658.0,125.1 659.5,125.3 661.0,125.5 662.5,125.8 664.0,126.3 665.5,126.9 667.0,127.4 668.5,128.0 670.0,129.0 671.5,130.7 673.0,133.2 674.5,135.7 676.0,138.4 677.5,141.1 679.0,143.1 680.5,143.8 682.0,143.5 683.5,142.7 685.0,141.3 686.5,139.2 688.0,136.6 689.5,134.9 691.0,133.9 692.5,133.3 694.0,133.0 695.5,132.8 697.0,132.5 698.5,132.4 700.0,132.3 701.5,132.0 703.0,130.3 704.5,128.0 706.0,126.3 707.5,124.8 709.0,123.8 710.5,123.6 712.0,124.2 713.5,125.4 715.0,126.7 716.5,128.3 718.0,130.1 719.5,132.0 721.0,133.9 722.5,135.5 724.0,136.9 725.5,138.4 727.0,139.8 728.5,141.0 730.0,142.0 731.5,142.2 733.0,141.2 734.5,139.9 736.0,138.2 737.5,136.4 739.0,135.2 740.5,134.4 742.0,134.4 743.5,135.3 745.0,136.3 746.5,137.3 748.0,138.2 749.5,138.9 751.0,139.1 752.5,138.8 754.0,138.2 755.5,137.6 757.0,136.8 758.5,136.5 760.0,136.7 761.5,137.0 763.0,137.2 764.5,137.2 766.0,137.4 767.5,137.8 769.0,138.4 770.5,139.0 772.0,139.6 773.5,140.2 775.0,140.8 776.5,141.4 778.0,141.9 779.5,141.6 781.0,140.9 782.5,140.5 784.0,140.3 785.5,140.2 787.0,140.1 788.5,140.3 790.0,140.7 791.5,141.1 793.0,141.0 794.5,140.3 796.0,139.4 797.5,138.2 799.0,136.7 800.5,135.7 802.0,135.7 803.5,136.3 805.0,136.6 806.5,136.2 808.0,135.8 809.5,135.3 811.0,134.8 812.5,134.3 814.0,133.8 815.5,133.2 817.0,132.5 818.5,131.7 820.0,131.1 821.5,130.9 823.0,131.2 824.5,131.6 826.0,132.0 827.5,132.7 829.0,133.4 830.5,133.8 832.0,133.4 833.5,132.3 835.0,130.5 836.5,128.3 838.0,126.2 839.5,124.4 841.0,123.1 842.5,122.4 844.0,122.6 845.5,123.3 847.0,124.5 848.5,125.9 850.0,127.1 851.5,127.9 853.0,128.7 854.5,129.3 856.0,129.9 857.5,130.2 859.0,129.8 860.5,129.3 862.0,128.6 863.5,127.9 865.0,127.1 866.5,126.3 868.0,125.7 869.5,125.5 871.0,125.7 872.5,126.0 874.0,126.3 875.5,126.6 877.0,126.9 878.5,127.2 880.0,127.6 881.5,127.8 883.0,127.3 884.5,126.3 886.0,125.2 887.5,124.2 889.0,123.3 890.5,122.5 892.0,121.7 893.5,121.3 895.0,121.4 896.5,121.8 898.0,122.5 899.5,123.3 901.0,124.3 902.5,125.4 904.0,126.4 905.5,127.4 907.0,128.3 908.5,128.5 910.0,128.1 911.5,127.4 913.0,126.7 914.5,125.8 916.0,125.1 917.5,124.8 919.0,124.5 920.5,124.2 922.0,123.9 923.5,123.6 925.0,123.3 926.5,123.1 928.0,123.5 929.5,124.1 931.0,123.7 932.5,122.4 934.0,121.2 935.5,120.7 937.0,120.3 938.5,120.1 940.0,119.9 941.5,120.0 943.0,120.4 944.5,121.4 946.0,122.9 947.5,124.6 949.0,126.6 950.5,128.4 952.0,129.8 953.5,130.8 955.0,131.3 956.5,131.1 958.0,130.3 959.5,128.7 961.0,126.6 962.5,124.9 964.0,123.6 965.5,123.0 967.0,123.5 968.5,124.6 970.0,125.9 971.5,127.4 973.0,128.9 974.5,130.3 976.0,131.4 977.5,132.3 979.0,133.0 980.5,133.5 982.0,133.9 983.5,134.1 985.0,134.1 986.5,133.9 988.0,133.7 989.5,133.8 991.0,134.0 992.5,134.4 994.0,134.6 995.5,134.9 997.0,135.1 998.5,134.8 1000.0,134.1 1001.5,134.2 1003.0,133.8 1004.5,132.7 1006.0,132.5 1007.5,132.5 1009.0,132.1 1010.5,131.5 1012.0,130.4 1013.5,128.8 1015.0,127.1 1016.5,125.6 1018.0,124.3 1019.5,123.3 1021.0,123.0 1022.5,123.4 1024.0,124.3 1025.5,125.3 1027.0,126.7 1028.5,128.4 1030.0,129.6 1031.5,129.6 1033.0,128.6 1034.5,127.4 1036.0,125.8 1037.5,124.2 1039.0,123.1 1040.5,122.4 1042.0,122.1 1043.5,122.3 1045.0,123.1 1046.5,124.4 1048.0,126.3 1049.5,128.3 1051.0,129.9 1052.5,131.2 1054.0,132.1 1055.5,132.7 1057.0,132.6 1058.5,131.9 1060.0,131.2 1061.5,130.4 1063.0,129.7 1064.5,128.9 1066.0,128.2 1067.5,127.9 1069.0,128.0 1070.5,127.5 1072.0,126.4 1073.5,124.8 1075.0,123.1 1076.5,121.3 1078.0,119.3 1079.5,117.1 1081.0,114.7 1082.5,112.6 1084.0,110.7 1085.5,108.9 1087.0,107.1 1088.5,105.4 1090.0,103.8 1091.5,102.9 1093.0,103.0 1094.5,104.0 1096.0,105.0 1097.5,106.0 1099.0,106.8 1100.5,107.1 1102.0,106.9 1103.5,106.3 1105.0,105.8 1106.5,105.1 1108.0,104.5 1109.5,104.0 1111.0,103.8 1112.5,103.7 1114.0,103.8 1115.5,104.0 1117.0,104.4 1118.5,105.2 1120.0,104.3 1121.5,101.5 1123.0,98.5 1124.5,95.5 1126.0,92.3 1127.5,88.8 1129.0,85.0 1130.5,80.9 1132.0,77.0 1133.5,73.6 1135.0,70.6 1136.5,68.7 1137.2,68.0" stroke="#000" stroke-width="4.4"/>
<polyline points="94.0,274.1 95.5,279.4 97.0,285.1 98.5,291.6 100.0,298.1 101.5,303.9 103.0,308.2 104.5,310.4 106.0,312.2 107.5,313.8 109.0,314.2 110.5,311.9 112.0,308.5 113.5,304.0 115.0,300.2 116.5,298.3 118.0,297.3 119.5,297.2 121.0,298.0 122.5,298.0 124.0,297.1 125.5,295.7 127.0,293.4 128.5,290.0 130.0,284.4 131.5,276.6 133.0,266.1 134.5,256.7 136.0,250.1 137.5,246.5 139.0,246.6 140.5,249.1 142.0,252.8 143.5,257.8 145.0,262.8 146.5,267.6 148.0,271.9 149.5,273.7 151.0,272.3 152.5,269.2 154.0,266.2 155.5,264.4 157.0,263.0 158.5,261.8 160.0,260.8 161.5,260.7 163.0,262.0 164.5,263.5 166.0,265.0 167.5,266.5 169.0,268.0 170.5,268.8 172.0,268.3 173.5,266.6 175.0,264.8 176.5,262.9 178.0,261.0 179.5,259.1 181.0,257.3 182.5,256.2 184.0,256.6 185.5,257.7 187.0,259.0 188.5,260.5 190.0,262.1 191.5,263.3 193.0,264.0 194.5,264.4 196.0,265.1 197.5,266.0 199.0,267.0 200.5,268.3 202.0,270.5 203.5,274.0 205.0,278.8 206.5,284.3 208.0,290.4 209.5,296.3 211.0,300.5 212.5,302.3 214.0,300.8 215.5,296.0 217.0,290.1 218.5,283.9 220.0,277.3 221.5,270.9 223.0,265.6 224.5,261.4 226.0,258.8 227.5,259.5 229.0,261.9 230.5,264.7 232.0,267.8 233.5,270.5 235.0,271.5 236.5,271.1 238.0,270.3 239.5,269.3 241.0,267.5 242.5,264.9 244.0,262.3 245.5,259.7 247.0,257.1 248.5,254.7 250.0,253.8 251.5,255.6 253.0,258.6 254.5,261.6 256.0,264.6 257.5,267.6 259.0,270.0 260.5,272.1 262.0,274.2 263.5,276.3 265.0,276.7 266.5,275.7 268.0,274.7 269.5,273.9 271.0,272.5 272.5,269.9 274.0,266.3 275.5,262.6 277.0,258.8 278.5,255.0 280.0,253.8 281.5,257.9 283.0,264.2 284.5,271.6 286.0,277.8 287.5,283.3 289.0,288.2 290.5,292.2 292.0,294.1 293.5,293.2 295.0,290.1 296.5,285.3 298.0,280.1 299.5,275.5 301.0,272.3 302.5,272.5 304.0,273.8 305.5,275.4 307.0,277.1 308.5,278.2 310.0,279.0 311.5,279.7 313.0,280.5 314.5,281.2 316.0,282.0 317.5,284.6 319.0,291.3 320.5,299.0 322.0,307.1 323.5,315.9 325.0,325.0 326.5,335.5 328.0,344.7 329.5,347.7 331.0,346.4 332.5,341.1 334.0,331.3 335.5,321.0 337.0,313.6 338.5,307.2 340.0,299.2 341.5,286.0 343.0,271.2 344.5,259.6 346.0,254.1 347.5,262.4 349.0,279.9 350.5,301.1 352.0,315.5 353.5,328.7 355.0,345.3 356.5,360.2 358.0,368.6 359.5,369.7 361.0,364.3 362.5,351.6 364.0,336.6 365.5,321.4 367.0,305.5 368.5,292.5 370.0,293.1 371.5,293.5 373.0,295.0 374.5,299.2 376.0,304.2 377.5,308.1 379.0,310.5 380.5,313.0 382.0,316.8 383.5,321.3 385.0,325.8 386.5,330.2 388.0,334.6 389.5,338.5 391.0,336.6 392.5,329.6 394.0,320.5 395.5,311.3 397.0,302.1 398.5,292.9 400.0,284.7 401.5,281.6 403.0,282.0 404.5,282.8 406.0,283.6 407.5,284.5 409.0,285.1 410.5,284.5 412.0,282.5 413.5,280.8 415.0,279.5 416.5,278.6 418.0,279.5 419.5,281.7 421.0,284.5 422.5,288.1 424.0,292.0 425.5,296.2 427.0,300.8 428.5,305.2 430.0,308.4 431.5,310.6 433.0,312.4 434.5,314.0 436.0,314.4 437.5,314.1 439.0,315.7 440.5,319.8 442.0,324.1 443.5,328.4 445.0,332.8 446.5,336.8 448.0,339.0 449.5,334.8 451.0,328.7 452.5,323.6 454.0,318.4 455.5,313.7 457.0,310.1 458.5,307.4 460.0,305.7 461.5,305.2 463.0,306.1 464.5,304.8 466.0,303.7 467.5,302.8 469.0,300.0 470.5,295.6 472.0,293.3 473.5,292.8 475.0,293.8 476.5,295.7 478.0,298.9 479.5,302.4 481.0,306.1 482.5,309.8 484.0,313.4 485.5,316.6 487.0,319.6 488.5,321.7 490.0,322.7 491.5,322.3 493.0,319.5 494.5,315.3 496.0,311.3 497.5,307.4 499.0,301.8 500.5,294.7 502.0,287.8 503.5,280.7 505.0,274.3 506.5,270.6 508.0,267.8 509.5,266.5 511.0,268.4 512.5,271.9 514.0,276.2 515.5,280.8 517.0,285.1 518.5,288.6 520.0,291.3 521.5,292.8 523.0,293.2 524.5,292.8 526.0,292.1 527.5,291.0 529.0,289.8 530.5,288.3 532.0,286.1 533.5,283.2 535.0,279.9 536.5,276.2 538.0,272.5 539.5,268.7 541.0,264.7 542.5,260.7 544.0,257.4 545.5,258.5 547.0,263.3 548.5,268.3 550.0,273.3 551.5,278.3 553.0,283.4 554.5,289.4 556.0,296.2 557.5,304.5 559.0,312.2 560.5,317.8 562.0,324.5 563.5,333.5 565.0,340.6 566.5,345.8 568.0,349.8 569.5,352.0 571.0,352.3 572.5,349.0 574.0,340.3 575.5,325.4 577.0,315.4 578.5,310.2 580.0,301.1 581.5,293.9 583.0,291.6 584.5,290.8 586.0,290.7 587.5,290.9 589.0,292.0 590.5,294.2 592.0,297.6 593.5,301.9 595.0,305.0 596.5,307.1 598.0,308.2 599.5,308.3 601.0,307.2 602.5,305.2 604.0,302.9 605.5,300.4 607.0,297.7 608.5,295.1 610.0,292.8 611.5,291.5 613.0,291.1 614.5,291.8 616.0,292.8 617.5,293.2 619.0,293.2 620.5,293.2 622.0,293.2 623.5,293.2 625.0,293.2 626.5,293.4 628.0,294.1 629.5,295.6 631.0,297.5 632.5,299.4 634.0,301.5 635.5,303.6 637.0,303.8 638.5,300.5 640.0,297.4 641.5,294.3 643.0,291.5 644.5,289.1 646.0,287.0 647.5,286.0 649.0,286.6 650.5,287.7 652.0,288.9 653.5,290.3 655.0,291.0 656.5,289.9 658.0,287.6 659.5,284.2 661.0,282.1 662.5,281.1 664.0,281.5 665.5,282.6 667.0,283.9 668.5,285.4 670.0,287.3 671.5,289.3 673.0,291.2 674.5,293.1 676.0,295.0 677.5,296.4 679.0,297.1 680.5,297.0 682.0,295.4 683.5,292.8 685.0,289.6 686.5,285.5 688.0,281.5 689.5,279.3 691.0,278.3 692.5,277.3 694.0,277.3 695.5,279.5 697.0,282.7 698.5,286.2 700.0,289.7 701.5,292.6 703.0,294.9 704.5,296.6 706.0,296.5 707.5,294.0 709.0,291.5 710.5,289.0 712.0,286.5 713.5,285.0 715.0,286.1 716.5,291.4 718.0,298.9 719.5,306.5 721.0,313.3 722.5,319.6 724.0,325.3 725.5,326.9 727.0,325.7 728.5,324.1 730.0,322.3 731.5,320.5 733.0,318.6 734.5,316.3 736.0,313.4 737.5,312.4 739.0,311.5 740.5,310.5 742.0,309.6 743.5,308.5 745.0,306.9 746.5,305.7 748.0,306.7 749.5,309.0 751.0,312.4 752.5,314.8 754.0,315.4 755.5,315.6 757.0,315.3 758.5,315.1 760.0,316.6 761.5,320.9 763.0,328.3 764.5,337.3 766.0,347.4 767.5,357.2 769.0,364.7 770.5,369.2 772.0,370.1 773.5,365.2 775.0,357.5 776.5,349.0 778.0,340.0 779.5,331.0 781.0,322.3 782.5,314.6 784.0,311.1 785.5,309.5 787.0,308.6 788.5,308.8 790.0,309.8 791.5,312.4 793.0,316.3 794.5,321.4 796.0,327.1 797.5,332.6 799.0,337.6 800.5,342.4 802.0,346.8 803.5,349.7 805.0,351.0 806.5,350.4 808.0,347.5 809.5,343.5 811.0,337.7 812.5,328.9 814.0,318.8 815.5,309.0 817.0,300.1 818.5,297.3 820.0,303.1 821.5,309.8 823.0,319.0 824.5,330.3 826.0,340.5 827.5,349.3 829.0,355.5 830.5,355.5 832.0,350.2 833.5,342.0 835.0,330.4 836.5,311.9 838.0,296.2 839.5,284.3 841.0,276.9 842.5,273.3 844.0,273.4 845.5,274.5 847.0,276.5 848.5,279.1 850.0,281.1 851.5,282.3 853.0,283.0 854.5,283.1 856.0,283.0 857.5,282.8 859.0,282.7 860.5,282.6 862.0,283.1 863.5,285.3 865.0,289.0 866.5,292.7 868.0,296.5 869.5,300.1 871.0,302.6 872.5,304.3 874.0,305.2 875.5,303.4 877.0,298.5 878.5,293.2 880.0,288.3 881.5,283.8 883.0,280.2 884.5,279.0 886.0,279.7 887.5,281.3 889.0,283.6 890.5,286.4 892.0,287.5 893.5,286.8 895.0,285.1 896.5,282.9 898.0,281.3 899.5,280.3 901.0,280.3 902.5,283.0 904.0,288.8 905.5,295.9 907.0,303.7 908.5,311.9 910.0,317.9 911.5,322.2 913.0,325.4 914.5,326.5 916.0,325.6 917.5,322.2 919.0,316.6 920.5,310.5 922.0,303.9 923.5,296.7 925.0,289.9 926.5,285.0 928.0,282.4 929.5,281.0 931.0,281.0 932.5,282.3 934.0,284.7 935.5,288.6 937.0,292.7 938.5,295.5 940.0,297.9 941.5,299.6 943.0,300.9 944.5,303.2 946.0,309.9 947.5,323.3 949.0,337.9 950.5,352.9 952.0,367.9 953.5,380.8 955.0,389.6 956.5,394.3 958.0,391.2 959.5,382.5 961.0,368.2 962.5,349.2 964.0,331.0 965.5,315.5 967.0,307.4 968.5,304.6 970.0,302.8 971.5,304.3 973.0,319.1 974.5,325.3 976.0,329.5 977.5,332.1 979.0,333.0 980.5,330.6 982.0,324.9 983.5,317.7 985.0,309.3 986.5,299.5 988.0,292.2 989.5,288.8 991.0,288.0 992.5,288.2 994.0,289.0 995.5,290.3 997.0,292.4 998.5,295.2 1000.0,302.8 1001.5,304.2 1003.0,304.2 1004.5,305.3 1006.0,306.1 1007.5,305.7 1009.0,303.6 1010.5,299.9 1012.0,295.8 1013.5,292.3 1015.0,289.0 1016.5,286.0 1018.0,283.8 1019.5,283.1 1021.0,284.3 1022.5,289.8 1024.0,298.5 1025.5,306.8 1027.0,314.3 1028.5,320.8 1030.0,325.9 1031.5,330.5 1033.0,334.6 1034.5,337.9 1036.0,337.2 1037.5,331.4 1039.0,319.5 1040.5,311.6 1042.0,305.8 1043.5,301.5 1045.0,299.6 1046.5,300.9 1048.0,303.2 1049.5,306.0 1051.0,308.8 1052.5,311.3 1054.0,313.4 1055.5,314.9 1057.0,314.7 1058.5,311.7 1060.0,306.9 1061.5,301.6 1063.0,295.6 1064.5,288.6 1066.0,281.6 1067.5,274.6 1069.0,267.6 1070.5,262.3 1072.0,259.3 1073.5,256.6 1075.0,254.3 1076.5,252.1 1078.0,250.2 1079.5,248.9 1081.0,248.1 1082.5,247.8 1084.0,248.0 1085.5,248.8 1087.0,250.0 1088.5,251.4 1090.0,253.0 1091.5,254.2 1093.0,255.0 1094.5,255.0 1096.0,254.2 1097.5,252.8 1099.0,251.2 1100.5,250.3 1102.0,250.1 1103.5,250.5 1105.0,251.9 1106.5,254.2 1108.0,256.8 1109.5,259.8 1111.0,262.8 1112.5,265.1 1114.0,266.9 1115.5,268.4 1117.0,269.4 1118.5,270.0 1120.0,269.3 1121.5,267.5 1123.0,265.6 1124.5,263.7 1126.0,261.8 1127.5,260.0 1129.0,258.1 1130.5,256.1 1132.0,253.7 1133.5,249.5 1135.0,243.3 1136.5,235.9 1138.0,231.5 1138.2,231.1" stroke="#dc0505" stroke-width="2.45"/>
<polyline points="94.0,235.1 95.5,240.8 97.0,247.1 98.5,254.0 100.0,261.1 101.5,267.3 103.0,272.1 104.5,273.8 106.0,271.2 107.5,266.3 109.0,261.2 110.5,255.9 112.0,250.6 113.5,245.6 115.0,242.0 116.5,240.8 118.0,242.0 119.5,243.6 121.0,244.9 122.5,246.2 124.0,247.4 125.5,248.0 127.0,246.2 128.5,242.3 130.0,238.2 131.5,234.1 133.0,230.0 134.5,225.9 136.0,223.1 137.5,221.9 139.0,222.9 140.5,225.7 142.0,229.5 143.5,233.8 145.0,237.9 146.5,241.3 148.0,243.6 149.5,243.9 151.0,242.5 152.5,240.1 154.0,237.3 155.5,234.0 157.0,231.2 158.5,229.3 160.0,227.9 161.5,226.8 163.0,226.0 164.5,225.5 166.0,225.5 167.5,226.1 169.0,227.0 170.5,228.4 172.0,229.9 173.5,231.3 175.0,231.2 176.5,229.2 178.0,227.2 179.5,225.2 181.0,223.2 182.5,222.2 184.0,222.6 185.5,223.7 187.0,225.8 188.5,229.7 190.0,233.8 191.5,235.7 193.0,236.9 194.5,237.6 196.0,237.9 197.5,238.1 199.0,237.9 200.5,237.2 202.0,237.2 203.5,238.7 205.0,242.2 206.5,246.3 208.0,250.1 209.5,253.6 211.0,256.5 212.5,257.5 214.0,257.3 215.5,255.3 217.0,249.9 218.5,243.9 220.0,237.9 221.5,231.9 223.0,226.6 224.5,225.1 226.0,225.3 227.5,226.8 229.0,230.0 230.5,234.4 232.0,237.4 233.5,238.9 235.0,238.0 236.5,236.1 238.0,233.8 239.5,231.1 241.0,229.4 242.5,228.4 244.0,227.5 245.5,226.7 247.0,228.1 248.5,230.7 250.0,233.4 251.5,236.3 253.0,237.9 254.5,236.9 256.0,235.3 257.5,233.7 259.0,232.6 260.5,231.9 262.0,231.5 263.5,231.3 265.0,231.2 266.5,231.0 268.0,230.9 269.5,230.7 271.0,230.4 272.5,229.1 274.0,226.8 275.5,223.6 277.0,221.0 278.5,219.2 280.0,218.3 281.5,218.7 283.0,221.6 284.5,225.2 286.0,228.6 287.5,232.0 289.0,235.4 290.5,238.3 292.0,240.2 293.5,241.6 295.0,242.0 296.5,240.8 298.0,237.5 299.5,234.9 301.0,233.8 302.5,232.7 304.0,231.6 305.5,230.4 307.0,229.3 308.5,228.3 310.0,227.6 311.5,227.4 313.0,228.6 314.5,231.3 316.0,235.8 317.5,241.3 319.0,247.5 320.5,254.4 322.0,261.4 323.5,268.4 325.0,275.3 326.5,281.4 328.0,286.1 329.5,289.1 331.0,287.6 332.5,283.2 334.0,276.8 335.5,270.1 337.0,263.1 338.5,255.7 340.0,248.0 341.5,241.0 343.0,236.2 344.5,233.3 346.0,234.0 347.5,238.2 349.0,244.9 350.5,253.9 352.0,262.9 353.5,271.2 355.0,279.0 356.5,284.8 358.0,287.5 359.5,286.7 361.0,281.4 362.5,272.5 364.0,263.4 365.5,255.5 367.0,249.3 368.5,247.0 370.0,247.6 371.5,248.6 373.0,250.0 374.5,251.9 376.0,254.1 377.5,257.1 379.0,261.3 380.5,265.7 382.0,269.0 383.5,271.8 385.0,274.0 386.5,275.7 388.0,276.8 389.5,277.2 391.0,276.5 392.5,274.4 394.0,271.5 395.5,268.2 397.0,264.6 398.5,261.3 400.0,258.5 401.5,256.8 403.0,255.7 404.5,255.0 406.0,254.4 407.5,254.3 409.0,253.6 410.5,251.1 412.0,247.7 413.5,245.3 415.0,243.2 416.5,241.9 418.0,242.5 419.5,244.8 421.0,248.1 422.5,251.7 424.0,254.9 425.5,257.8 427.0,260.7 428.5,263.2 430.0,264.9 431.5,265.1 433.0,264.3 434.5,262.8 436.0,265.5 437.5,268.9 439.0,272.2 440.5,276.1 442.0,281.1 443.5,286.2 445.0,290.5 446.5,294.3 448.0,295.0 449.5,292.4 451.0,287.9 452.5,281.9 454.0,275.9 455.5,269.9 457.0,263.9 458.5,258.6 460.0,255.3 461.5,254.2 463.0,254.1 464.5,254.6 466.0,255.1 467.5,254.3 469.0,253.2 470.5,252.7 472.0,252.3 473.5,252.1 475.0,252.2 476.5,252.5 478.0,253.0 479.5,254.1 481.0,256.4 482.5,259.5 484.0,262.9 485.5,266.4 487.0,269.7 488.5,272.7 490.0,275.5 491.5,278.0 493.0,279.9 494.5,280.0 496.0,278.4 497.5,274.3 499.0,269.0 500.5,263.2 502.0,257.2 503.5,251.2 505.0,245.6 506.5,240.3 508.0,236.4 509.5,233.7 511.0,232.5 512.5,233.9 514.0,236.4 515.5,239.9 517.0,243.4 518.5,246.6 520.0,249.5 521.5,252.2 523.0,253.2 524.5,251.7 526.0,249.4 527.5,247.9 529.0,246.4 530.5,244.9 532.0,243.4 533.5,241.9 535.0,240.4 536.5,238.9 538.0,237.4 539.5,235.4 541.0,232.6 542.5,230.2 544.0,227.9 545.5,226.9 547.0,229.5 548.5,233.0 550.0,236.7 551.5,240.7 553.0,244.3 554.5,247.0 556.0,248.7 557.5,250.2 559.0,251.7 560.5,253.2 562.0,254.9 563.5,257.4 565.0,260.3 566.5,264.0 568.0,268.2 569.5,270.5 571.0,270.5 572.5,268.7 574.0,265.3 575.5,260.6 577.0,255.7 578.5,252.1 580.0,249.2 581.5,246.8 583.0,244.7 584.5,243.2 586.0,243.5 587.5,245.2 589.0,247.8 590.5,250.4 592.0,253.0 593.5,255.7 595.0,258.3 596.5,260.9 598.0,262.4 599.5,262.6 601.0,261.8 602.5,260.0 604.0,257.5 605.5,254.9 607.0,252.2 608.5,249.2 610.0,246.2 611.5,243.2 613.0,240.5 614.5,239.9 616.0,242.2 617.5,245.1 619.0,247.6 620.5,249.9 622.0,252.0 623.5,253.3 625.0,253.9 626.5,254.1 628.0,253.5 629.5,252.9 631.0,253.7 632.5,255.1 634.0,257.0 635.5,259.1 637.0,261.5 638.5,263.7 640.0,265.8 641.5,264.9 643.0,261.7 644.5,258.2 646.0,254.6 647.5,251.3 649.0,249.2 650.5,247.8 652.0,246.9 653.5,246.7 655.0,247.3 656.5,248.9 658.0,248.8 659.5,247.7 661.0,246.0 662.5,244.1 664.0,242.2 665.5,240.8 667.0,239.5 668.5,238.4 670.0,237.9 671.5,238.8 673.0,241.4 674.5,244.9 676.0,249.0 677.5,252.9 679.0,256.1 680.5,258.6 682.0,259.4 683.5,258.3 685.0,255.8 686.5,252.2 688.0,247.5 689.5,243.3 691.0,240.7 692.5,239.3 694.0,239.0 695.5,240.5 697.0,243.3 698.5,246.8 700.0,250.9 701.5,254.8 703.0,257.9 704.5,259.7 706.0,259.5 707.5,257.6 709.0,254.5 710.5,251.7 712.0,250.3 713.5,250.2 715.0,251.8 716.5,256.1 718.0,261.9 719.5,268.3 721.0,275.4 722.5,282.2 724.0,286.3 725.5,287.1 727.0,285.7 728.5,282.5 730.0,278.4 731.5,274.5 733.0,270.8 734.5,267.7 736.0,265.9 737.5,265.0 739.0,265.1 740.5,264.5 742.0,262.7 743.5,260.9 745.0,259.5 746.5,258.6 748.0,258.7 749.5,260.5 751.0,263.5 752.5,266.5 754.0,269.1 755.5,271.4 757.0,273.1 758.5,274.3 760.0,274.7 761.5,275.3 763.0,277.3 764.5,281.9 766.0,287.9 767.5,293.9 769.0,299.9 770.5,305.9 772.0,309.8 773.5,310.8 775.0,308.4 776.5,302.3 778.0,294.2 779.5,286.3 781.0,278.6 782.5,271.4 784.0,266.2 785.5,262.8 787.0,260.6 788.5,260.1 790.0,261.1 791.5,264.6 793.0,269.6 794.5,274.6 796.0,279.6 797.5,284.6 799.0,289.0 800.5,292.4 802.0,294.1 803.5,294.3 805.0,293.9 806.5,292.7 808.0,289.9 809.5,286.1 811.0,281.6 812.5,276.6 814.0,272.5 815.5,268.9 817.0,265.5 818.5,264.8 820.0,268.1 821.5,273.5 823.0,279.1 824.5,283.8 826.0,288.1 827.5,290.5 829.0,290.8 830.5,289.1 832.0,283.3 833.5,273.5 835.0,263.3 836.5,253.8 838.0,245.3 839.5,241.2 841.0,240.7 842.5,240.7 844.0,242.0 845.5,245.9 847.0,250.0 848.5,252.4 850.0,253.1 851.5,252.1 853.0,250.9 854.5,249.7 856.0,248.4 857.5,247.1 859.0,246.3 860.5,246.1 862.0,245.6 863.5,247.1 865.0,252.8 866.5,257.9 868.0,262.8 869.5,266.9 871.0,269.9 872.5,272.2 874.0,272.2 875.5,269.8 877.0,266.4 878.5,262.4 880.0,258.4 881.5,254.5 883.0,250.9 884.5,248.7 886.0,249.0 887.5,250.7 889.0,252.9 890.5,255.9 892.0,258.6 893.5,258.4 895.0,256.3 896.5,253.8 898.0,251.3 899.5,249.8 901.0,249.5 902.5,250.6 904.0,253.7 905.5,258.3 907.0,263.6 908.5,269.5 910.0,275.5 911.5,280.6 913.0,283.9 914.5,284.9 916.0,283.4 917.5,280.7 919.0,277.8 920.5,274.3 922.0,270.6 923.5,266.8 925.0,263.2 926.5,260.1 928.0,257.4 929.5,255.5 931.0,255.3 932.5,256.9 934.0,258.8 935.5,261.1 937.0,263.3 938.5,265.6 940.0,267.8 941.5,270.1 943.0,272.3 944.5,275.1 946.0,280.8 947.5,290.8 949.0,299.3 950.5,306.9 952.0,313.8 953.5,318.6 955.0,321.5 956.5,319.4 958.0,312.8 959.5,303.3 961.0,291.8 962.5,281.6 964.0,274.0 965.5,268.2 967.0,264.1 968.5,264.6 970.0,268.7 971.5,274.1 973.0,280.2 974.5,286.0 976.0,289.8 977.5,291.8 979.0,292.0 980.5,288.3 982.0,282.4 983.5,276.2 985.0,269.6 986.5,263.2 988.0,258.6 989.5,255.8 991.0,254.2 992.5,253.4 994.0,253.1 995.5,253.2 997.0,254.1 998.5,256.0 1000.0,257.5 1001.5,258.1 1003.0,258.6 1004.5,259.3 1006.0,260.2 1007.5,261.2 1009.0,262.3 1010.5,263.5 1012.0,264.5 1013.5,265.1 1015.0,265.7 1016.5,266.2 1018.0,266.8 1019.5,267.4 1021.0,268.3 1022.5,271.3 1024.0,275.5 1025.5,280.3 1027.0,285.6 1028.5,291.2 1030.0,296.0 1031.5,298.8 1033.0,300.2 1034.5,299.6 1036.0,297.1 1037.5,293.3 1039.0,287.0 1040.5,282.3 1042.0,280.6 1043.5,279.6 1045.0,279.0 1046.5,279.7 1048.0,281.4 1049.5,282.7 1051.0,283.5 1052.5,283.6 1054.0,281.9 1055.5,278.3 1057.0,273.4 1058.5,268.9 1060.0,264.7 1061.5,262.9 1063.0,262.4 1064.5,262.0 1066.0,261.6 1067.5,261.3 1069.0,260.8 1070.5,259.7 1072.0,257.9 1073.5,254.8 1075.0,250.4 1076.5,245.9 1078.0,241.4 1079.5,236.9 1081.0,232.8 1082.5,230.6 1084.0,229.6 1085.5,230.0 1087.0,231.9 1088.5,234.5 1090.0,238.4 1091.5,242.4 1093.0,246.4 1094.5,250.4 1096.0,254.0 1097.5,255.3 1099.0,254.3 1100.5,252.2 1102.0,249.4 1103.5,246.3 1105.0,243.6 1106.5,241.7 1108.0,241.8 1109.5,243.3 1111.0,245.2 1112.5,247.4 1114.0,248.7 1115.5,249.6 1117.0,250.7 1118.5,251.8 1120.0,253.0 1121.5,254.3 1123.0,255.8 1124.5,257.5 1126.0,259.7 1127.5,262.1 1129.0,264.0 1130.5,265.0 1132.0,264.8 1133.5,262.6 1135.0,259.2 1136.5,254.8 1137.7,250.6" stroke="#0303d8" stroke-width="2.45"/>
<polyline points="94.0,246.7 95.5,253.7 97.0,261.1 98.5,269.0 100.0,277.1 101.5,283.0 103.0,286.1 104.5,287.0 106.0,286.2 107.5,284.4 109.0,281.2 110.5,275.8 112.0,270.2 113.5,265.6 115.0,262.2 116.5,260.8 118.0,261.1 119.5,262.5 121.0,264.2 122.5,265.4 124.0,265.8 125.5,265.2 127.0,263.3 128.5,259.8 130.0,255.3 131.5,249.9 133.0,243.9 134.5,238.6 136.0,234.5 137.5,232.0 139.0,232.7 140.5,236.3 142.0,241.3 143.5,246.3 145.0,250.7 146.5,254.5 148.0,257.0 149.5,257.3 151.0,255.9 152.5,253.3 154.0,250.2 155.5,247.1 157.0,244.7 158.5,242.7 160.0,241.2 161.5,240.2 163.0,239.9 164.5,240.2 166.0,241.0 167.5,241.8 169.0,242.4 170.5,242.8 172.0,243.1 173.5,242.8 175.0,241.8 176.5,240.3 178.0,238.1 179.5,235.9 181.0,234.1 182.5,233.1 184.0,233.5 185.5,235.2 187.0,237.5 188.5,240.6 190.0,242.9 191.5,244.0 193.0,244.7 194.5,245.2 196.0,245.5 197.5,245.9 199.0,246.3 200.5,246.7 202.0,247.0 203.5,248.1 205.0,250.7 206.5,255.3 208.0,260.6 209.5,264.6 211.0,267.8 212.5,269.5 214.0,269.3 215.5,267.6 217.0,263.8 218.5,258.0 220.0,251.9 221.5,246.2 223.0,240.8 224.5,237.3 226.0,236.9 227.5,238.5 229.0,241.5 230.5,246.3 232.0,251.5 233.5,254.5 235.0,255.2 236.5,253.8 238.0,251.5 239.5,248.5 241.0,245.5 242.5,243.3 244.0,241.7 245.5,240.3 247.0,239.9 248.5,241.6 250.0,244.6 251.5,248.1 253.0,251.6 254.5,253.4 256.0,253.2 257.5,251.8 259.0,250.2 260.5,249.6 262.0,249.2 263.5,249.1 265.0,249.5 266.5,249.9 268.0,250.2 269.5,250.4 271.0,249.7 272.5,248.1 274.0,245.9 275.5,243.8 277.0,241.5 278.5,239.2 280.0,238.3 281.5,240.3 283.0,243.9 284.5,248.0 286.0,251.8 287.5,255.2 289.0,258.5 290.5,261.0 292.0,262.0 293.5,261.8 295.0,259.8 296.5,256.1 298.0,251.9 299.5,247.9 301.0,245.1 302.5,245.4 304.0,246.0 305.5,246.5 307.0,247.0 308.5,247.5 310.0,247.1 311.5,246.3 313.0,246.3 314.5,248.2 316.0,251.9 317.5,257.2 319.0,264.4 320.5,272.8 322.0,280.0 323.5,286.8 325.0,293.6 326.5,300.5 328.0,306.9 329.5,309.7 331.0,309.9 332.5,307.3 334.0,301.3 335.5,293.3 337.0,283.2 338.5,271.2 340.0,259.2 341.5,248.1 343.0,238.2 344.5,233.0 346.0,232.8 347.5,236.2 349.0,245.9 350.5,257.0 352.0,268.9 353.5,280.9 355.0,292.3 356.5,302.0 358.0,309.0 359.5,310.9 361.0,309.5 362.5,301.2 364.0,288.0 365.5,275.7 367.0,265.4 368.5,260.2 370.0,260.7 371.5,262.4 373.0,264.1 374.5,264.5 376.0,265.1 377.5,268.4 379.0,272.9 380.5,277.4 382.0,281.9 383.5,286.4 385.0,290.9 386.5,294.1 388.0,295.1 389.5,295.1 391.0,294.0 392.5,289.6 394.0,283.5 395.5,277.6 397.0,272.0 398.5,266.8 400.0,263.3 401.5,262.0 403.0,261.7 404.5,262.0 406.0,262.6 407.5,263.9 409.0,264.2 410.5,262.7 412.0,260.6 413.5,258.7 415.0,257.1 416.5,255.6 418.0,254.6 419.5,255.2 421.0,257.6 422.5,260.7 424.0,264.1 425.5,267.6 427.0,271.4 428.5,275.7 430.0,278.4 431.5,279.9 433.0,281.0 434.5,282.0 436.0,283.0 437.5,285.4 439.0,289.6 440.5,295.0 442.0,300.6 443.5,305.0 445.0,308.9 446.5,311.8 448.0,313.0 449.5,310.3 451.0,303.7 452.5,296.5 454.0,289.3 455.5,282.3 457.0,275.9 458.5,272.0 460.0,270.5 461.5,270.1 463.0,270.4 464.5,271.2 466.0,270.6 467.5,269.6 469.0,268.6 470.5,267.7 472.0,266.8 473.5,266.3 475.0,267.0 476.5,269.3 478.0,272.4 479.5,275.7 481.0,279.1 482.5,282.5 484.0,285.7 485.5,288.5 487.0,290.8 488.5,292.4 490.0,293.1 491.5,293.2 493.0,292.6 494.5,291.3 496.0,289.0 497.5,284.2 499.0,278.2 500.5,272.2 502.0,266.2 503.5,260.2 505.0,254.9 506.5,250.5 508.0,248.0 509.5,247.5 511.0,248.1 512.5,250.6 514.0,254.1 515.5,257.6 517.0,261.1 518.5,264.6 520.0,266.5 521.5,265.9 523.0,264.4 524.5,262.9 526.0,261.4 527.5,259.9 529.0,258.8 530.5,257.8 532.0,256.4 533.5,254.7 535.0,252.6 536.5,250.1 538.0,247.4 539.5,244.8 541.0,242.0 542.5,239.2 544.0,238.3 545.5,240.5 547.0,244.1 548.5,248.6 550.0,253.3 551.5,257.5 553.0,261.0 554.5,264.3 556.0,267.4 557.5,270.4 559.0,273.4 560.5,276.3 562.0,279.1 563.5,281.8 565.0,285.2 566.5,290.2 568.0,293.9 569.5,295.6 571.0,294.9 572.5,291.7 574.0,286.5 575.5,280.4 577.0,275.1 578.5,271.0 580.0,267.3 581.5,264.2 583.0,261.7 584.5,260.3 586.0,260.2 587.5,261.4 589.0,263.6 590.5,265.8 592.0,268.1 593.5,270.3 595.0,272.6 596.5,274.8 598.0,276.1 599.5,276.6 601.0,276.7 602.5,275.8 604.0,273.6 605.5,271.0 607.0,268.2 608.5,265.3 610.0,262.2 611.5,259.3 613.0,257.0 614.5,256.9 616.0,259.0 617.5,261.3 619.0,263.5 620.5,265.8 622.0,268.0 623.5,269.4 625.0,269.5 626.5,269.5 628.0,269.0 629.5,268.6 631.0,269.2 632.5,270.5 634.0,272.0 635.5,273.8 637.0,275.8 638.5,277.6 640.0,279.2 641.5,278.1 643.0,275.3 644.5,272.4 646.0,269.3 647.5,266.4 649.0,264.1 650.5,262.9 652.0,262.7 653.5,262.9 655.0,263.6 656.5,264.8 658.0,265.2 659.5,264.2 661.0,263.1 662.5,261.8 664.0,260.5 665.5,259.2 667.0,258.0 668.5,257.0 670.0,257.4 671.5,259.3 673.0,261.8 674.5,264.4 676.0,267.1 677.5,269.6 679.0,271.4 680.5,272.3 682.0,272.0 683.5,269.4 685.0,265.9 686.5,262.4 688.0,258.9 689.5,255.4 691.0,253.6 692.5,253.0 694.0,253.1 695.5,255.9 697.0,259.9 698.5,263.9 700.0,267.9 701.5,271.9 703.0,274.4 704.5,275.2 706.0,274.2 707.5,271.5 709.0,267.3 710.5,263.5 712.0,261.2 713.5,260.0 715.0,260.6 716.5,265.3 718.0,272.9 719.5,280.4 721.0,287.1 722.5,293.1 724.0,296.4 725.5,297.2 727.0,296.3 728.5,293.5 730.0,289.5 731.5,285.5 733.0,281.9 734.5,278.7 736.0,276.8 737.5,276.1 739.0,277.0 740.5,276.9 742.0,274.9 743.5,272.9 745.0,271.2 746.5,270.0 748.0,270.4 749.5,272.5 751.0,276.3 752.5,279.5 754.0,281.6 755.5,283.4 757.0,284.9 758.5,286.3 760.0,287.5 761.5,289.0 763.0,293.2 764.5,299.6 766.0,306.3 767.5,313.6 769.0,319.7 770.5,323.6 772.0,326.3 773.5,326.7 775.0,323.2 776.5,317.2 778.0,309.6 779.5,301.5 781.0,293.8 782.5,286.8 784.0,280.6 785.5,276.6 787.0,274.3 788.5,273.8 790.0,274.6 791.5,276.5 793.0,281.7 794.5,287.7 796.0,293.7 797.5,299.7 799.0,305.6 800.5,309.8 802.0,311.7 803.5,311.1 805.0,309.5 806.5,307.4 808.0,304.2 809.5,298.1 811.0,289.6 812.5,285.3 814.0,281.8 815.5,278.3 817.0,274.7 818.5,274.5 820.0,279.1 821.5,285.1 823.0,291.1 824.5,297.1 826.0,303.1 827.5,306.5 829.0,306.8 830.5,305.6 832.0,299.4 833.5,288.5 835.0,277.4 836.5,266.6 838.0,256.4 839.5,249.8 841.0,249.0 842.5,250.5 844.0,252.0 845.5,253.5 847.0,255.0 848.5,256.5 850.0,257.9 851.5,259.1 853.0,260.0 854.5,260.2 856.0,260.1 857.5,259.7 859.0,259.1 860.5,258.6 862.0,258.4 863.5,261.4 865.0,267.0 866.5,272.6 868.0,277.6 869.5,282.3 871.0,285.3 872.5,286.6 874.0,286.7 875.5,284.8 877.0,280.1 878.5,275.1 880.0,270.1 881.5,265.1 883.0,260.8 884.5,259.3 886.0,260.3 887.5,262.2 889.0,264.7 890.5,267.8 892.0,269.4 893.5,269.2 895.0,267.7 896.5,265.1 898.0,262.3 899.5,260.4 901.0,259.5 902.5,260.7 904.0,264.6 905.5,270.5 907.0,276.6 908.5,281.9 910.0,286.7 911.5,290.5 913.0,292.9 914.5,294.4 916.0,294.7 917.5,292.4 919.0,288.8 920.5,284.9 922.0,280.9 923.5,276.7 925.0,272.6 926.5,268.9 928.0,266.0 929.5,263.7 931.0,262.7 932.5,263.4 934.0,264.8 935.5,266.5 937.0,268.2 938.5,269.9 940.0,271.6 941.5,273.3 943.0,275.4 944.5,279.9 946.0,287.9 947.5,298.6 949.0,307.7 950.5,315.8 952.0,322.4 953.5,327.5 955.0,334.1 956.5,342.4 958.0,339.3 959.5,328.0 961.0,316.7 962.5,305.1 964.0,293.0 965.5,281.3 967.0,274.2 968.5,272.0 970.0,273.9 971.5,280.7 973.0,289.9 974.5,296.5 976.0,301.5 977.5,304.3 979.0,304.9 980.5,303.8 982.0,300.2 983.5,293.2 985.0,285.4 986.5,278.6 988.0,272.9 989.5,269.7 991.0,268.3 992.5,267.4 994.0,266.7 995.5,266.8 997.0,267.5 998.5,268.3 1000.0,269.4 1001.5,270.5 1003.0,271.7 1004.5,272.7 1006.0,273.6 1007.5,274.5 1009.0,275.5 1010.5,276.3 1012.0,276.6 1013.5,276.3 1015.0,275.8 1016.5,275.5 1018.0,275.2 1019.5,275.2 1021.0,277.1 1022.5,281.1 1024.0,286.1 1025.5,291.3 1027.0,296.9 1028.5,302.2 1030.0,305.7 1031.5,308.1 1033.0,309.5 1034.5,308.8 1036.0,306.0 1037.5,301.7 1039.0,296.3 1040.5,291.3 1042.0,287.7 1043.5,286.0 1045.0,286.1 1046.5,287.5 1048.0,289.4 1049.5,291.4 1051.0,293.1 1052.5,294.5 1054.0,294.1 1055.5,290.7 1057.0,284.3 1058.5,278.8 1060.0,274.3 1061.5,271.6 1063.0,269.6 1064.5,267.6 1066.0,265.6 1067.5,263.6 1069.0,261.6 1070.5,259.5 1072.0,257.0 1073.5,254.4 1075.0,251.9 1076.5,249.4 1078.0,245.7 1079.5,242.3 1081.0,239.6 1082.5,237.6 1084.0,236.8 1085.5,237.3 1087.0,238.9 1088.5,242.0 1090.0,246.1 1091.5,249.9 1093.0,253.1 1094.5,255.7 1096.0,257.2 1097.5,257.5 1099.0,256.5 1100.5,254.5 1102.0,251.3 1103.5,248.6 1105.0,246.9 1106.5,246.8 1108.0,247.9 1109.5,249.5 1111.0,251.7 1112.5,253.4 1114.0,254.5 1115.5,255.6 1117.0,256.7 1118.5,257.7 1120.0,258.6 1121.5,259.3 1123.0,259.7 1124.5,260.2 1126.0,260.6 1127.5,261.0 1129.0,261.2 1130.5,260.6 1132.0,259.1 1133.5,255.9 1135.0,251.9 1136.5,247.3 1137.7,243.1" stroke="#f8a31a" stroke-width="2.45"/>
<polyline points="94.0,259.1 95.5,256.7 97.0,255.1 98.5,254.3 100.0,254.7 101.5,256.4 103.0,259.1 104.5,262.6 106.0,266.1 107.5,269.3 109.0,272.1 110.5,273.9 112.0,275.0 113.5,275.8 115.0,276.4 116.5,276.7 118.0,276.5 119.5,275.4 121.0,274.7 122.5,275.2 124.0,277.0 125.5,280.4 127.0,284.0 128.5,286.6 130.0,288.7 131.5,289.8 133.0,289.2 134.5,286.9 136.0,283.3 137.5,278.9 139.0,274.3 140.5,270.5 142.0,267.6 143.5,266.5 145.0,267.1 146.5,268.6 148.0,270.1 149.5,271.0 151.0,271.5 152.5,271.4 154.0,270.8 155.5,269.8 157.0,268.5 158.5,267.2 160.0,266.1 161.5,265.2 163.0,265.4 164.5,266.4 166.0,267.1 167.5,267.4 169.0,266.1 170.5,263.3 172.0,260.3 173.5,256.8 175.0,254.2 176.5,254.8 178.0,257.8 179.5,261.1 181.0,264.4 182.5,268.0 184.0,271.8 185.5,275.5 187.0,279.2 188.5,282.6 190.0,285.8 191.5,288.6 193.0,291.1 194.5,293.8 196.0,296.8 197.5,299.8 199.0,302.3 200.5,303.7 202.0,303.3 203.5,301.8 205.0,299.8 206.5,297.9 208.0,296.3 209.5,294.8 211.0,293.3 212.5,291.7 214.0,290.0 215.5,288.5 217.0,287.7 218.5,287.5 220.0,287.6 221.5,287.8 223.0,288.9 224.5,290.9 226.0,292.9 227.5,294.9 229.0,296.9 230.5,298.5 232.0,299.3 233.5,299.6 235.0,298.9 236.5,296.7 238.0,293.1 239.5,288.2 241.0,282.4 242.5,275.9 244.0,268.9 245.5,261.9 247.0,255.3 248.5,249.1 250.0,244.9 251.5,242.3 253.0,240.9 254.5,240.7 256.0,241.6 257.5,243.4 259.0,246.2 260.5,251.0 262.0,257.4 263.5,264.1 265.0,271.3 266.5,278.0 268.0,281.4 269.5,282.2 271.0,282.1 272.5,280.9 274.0,278.2 275.5,275.3 277.0,273.4 278.5,272.3 280.0,272.1 281.5,272.7 283.0,274.6 284.5,277.8 286.0,281.5 287.5,284.3 289.0,286.7 290.5,288.4 292.0,288.8 293.5,288.2 295.0,285.9 296.5,282.0 298.0,278.0 299.5,274.0 301.0,270.0 302.5,266.9 304.0,265.7 305.5,264.9 307.0,264.7 308.5,265.0 310.0,265.8 311.5,267.2 313.0,268.7 314.5,270.3 316.0,272.0 317.5,274.4 319.0,279.3 320.5,285.8 322.0,293.1 323.5,300.8 325.0,307.3 326.5,311.8 328.0,314.9 329.5,316.6 331.0,316.9 332.5,314.8 334.0,315.8 335.5,310.0 337.0,300.6 338.5,290.9 340.0,281.2 341.5,272.9 343.0,266.2 344.5,261.7 346.0,260.1 347.5,260.4 349.0,264.0 350.5,270.5 352.0,277.0 353.5,283.1 355.0,289.0 356.5,294.3 358.0,298.1 359.5,299.8 361.0,299.2 362.5,297.4 364.0,295.2 365.5,292.5 367.0,290.2 368.5,289.9 370.0,290.7 371.5,291.5 373.0,292.4 374.5,293.5 376.0,295.1 377.5,297.2 379.0,299.8 380.5,302.7 382.0,305.8 383.5,309.2 385.0,312.8 386.5,316.4 388.0,319.6 389.5,322.4 391.0,324.7 392.5,325.5 394.0,325.0 395.5,323.4 397.0,320.1 398.5,315.7 400.0,310.0 401.5,303.8 403.0,297.6 404.5,291.6 406.0,285.6 407.5,280.1 409.0,275.5 410.5,271.6 412.0,268.3 413.5,265.4 415.0,262.9 416.5,260.8 418.0,259.3 419.5,258.4 421.0,258.1 422.5,258.5 424.0,259.9 425.5,262.8 427.0,265.9 428.5,267.9 430.0,269.8 431.5,271.5 433.0,273.0 434.5,274.4 436.0,276.1 437.5,278.3 439.0,280.8 440.5,284.0 442.0,287.9 443.5,292.1 445.0,297.8 446.5,303.1 448.0,306.1 449.5,307.7 451.0,308.7 452.5,308.7 454.0,307.5 455.5,305.2 457.0,302.1 458.5,298.3 460.0,293.7 461.5,289.4 463.0,285.7 464.5,282.6 466.0,280.4 467.5,278.9 469.0,277.9 470.5,277.5 472.0,277.9 473.5,279.5 475.0,282.1 476.5,284.5 478.0,286.7 479.5,288.4 481.0,289.3 482.5,289.6 484.0,289.4 485.5,289.2 487.0,288.8 488.5,288.4 490.0,287.9 491.5,287.5 493.0,286.9 494.5,286.4 496.0,286.0 497.5,286.0 499.0,286.1 500.5,286.3 502.0,286.6 503.5,286.8 505.0,286.6 506.5,285.8 508.0,284.4 509.5,282.4 511.0,280.5 512.5,278.8 514.0,277.3 515.5,275.9 517.0,274.9 518.5,275.2 520.0,277.3 521.5,279.8 523.0,282.3 524.5,284.8 526.0,287.0 527.5,287.5 529.0,286.5 530.5,282.7 532.0,275.3 533.5,266.0 535.0,257.4 536.5,249.7 538.0,243.9 539.5,241.8 541.0,241.3 542.5,242.1 544.0,246.4 545.5,252.1 547.0,257.4 548.5,262.4 550.0,266.9 551.5,269.8 553.0,271.9 554.5,272.7 556.0,273.7 557.5,276.5 559.0,281.6 560.5,288.9 562.0,298.5 563.5,311.1 565.0,324.4 566.5,334.0 568.0,340.8 569.5,345.1 571.0,346.8 572.5,347.1 574.0,345.5 575.5,342.1 577.0,338.7 578.5,335.2 580.0,331.7 581.5,328.1 583.0,324.4 584.5,321.4 586.0,321.2 587.5,317.0 589.0,312.7 590.5,309.8 592.0,307.2 593.5,304.1 595.0,300.3 596.5,296.4 598.0,293.5 599.5,291.9 601.0,291.2 602.5,292.0 604.0,295.1 605.5,299.9 607.0,302.6 608.5,303.9 610.0,304.4 611.5,303.3 613.0,299.1 614.5,293.1 616.0,288.4 617.5,284.4 619.0,281.6 620.5,281.3 622.0,283.7 623.5,287.2 625.0,291.5 626.5,294.9 628.0,296.8 629.5,297.8 631.0,298.3 632.5,298.3 634.0,297.8 635.5,296.9 637.0,295.3 638.5,293.1 640.0,290.8 641.5,288.6 643.0,286.3 644.5,284.1 646.0,281.6 647.5,278.4 649.0,275.3 650.5,273.0 652.0,271.3 653.5,270.3 655.0,272.1 656.5,275.1 658.0,277.3 659.5,279.3 661.0,281.0 662.5,282.3 664.0,283.4 665.5,284.4 667.0,285.5 668.5,286.2 670.0,285.7 671.5,284.5 673.0,283.2 674.5,282.3 676.0,281.4 677.5,280.6 679.0,280.2 680.5,281.0 682.0,283.0 683.5,285.8 685.0,288.8 686.5,291.8 688.0,294.8 689.5,297.8 691.0,300.8 692.5,303.5 694.0,305.3 695.5,305.5 697.0,304.4 698.5,302.8 700.0,300.9 701.5,299.3 703.0,299.5 704.5,301.8 706.0,305.3 707.5,308.7 709.0,311.5 710.5,314.2 712.0,316.5 713.5,317.8 715.0,318.9 716.5,322.0 718.0,323.3 719.5,323.9 721.0,324.5 722.5,325.1 724.0,325.7 725.5,326.3 727.0,324.9 728.5,320.7 730.0,313.2 731.5,303.4 733.0,291.9 734.5,281.7 736.0,274.2 737.5,269.6 739.0,267.7 740.5,267.7 742.0,269.4 743.5,274.1 745.0,280.0 746.5,286.8 748.0,294.0 749.5,299.6 751.0,303.5 752.5,306.1 754.0,305.7 755.5,301.4 757.0,296.0 758.5,292.1 760.0,289.2 761.5,287.9 763.0,290.1 764.5,295.9 766.0,302.3 767.5,308.2 769.0,313.8 770.5,318.6 772.0,321.2 773.5,322.0 775.0,319.8 776.5,313.5 778.0,306.9 779.5,300.6 781.0,294.5 782.5,289.2 784.0,285.8 785.5,283.7 787.0,283.1 788.5,283.8 790.0,285.6 791.5,288.8 793.0,293.8 794.5,302.9 796.0,308.4 797.5,307.5 799.0,313.3 800.5,314.9 802.0,314.8 803.5,313.8 805.0,312.5 806.5,311.0 808.0,309.0 809.5,305.5 811.0,300.5 812.5,294.7 814.0,291.4 815.5,288.7 817.0,279.1 818.5,279.0 820.0,282.8 821.5,288.4 823.0,297.4 824.5,307.3 826.0,316.6 827.5,325.2 829.0,332.1 830.5,334.5 832.0,332.9 833.5,328.3 835.0,321.6 836.5,315.7 838.0,312.4 839.5,310.9 841.0,310.8 842.5,311.3 844.0,312.6 845.5,314.6 847.0,315.4 848.5,314.2 850.0,310.8 851.5,306.7 853.0,302.3 854.5,297.8 856.0,293.9 857.5,291.4 859.0,290.0 860.5,289.8 862.0,290.9 863.5,293.0 865.0,296.3 866.5,299.8 868.0,303.4 869.5,307.0 871.0,310.6 872.5,313.8 874.0,316.6 875.5,318.9 877.0,319.9 878.5,320.1 880.0,319.5 881.5,318.0 883.0,315.6 884.5,312.5 886.0,308.9 887.5,304.7 889.0,300.3 890.5,296.1 892.0,292.2 893.5,288.6 895.0,285.5 896.5,283.6 898.0,282.8 899.5,282.6 901.0,283.1 902.5,284.1 904.0,285.2 905.5,286.5 907.0,287.9 908.5,289.4 910.0,291.1 911.5,293.4 913.0,296.7 914.5,301.4 916.0,306.4 917.5,311.2 919.0,315.7 920.5,319.4 922.0,320.7 923.5,320.6 925.0,318.9 926.5,315.7 928.0,311.1 929.5,305.0 931.0,297.9 932.5,292.3 934.0,287.6 935.5,284.2 937.0,281.5 938.5,279.2 940.0,277.4 941.5,276.2 943.0,276.1 944.5,277.6 946.0,287.7 947.5,301.8 949.0,313.5 950.5,326.1 952.0,337.6 953.5,346.2 955.0,354.0 956.5,358.5 958.0,355.4 959.5,346.5 961.0,337.5 962.5,328.5 964.0,320.1 965.5,314.4 967.0,310.3 968.5,308.9 970.0,310.8 971.5,316.8 973.0,324.7 974.5,332.3 976.0,339.5 977.5,345.9 979.0,346.7 980.5,344.8 982.0,341.1 983.5,334.5 985.0,327.2 986.5,321.1 988.0,317.3 989.5,315.8 991.0,314.7 992.5,314.0 994.0,314.9 995.5,313.7 997.0,312.4 998.5,311.2 1000.0,310.8 1001.5,310.1 1003.0,308.7 1004.5,310.2 1006.0,312.3 1007.5,314.5 1009.0,316.6 1010.5,318.4 1012.0,319.8 1013.5,318.9 1015.0,315.8 1016.5,310.3 1018.0,306.5 1019.5,300.4 1021.0,294.6 1022.5,293.2 1024.0,293.3 1025.5,293.8 1027.0,295.0 1028.5,297.1 1030.0,299.0 1031.5,300.0 1033.0,298.3 1034.5,294.6 1036.0,290.3 1037.5,285.6 1039.0,281.4 1040.5,278.8 1042.0,277.1 1043.5,276.1 1045.0,276.3 1046.5,277.6 1048.0,280.3 1049.5,283.8 1051.0,287.2 1052.5,290.3 1054.0,293.1 1055.5,295.3 1057.0,296.7 1058.5,296.9 1060.0,295.3 1061.5,292.2 1063.0,287.5 1064.5,281.5 1066.0,275.5 1067.5,269.5 1069.0,263.5 1070.5,259.5 1072.0,258.7 1073.5,258.7 1075.0,258.7 1076.5,258.7 1078.0,258.9 1079.5,259.1 1081.0,258.6 1082.5,256.4 1084.0,253.2 1085.5,249.7 1087.0,245.8 1088.5,241.7 1090.0,237.9 1091.5,234.5 1093.0,231.3 1094.5,228.9 1096.0,227.2 1097.5,226.7 1099.0,226.8 1100.5,228.8 1102.0,232.2 1103.5,236.0 1105.0,239.9 1106.5,244.1 1108.0,248.7 1109.5,253.0 1111.0,256.5 1112.5,259.8 1114.0,262.9 1115.5,265.7 1117.0,267.9 1118.5,269.4 1120.0,269.8 1121.5,269.4 1123.0,268.5 1124.5,265.2 1126.0,260.7 1127.5,256.2 1129.0,251.7 1130.5,247.2 1132.0,243.9 1133.5,241.7 1135.0,240.3 1136.5,239.3 1138.0,238.7 1138.2,238.7" stroke="#000" stroke-width="4.4"/>
<polyline points="100.0,479.2 101.5,484.6 103.0,487.2 104.5,487.4 106.0,485.2 107.5,481.2 109.0,477.2 110.5,473.4 112.0,469.6 113.5,466.1 115.0,463.3 116.5,461.5 118.0,460.6 119.5,460.2 121.0,460.1 122.5,460.5 124.0,461.0 125.5,461.1 127.0,460.3 128.5,458.4 130.0,455.5 131.5,452.0 133.0,447.9 134.5,444.1 136.0,441.5 137.5,439.6 139.0,439.0 140.5,440.0 142.0,443.4 143.5,448.9 145.0,456.2 146.5,462.9 148.0,468.5 149.5,471.7 151.0,471.3 152.5,468.1 154.0,464.0 155.5,460.1 157.0,456.5 158.5,453.4 160.0,452.2 161.5,452.2 163.0,452.6 164.5,453.4 166.0,454.5 167.5,455.7 169.0,456.6 170.5,457.1 172.0,457.1 173.5,456.7 175.0,455.3 176.5,453.2 178.0,450.9 179.5,448.5 181.0,445.9 182.5,443.6 184.0,442.4 185.5,442.1 187.0,442.1 188.5,442.1 190.0,442.1 191.5,442.1 193.0,442.1 194.5,441.9 196.0,441.4 197.5,441.1 199.0,442.1 200.5,444.9 202.0,449.9 203.5,456.8 205.0,464.9 206.5,472.8 208.0,480.0 209.5,486.4 211.0,489.9 212.5,491.5 214.0,491.8 215.5,487.9 217.0,481.9 218.5,475.9 220.0,469.9 221.5,464.1 223.0,461.6 224.5,461.0 226.0,460.6 227.5,461.4 229.0,463.3 230.5,465.7 232.0,468.8 233.5,471.6 235.0,473.2 236.5,472.9 238.0,471.2 239.5,468.6 241.0,465.8 242.5,462.5 244.0,458.5 245.5,454.4 247.0,449.8 248.5,445.2 250.0,441.2 251.5,438.3 253.0,436.4 254.5,435.1 256.0,434.4 257.5,434.1 259.0,434.1 260.5,435.4 262.0,438.2 263.5,441.7 265.0,445.8 266.5,449.7 268.0,452.9 269.5,455.5 271.0,456.8 272.5,457.1 274.0,456.6 275.5,454.8 277.0,451.7 278.5,448.8 280.0,446.5 281.5,445.0 283.0,445.1 284.5,447.6 286.0,451.7 287.5,455.6 289.0,458.8 290.5,461.7 292.0,464.2 293.5,466.0 295.0,467.0 296.5,467.1 298.0,465.7 299.5,462.8 301.0,459.7 302.5,457.0 304.0,454.6 305.5,453.0 307.0,452.7 308.5,452.9 310.0,453.7 311.5,455.6 313.0,457.5 314.5,459.3 316.0,461.2 317.5,463.1 319.0,464.9 320.5,466.4 322.0,467.8 323.5,469.6 325.0,471.8 326.5,473.5 328.0,474.2 329.5,474.2 331.0,473.4 332.5,471.2 334.0,467.3 335.5,462.0 337.0,457.1 338.5,453.3 340.0,450.0 341.5,447.3 343.0,445.5 344.5,444.4 346.0,443.8 347.5,444.4 349.0,447.0 350.5,450.7 352.0,455.0 353.5,459.6 355.0,463.5 356.5,466.3 358.0,468.3 359.5,468.1 361.0,464.8 362.5,460.7 364.0,456.2 365.5,451.6 367.0,448.4 368.5,448.4 370.0,450.7 371.5,453.8 373.0,457.6 374.5,461.7 376.0,465.3 377.5,468.4 379.0,471.0 380.5,473.1 382.0,474.5 383.5,475.3 385.0,475.1 386.5,473.6 388.0,470.5 389.5,465.6 391.0,459.4 392.5,453.6 394.0,448.5 395.5,444.0 397.0,440.8 398.5,439.2 400.0,439.1 401.5,440.7 403.0,443.2 404.5,445.9 406.0,449.0 407.5,451.7 409.0,452.1 410.5,450.6 412.0,448.6 413.5,446.6 415.0,444.6 416.5,442.7 418.0,441.9 419.5,442.3 421.0,443.5 422.5,445.7 424.0,448.6 425.5,452.0 427.0,456.2 428.5,459.9 430.0,463.1 431.5,466.0 433.0,468.6 434.5,471.1 436.0,473.0 437.5,474.3 439.0,475.3 440.5,476.4 442.0,477.9 443.5,479.7 445.0,483.8 446.5,486.0 448.0,485.5 449.5,481.8 451.0,475.4 452.5,468.3 454.0,461.5 455.5,454.9 457.0,449.3 458.5,446.1 460.0,444.2 461.5,443.2 463.0,443.2 464.5,443.5 466.0,444.0 467.5,444.8 469.0,445.5 470.5,446.3 472.0,447.0 473.5,447.8 475.0,448.5 476.5,449.5 478.0,451.6 479.5,455.0 481.0,458.4 482.5,461.8 484.0,465.1 485.5,468.5 487.0,471.7 488.5,473.8 490.0,475.0 491.5,475.4 493.0,474.6 494.5,472.8 496.0,470.4 497.5,467.7 499.0,464.6 500.5,461.3 502.0,457.8 503.5,453.9 505.0,449.8 506.5,446.1 508.0,442.7 509.5,440.4 511.0,440.0 512.5,440.9 514.0,443.4 515.5,447.7 517.0,452.3 518.5,456.4 520.0,459.7 521.5,461.5 523.0,462.2 524.5,462.1 526.0,461.7 527.5,461.3 529.0,461.0 530.5,460.6 532.0,460.2 533.5,460.0 535.0,460.0 536.5,460.2 538.0,460.4 539.5,460.6 541.0,460.8 542.5,461.0 544.0,461.1 545.5,461.3 547.0,461.7 548.5,462.2 550.0,462.9 551.5,463.7 553.0,464.6 554.5,465.7 556.0,466.9 557.5,467.8 559.0,467.9 560.5,465.8 562.0,462.4 563.5,458.8 565.0,455.4 566.5,452.0 568.0,448.6 569.5,445.3 571.0,442.3 572.5,439.4 574.0,437.9 575.5,436.0 577.0,432.1 578.5,430.7 580.0,430.2 581.5,430.1 583.0,430.5 584.5,431.5 586.0,433.4 587.5,436.1 589.0,439.8 590.5,444.9 592.0,451.1 593.5,456.8 595.0,462.0 596.5,466.5 598.0,470.2 599.5,472.9 601.0,475.1 602.5,476.7 604.0,477.9 605.5,478.7 607.0,479.2 608.5,479.2 610.0,478.8 611.5,477.8 613.0,475.7 614.5,471.8 616.0,466.7 617.5,461.8 619.0,457.6 620.5,454.4 622.0,452.7 623.5,452.0 625.0,451.6 626.5,451.5 628.0,451.7 629.5,452.2 631.0,453.1 632.5,454.4 634.0,456.1 635.5,457.5 637.0,458.4 638.5,458.7 640.0,458.1 641.5,457.3 643.0,457.0 644.5,456.9 646.0,457.1 647.5,458.0 649.0,459.5 650.5,460.2 652.0,460.3 653.5,459.7 655.0,458.3 656.5,456.8 658.0,455.3 659.5,453.8 661.0,452.3 662.5,450.9 664.0,449.8 665.5,449.0 667.0,449.7 668.5,453.2 670.0,457.7 671.5,462.2 673.0,466.7 674.5,471.1 676.0,473.9 677.5,475.5 679.0,476.2 680.5,476.1 682.0,475.0 683.5,472.4 685.0,468.2 686.5,464.4 688.0,461.2 689.5,458.3 691.0,455.8 692.5,453.7 694.0,452.2 695.5,451.5 697.0,451.2 698.5,451.1 700.0,451.3 701.5,451.5 703.0,451.6 704.5,451.7 706.0,451.3 707.5,450.1 709.0,449.0 710.5,447.9 712.0,446.8 713.5,445.6 715.0,444.6 716.5,444.6 718.0,446.0 719.5,447.9 721.0,449.9 722.5,451.5 724.0,453.0 725.5,454.4 727.0,455.4 728.5,456.0 730.0,456.2 731.5,455.8 733.0,455.2 734.5,454.6 736.0,453.6 737.5,451.7 739.0,449.1 740.5,446.4 742.0,443.9 743.5,441.4 745.0,439.1 746.5,438.1 748.0,438.4 749.5,440.4 751.0,444.0 752.5,448.1 754.0,451.9 755.5,455.5 757.0,458.6 758.5,461.6 760.0,464.6 761.5,467.6 763.0,470.6 764.5,473.6 766.0,476.1 767.5,478.2 769.0,479.7 770.5,479.1 772.0,477.1 773.5,473.7 775.0,468.6 776.5,462.3 778.0,456.8 779.5,452.2 781.0,448.7 782.5,446.8 784.0,445.7 785.5,445.7 787.0,446.7 788.5,449.2 790.0,453.8 791.5,460.5 793.0,467.6 794.5,474.0 796.0,479.9 797.5,484.7 799.0,487.6 800.5,489.6 802.0,489.6 803.5,487.3 805.0,484.5 806.5,481.8 808.0,478.6 809.5,473.7 811.0,467.8 812.5,462.0 814.0,456.1 815.5,449.0 817.0,441.1 818.5,436.7 820.0,435.1 821.5,435.2 823.0,437.1 824.5,441.1 826.0,445.1 827.5,448.1 829.0,449.1 830.5,447.9 832.0,446.1 833.5,444.1 835.0,442.1 836.5,440.4 838.0,439.1 839.5,438.7 841.0,439.5 842.5,441.0 844.0,443.0 845.5,445.4 847.0,448.0 848.5,451.0 850.0,454.0 851.5,457.0 853.0,460.0 854.5,462.2 856.0,463.1 857.5,463.3 859.0,462.2 860.5,460.2 862.0,458.2 863.5,456.2 865.0,454.2 866.5,453.1 868.0,454.0 869.5,456.4 871.0,459.0 872.5,461.3 874.0,463.1 875.5,462.9 877.0,461.2 878.5,459.2 880.0,457.2 881.5,456.7 883.0,458.0 884.5,460.5 886.0,463.0 887.5,465.5 889.0,468.0 890.5,469.0 892.0,467.4 893.5,463.6 895.0,457.7 896.5,449.8 898.0,441.7 899.5,434.8 901.0,429.3 902.5,427.6 904.0,427.4 905.5,433.4 907.0,444.1 908.5,455.4 910.0,466.4 911.5,475.7 913.0,482.9 914.5,487.1 916.0,489.1 917.5,489.6 919.0,488.2 920.5,485.7 922.0,481.8 923.5,477.0 925.0,473.2 926.5,470.3 928.0,469.1 929.5,469.5 931.0,469.9 932.5,470.2 934.0,470.6 935.5,471.0 937.0,471.2 938.5,470.2 940.0,467.6 941.5,463.3 943.0,457.9 944.5,451.9 946.0,445.8 947.5,441.3 949.0,438.4 950.5,436.6 952.0,436.1 953.5,436.7 955.0,438.7 956.5,442.4 958.0,446.6 959.5,449.5 961.0,451.1 962.5,450.9 964.0,450.2 965.5,449.3 967.0,448.2 968.5,448.1 970.0,449.7 971.5,452.9 973.0,456.5 974.5,460.5 976.0,464.5 977.5,467.6 979.0,469.1 980.5,468.8 982.0,466.0 983.5,461.0 985.0,456.0 986.5,451.0 988.0,446.0 989.5,441.6 991.0,438.6 992.5,436.4 994.0,435.2 995.5,434.8 997.0,435.7 998.5,438.3 1000.0,441.8 1001.5,445.8 1003.0,449.8 1004.5,453.2 1006.0,456.1 1007.5,458.7 1009.0,460.8 1010.5,462.2 1012.0,463.0 1013.5,463.1 1015.0,462.3 1016.5,460.7 1018.0,458.9 1019.5,457.3 1021.0,455.7 1022.5,454.3 1024.0,453.0 1025.5,452.4 1027.0,452.5 1028.5,453.7 1030.0,456.3 1031.5,460.3 1033.0,463.7 1034.5,466.6 1036.0,468.9 1037.5,470.4 1039.0,471.7 1040.5,473.0 1042.0,474.4 1043.5,475.9 1045.0,477.5 1046.5,480.1 1048.0,483.0 1049.5,485.3 1051.0,487.1 1052.5,488.3 1054.0,487.9 1055.5,485.9 1057.0,482.4 1058.5,477.6 1060.0,471.3 1061.5,465.8 1063.0,461.4 1064.5,458.5 1066.0,456.4 1067.5,454.7 1069.0,453.2 1070.5,451.6 1072.0,449.0 1073.5,444.8 1075.0,439.1 1076.5,433.8 1078.0,429.1 1079.5,425.2 1081.0,422.8 1082.5,421.9 1084.0,422.0 1085.5,423.7 1087.0,426.2 1088.5,428.8 1090.0,431.4 1091.5,434.0 1093.0,436.6 1094.5,439.3 1096.0,441.9 1097.5,444.2 1099.0,446.4 1100.5,448.7 1102.0,450.9 1103.5,453.2 1105.0,455.3 1106.5,456.9 1108.0,457.2 1109.5,456.5 1111.0,455.7 1112.5,455.0 1114.0,454.2 1115.5,453.5 1117.0,453.2 1118.5,455.6 1120.0,459.4 1121.5,464.4 1123.0,470.9 1124.5,478.1 1126.0,484.7 1127.5,490.7 1129.0,495.3 1130.5,496.3 1132.0,493.5 1132.2,492.8" stroke="#dc0505" stroke-width="2.45"/>
<polyline points="98.6,472.2 100.1,478.1 101.6,483.1 103.1,486.8 104.6,488.5 106.1,486.5 107.6,480.4 109.1,473.4 110.6,466.4 112.1,459.4 113.6,453.0 115.1,450.7 116.6,449.7 118.1,448.8 119.6,449.0 121.1,450.2 122.6,450.8 124.1,450.7 125.6,449.6 127.1,448.1 128.6,446.6 130.1,445.1 131.6,443.6 133.1,442.1 134.6,440.9 136.1,440.1 137.6,440.5 139.1,443.2 140.6,447.8 142.1,453.2 143.6,459.3 145.1,465.2 146.6,470.2 148.1,473.2 149.6,473.7 151.1,472.1 152.6,469.8 154.1,467.1 155.6,464.1 157.1,461.1 158.6,458.1 160.1,455.1 161.6,453.1 163.1,452.1 164.6,451.7 166.1,452.1 167.6,453.6 169.1,455.1 170.6,456.3 172.1,457.1 173.6,457.1 175.1,456.2 176.6,454.4 178.1,452.2 179.6,449.2 181.1,446.2 182.6,444.3 184.1,443.1 185.6,442.4 187.1,443.1 188.6,445.0 190.1,447.1 191.6,449.0 193.1,450.8 194.6,452.6 196.1,453.3 197.6,453.7 199.1,455.1 200.6,457.1 202.1,460.0 203.6,463.9 205.1,468.2 206.6,472.2 208.1,475.7 209.6,479.0 211.1,481.7 212.6,482.5 214.1,481.0 215.6,477.2 217.1,471.6 218.6,465.4 220.1,460.0 221.6,455.6 223.1,452.6 224.6,451.9 226.1,452.8 227.6,454.9 229.1,458.4 230.6,462.7 232.1,465.8 233.6,467.8 235.1,468.3 236.6,467.2 238.1,464.2 239.6,460.5 241.1,457.5 242.6,455.0 244.1,453.1 245.6,452.6 247.1,454.4 248.6,457.1 250.1,459.5 251.6,461.5 253.1,462.2 254.6,460.3 256.1,457.5 257.6,454.3 259.1,451.7 260.6,449.7 262.1,448.6 263.6,448.7 265.1,449.9 266.6,451.5 268.1,452.8 269.6,453.6 271.1,454.1 272.6,453.7 274.1,452.0 275.6,449.5 277.1,445.9 278.6,442.5 280.1,440.2 281.6,438.9 283.1,439.4 284.6,441.7 286.1,445.3 287.6,450.2 289.1,456.4 290.6,462.2 292.1,467.0 293.6,470.8 295.1,473.1 296.6,474.1 298.1,474.1 299.6,473.2 301.1,470.7 302.6,467.7 304.1,464.4 305.6,460.8 307.1,457.6 308.6,455.2 310.1,453.2 311.6,451.7 313.1,450.7 314.6,450.6 316.1,450.9 317.6,452.4 319.1,456.4 320.6,460.9 322.1,465.4 323.6,469.9 325.1,474.3 326.6,477.1 328.1,478.5 329.6,478.5 331.1,477.2 332.6,474.6 334.1,470.2 335.6,463.2 337.1,456.8 338.6,452.2 340.1,449.0 341.6,447.1 343.1,446.1 344.6,445.7 346.1,446.2 347.6,447.4 349.1,449.2 350.6,451.8 352.1,454.2 353.6,455.5 355.1,456.2 356.6,456.5 358.1,456.1 359.6,454.6 361.1,452.0 362.6,448.5 364.1,445.0 365.6,441.9 367.1,439.0 368.6,437.7 370.1,439.0 371.6,442.6 373.1,447.9 374.6,453.5 376.1,458.7 377.6,463.7 379.1,468.1 380.6,471.3 382.1,473.6 383.6,474.4 385.1,473.3 386.6,471.7 388.1,469.9 389.6,468.0 391.1,466.1 392.6,464.5 394.1,463.0 395.6,461.7 397.1,460.8 398.6,460.2 400.1,460.1 401.6,460.2 403.1,460.1 404.6,459.9 406.1,459.5 407.6,459.0 409.1,458.3 410.6,456.3 412.1,453.8 413.6,451.3 415.1,448.8 416.6,446.5 418.1,446.0 419.6,446.8 421.1,447.6 422.6,448.3 424.1,449.1 425.6,449.9 427.1,450.7 428.6,451.0 430.1,450.9 431.6,451.4 433.1,453.1 434.6,456.1 436.1,460.0 437.6,464.6 439.1,469.7 440.6,474.5 442.1,478.5 443.6,482.2 445.1,484.9 446.6,486.4 448.1,484.4 449.6,479.5 451.1,473.5 452.6,466.5 454.1,459.5 455.6,453.5 457.1,448.4 458.6,444.5 460.1,442.2 461.6,441.4 463.1,442.0 464.6,443.8 466.1,445.9 467.6,448.4 469.1,450.9 470.6,453.2 472.1,455.0 473.6,456.1 475.1,456.6 476.6,456.7 478.1,456.2 479.6,456.3 481.1,458.0 482.6,461.0 484.1,464.5 485.6,467.9 487.1,471.0 488.6,473.8 490.1,475.9 491.6,477.5 493.1,478.3 494.6,478.3 496.1,477.8 497.6,476.4 499.1,473.6 500.6,469.1 502.1,463.8 503.6,457.8 505.1,451.7 506.6,446.7 508.1,442.5 509.6,439.5 511.1,438.2 512.6,438.3 514.1,440.6 515.6,445.4 517.1,450.6 518.6,454.9 520.1,458.7 521.6,461.1 523.1,461.3 524.6,460.0 526.1,458.4 527.6,456.4 529.1,454.4 530.6,452.9 532.1,452.9 533.6,454.4 535.1,455.9 536.6,457.4 538.1,458.9 539.6,460.0 541.1,460.9 542.6,462.4 544.1,463.9 545.6,465.4 547.1,466.9 548.6,468.0 550.1,468.3 551.6,468.1 553.1,467.4 554.6,465.6 556.1,462.4 557.6,458.9 559.1,455.4 560.6,451.9 562.1,448.5 563.6,446.3 565.1,445.5 566.6,445.3 568.1,445.5 569.6,445.9 571.1,446.4 572.6,446.8 574.1,447.0 575.6,447.2 577.1,447.5 578.6,447.2 580.1,446.4 581.6,446.1 583.1,446.2 584.6,446.8 586.1,448.1 587.6,450.0 589.1,452.3 590.6,454.9 592.1,457.6 593.6,460.1 595.1,462.4 596.6,464.6 598.1,466.4 599.6,467.5 601.1,468.2 602.6,468.4 604.1,467.1 605.6,464.2 607.1,461.0 608.6,457.4 610.1,454.0 611.6,452.4 613.1,452.1 614.6,452.1 616.1,453.2 617.6,455.2 619.1,457.2 620.6,459.2 622.1,461.2 623.6,462.6 625.1,463.1 626.6,463.3 628.1,463.4 629.6,463.7 631.1,464.3 632.6,464.9 634.1,465.7 635.6,466.7 637.1,467.6 638.6,468.1 640.1,468.3 641.6,468.0 643.1,467.3 644.6,466.5 646.1,465.4 647.6,464.2 649.1,463.1 650.6,462.6 652.1,462.4 653.6,461.9 655.1,461.2 656.6,459.8 658.1,457.5 659.6,454.3 661.1,450.9 662.6,447.3 664.1,444.2 665.6,441.8 667.1,440.2 668.6,440.2 670.1,442.1 671.6,445.4 673.1,450.3 674.6,455.3 676.1,460.3 677.6,465.3 679.1,469.7 680.6,471.9 682.1,472.1 683.6,470.3 685.1,466.9 686.6,462.9 688.1,458.1 689.6,453.0 691.1,448.5 692.6,445.1 694.1,442.9 695.6,441.7 697.1,441.3 698.6,441.5 700.1,443.5 701.6,446.2 703.1,448.4 704.6,450.3 706.1,450.9 707.6,450.4 709.1,449.6 710.6,448.5 712.1,447.8 713.6,447.9 715.1,448.7 716.6,450.8 718.1,454.6 719.6,459.3 721.1,463.4 722.6,466.9 724.1,469.3 725.6,469.4 727.1,467.5 728.6,464.6 730.1,460.8 731.6,456.4 733.1,454.0 734.6,452.6 736.1,451.6 737.6,450.8 739.1,448.7 740.6,445.4 742.1,442.6 743.6,440.1 745.1,438.2 746.6,437.7 748.1,438.9 749.6,440.9 751.1,443.7 752.6,446.8 754.1,449.8 755.6,452.4 757.1,454.9 758.6,457.8 760.1,460.8 761.6,463.8 763.1,466.8 764.6,469.8 766.1,472.8 767.6,475.5 769.1,477.7 770.6,479.5 772.1,480.2 773.6,479.7 775.1,478.3 776.6,475.5 778.1,470.1 779.6,464.0 781.1,458.2 782.6,452.7 784.1,447.9 785.6,445.6 787.1,444.9 788.6,445.8 790.1,448.9 791.6,452.8 793.1,457.7 794.6,462.7 796.1,467.7 797.6,472.7 799.1,477.4 800.6,479.8 802.1,478.7 803.6,476.5 805.1,473.9 806.6,471.2 808.1,468.3 809.6,465.0 811.1,461.8 812.6,459.1 814.1,456.7 815.6,454.5 817.1,453.0 818.6,452.2 820.1,452.3 821.6,452.8 823.1,453.1 824.6,453.4 826.1,453.1 827.6,451.1 829.1,447.9 830.6,444.4 832.1,440.9 833.6,438.2 835.1,436.0 836.6,435.1 838.1,435.5 839.6,437.8 841.1,442.7 842.6,447.7 844.1,452.7 845.6,457.7 847.1,462.0 848.6,464.5 850.1,466.3 851.6,466.6 853.1,464.6 854.6,462.0 856.1,459.0 857.6,456.0 859.1,453.7 860.6,452.4 862.1,451.5 863.6,451.4 865.1,452.3 866.6,454.4 868.1,457.1 869.6,460.3 871.1,462.4 872.6,463.2 874.1,462.6 875.6,460.9 877.1,458.2 878.6,455.0 880.1,452.7 881.6,451.1 883.1,450.1 884.6,449.9 886.1,451.0 887.6,453.2 889.1,456.3 890.6,460.2 892.1,462.1 893.6,461.7 895.1,459.7 896.6,456.6 898.1,452.0 899.6,446.8 901.1,442.2 902.6,438.3 904.1,435.7 905.6,437.3 907.1,443.8 908.6,452.5 910.1,459.3 911.6,465.3 913.1,469.7 914.6,472.5 916.1,474.1 917.6,475.0 919.1,475.3 920.6,474.8 922.1,472.8 923.6,470.2 925.1,467.3 926.6,464.2 928.1,461.7 929.6,460.3 931.1,460.1 932.6,460.7 934.1,462.0 935.6,463.5 937.1,465.4 938.6,467.5 940.1,469.1 941.6,470.6 943.1,472.1 944.6,473.6 946.1,474.8 947.6,475.1 949.1,475.1 950.6,474.1 952.1,471.2 953.6,467.1 955.1,462.2 956.6,457.1 958.1,452.5 959.6,448.6 961.1,445.5 962.6,444.2 964.1,444.3 965.6,445.4 967.1,447.3 968.6,449.7 970.1,453.3 971.6,457.4 973.1,461.3 974.6,464.8 976.1,467.4 977.6,467.7 979.1,466.1 980.6,463.1 982.1,458.3 983.6,453.3 985.1,448.3 986.6,443.3 988.1,438.6 989.6,435.3 991.1,432.8 992.6,430.8 994.1,429.4 995.6,428.4 997.1,427.9 998.6,428.0 1000.1,428.5 1001.6,429.6 1003.1,432.0 1004.6,435.7 1006.1,440.7 1007.6,446.3 1009.1,451.7 1010.6,456.7 1012.1,461.5 1013.6,465.7 1015.1,469.1 1016.6,471.6 1018.1,473.1 1019.6,473.8 1021.1,474.6 1022.6,475.6 1024.1,476.4 1025.6,477.1 1027.1,477.9 1028.6,478.6 1030.1,479.4 1031.6,480.1 1033.1,480.7 1034.6,480.7 1036.1,479.9 1037.6,478.8 1039.1,477.7 1040.6,476.6 1042.1,475.4 1043.6,474.5 1045.1,474.4 1046.6,474.6 1048.1,474.7 1049.6,475.0 1051.1,475.2 1052.6,474.2 1054.1,471.3 1055.6,465.7 1057.1,459.0 1058.6,455.0 1060.1,452.1 1061.6,450.2 1063.1,449.1 1064.6,448.7 1066.1,449.1 1067.6,450.6 1069.1,452.1 1070.6,453.3 1072.1,454.1 1073.6,453.1 1075.1,449.1 1076.6,443.3 1078.1,437.1 1079.6,430.6 1081.1,424.1 1082.6,418.8 1084.1,415.4 1085.6,414.5 1087.1,415.3 1088.6,418.3 1090.1,423.6 1091.6,428.7 1093.1,433.7 1094.6,438.6 1096.1,443.2 1097.6,447.4 1099.1,450.6 1100.6,452.6 1102.1,453.8 1103.6,454.2 1105.1,453.9 1106.6,453.5 1108.1,453.1 1109.6,452.8 1111.1,452.4 1112.6,452.1 1114.1,452.5 1115.6,453.5 1117.1,456.1 1118.6,460.7 1120.1,466.5 1121.6,473.1 1123.1,480.3 1124.6,486.9 1126.1,492.1 1127.6,496.3 1129.1,499.6 1130.6,502.0 1130.7,502.2" stroke="#0303d8" stroke-width="2.45"/>
<polyline points="98.6,474.2 100.1,484.7 101.6,491.4 103.1,495.6 104.6,497.9 106.1,498.1 107.6,495.9 109.1,490.8 110.6,483.8 112.1,476.8 113.6,469.8 115.1,462.8 116.6,457.6 118.1,455.0 119.6,453.4 121.1,452.1 122.6,451.0 124.1,450.0 125.6,448.5 127.1,446.6 128.6,444.7 130.1,442.9 131.6,441.1 133.1,439.5 134.6,438.4 136.1,438.1 137.6,439.6 139.1,444.3 140.6,451.7 142.1,459.3 143.6,465.7 145.1,471.2 146.6,474.7 148.1,476.2 149.6,476.8 151.1,474.1 152.6,468.6 154.1,463.1 155.6,457.6 157.1,452.1 158.6,447.8 160.1,445.1 161.6,444.6 163.1,446.5 164.6,449.7 166.1,454.4 167.6,459.5 169.1,464.2 170.6,468.7 172.1,472.1 173.6,473.1 175.1,473.0 176.6,470.7 178.1,465.3 179.6,457.9 181.1,449.4 182.6,440.1 184.1,432.6 185.6,428.5 187.1,428.4 188.6,430.8 190.1,435.1 191.6,440.0 193.1,442.2 194.6,443.7 196.1,444.8 197.6,445.7 199.1,447.5 200.6,451.4 202.1,456.3 203.6,462.4 205.1,470.4 206.6,479.9 208.1,487.6 209.6,493.3 211.1,497.1 212.6,496.7 214.1,492.7 215.6,484.5 217.1,474.4 218.6,464.6 220.1,455.3 221.6,447.2 223.1,443.2 224.6,441.9 226.1,442.0 227.6,445.3 229.1,450.6 230.6,456.8 232.1,464.0 233.6,470.7 235.1,475.3 236.6,477.5 238.1,477.4 239.6,474.0 241.1,469.5 242.6,465.0 244.1,460.5 245.6,456.1 247.1,452.4 248.6,449.5 250.1,447.3 251.6,445.8 253.1,445.0 254.6,444.7 256.1,444.9 257.6,445.4 259.1,446.9 260.6,449.1 262.1,451.4 263.6,453.6 265.1,455.9 266.6,458.1 268.1,460.2 269.6,461.5 271.1,462.1 272.6,461.7 274.1,459.5 275.6,456.1 277.1,452.6 278.6,449.1 280.1,445.6 281.6,443.5 283.1,443.9 284.6,445.6 286.1,448.6 287.6,453.0 289.1,457.6 290.6,461.5 292.1,464.9 293.6,467.6 295.1,469.3 296.6,470.1 298.1,470.1 299.6,469.8 301.1,469.2 302.6,468.6 304.1,467.8 305.6,467.0 307.1,465.9 308.6,464.8 310.1,463.5 311.6,462.0 313.1,460.4 314.6,458.5 316.1,456.4 317.6,454.8 319.1,456.2 320.6,458.9 322.1,461.3 323.6,463.5 325.1,465.9 326.6,469.4 328.1,472.2 329.6,472.3 331.1,470.1 332.6,466.2 334.1,460.6 335.6,454.7 337.1,448.7 338.6,442.7 340.1,437.6 341.6,434.7 343.1,432.8 344.6,432.1 346.1,432.2 347.6,433.9 349.1,438.7 350.6,443.7 352.1,448.7 353.6,453.7 355.1,458.1 356.6,460.6 358.1,461.9 359.6,460.9 361.1,457.4 362.6,453.2 364.1,449.8 365.6,446.9 367.1,444.9 368.6,444.8 370.1,446.4 371.6,449.7 373.1,454.6 374.6,459.6 376.1,464.6 377.6,469.6 379.1,474.0 380.6,476.5 382.1,478.2 383.6,478.8 385.1,478.1 386.6,476.4 388.1,473.1 389.6,468.6 391.1,464.1 392.6,459.6 394.1,455.1 395.6,450.8 397.1,447.1 398.6,444.8 400.1,444.1 401.6,444.3 403.1,445.1 404.6,446.6 406.1,448.1 407.6,449.3 409.1,450.1 410.6,450.2 412.1,450.1 413.6,450.2 415.1,450.3 416.6,450.8 418.1,451.9 419.6,453.0 421.1,454.1 422.6,455.2 424.1,456.4 425.6,457.5 427.1,458.3 428.6,458.9 430.1,459.5 431.6,459.7 433.1,460.1 434.6,461.2 436.1,464.0 437.6,468.2 439.1,473.0 440.6,478.0 442.1,483.0 443.6,487.0 445.1,490.1 446.6,491.5 448.1,490.7 449.6,487.5 451.1,480.9 452.6,473.9 454.1,466.9 455.6,459.9 457.1,453.4 458.6,449.3 460.1,446.6 461.6,445.1 463.1,445.4 464.6,445.9 466.1,446.4 467.6,446.9 469.1,446.9 470.6,445.5 472.1,444.9 473.6,445.4 475.1,447.6 476.6,450.7 478.1,454.2 479.6,457.7 481.1,461.2 482.6,464.7 484.1,468.0 485.6,470.7 487.1,473.0 488.6,474.6 490.1,475.2 491.6,474.7 493.1,473.3 494.6,471.2 496.1,468.5 497.6,465.3 499.1,461.6 500.6,457.1 502.1,452.6 503.6,448.1 505.1,443.6 506.6,440.2 508.1,438.3 509.6,436.9 511.1,437.0 512.6,438.9 514.1,442.6 515.6,447.5 517.1,452.6 518.6,456.9 520.1,460.7 521.6,463.4 523.1,464.2 524.6,463.3 526.1,462.3 527.6,461.3 529.1,460.4 530.6,460.1 532.1,460.1 533.6,460.1 535.1,460.1 536.6,460.1 538.1,460.1 539.6,459.9 541.1,459.5 542.6,459.1 544.1,459.0 545.6,459.1 547.1,459.3 548.6,459.8 550.1,460.9 551.6,462.5 553.1,464.4 554.6,466.5 556.1,468.8 557.6,471.1 559.1,473.1 560.6,474.3 562.1,475.0 563.6,475.6 565.1,474.8 566.6,471.2 568.1,466.8 569.6,462.4 571.1,457.9 572.6,453.1 574.1,448.2 575.6,441.2 577.1,434.8 578.6,431.9 580.1,430.6 581.6,429.8 583.1,429.5 584.6,429.9 586.1,431.2 587.6,433.4 589.1,437.4 590.6,442.4 592.1,447.4 593.6,452.4 595.1,457.4 596.6,461.7 598.1,465.3 599.6,467.9 601.1,469.6 602.6,470.7 604.1,470.7 605.6,469.6 607.1,467.0 608.6,463.0 610.1,459.0 611.6,455.7 613.1,453.1 614.6,451.5 616.1,451.1 617.6,451.3 619.1,452.2 620.6,453.5 622.1,455.2 623.6,457.3 625.1,459.2 626.6,460.7 628.1,462.2 629.6,463.7 631.1,465.2 632.6,466.7 634.1,468.1 635.6,469.5 637.1,470.8 638.6,471.5 640.1,471.7 641.6,471.4 643.1,470.8 644.6,470.2 646.1,470.1 647.6,470.2 649.1,470.2 650.6,469.9 652.1,469.5 653.6,468.9 655.1,468.0 656.6,466.1 658.1,463.2 659.6,460.2 661.1,457.2 662.6,454.2 664.1,451.7 665.6,451.1 667.1,451.3 668.6,452.4 670.1,454.7 671.6,457.3 673.1,459.5 674.6,461.5 676.1,463.1 677.6,463.9 679.1,464.2 680.6,464.1 682.1,463.9 683.6,463.4 685.1,462.6 686.6,461.6 688.1,460.2 689.6,458.4 691.1,456.5 692.6,454.6 694.1,452.8 695.6,451.4 697.1,450.9 698.6,450.5 700.1,450.1 701.6,449.8 703.1,449.5 704.6,448.9 706.1,447.8 707.6,446.6 709.1,445.4 710.6,444.3 712.1,443.2 713.6,442.2 715.1,442.1 716.6,443.2 718.1,445.0 719.6,446.8 721.1,448.7 722.6,450.5 724.1,452.1 725.6,453.6 727.1,454.8 728.6,455.7 730.1,456.1 731.6,456.1 733.1,455.6 734.6,455.0 736.1,454.2 737.6,452.9 739.1,450.8 740.6,448.2 742.1,445.4 743.6,442.4 745.1,439.4 746.6,437.9 748.1,438.9 749.6,441.4 751.1,444.7 752.6,448.8 754.1,452.7 755.6,455.8 757.1,458.8 758.6,461.8 760.1,464.8 761.6,467.8 763.1,470.8 764.6,473.8 766.1,476.8 767.6,479.5 769.1,481.9 770.6,483.5 772.1,484.1 773.6,483.8 775.1,481.6 776.6,477.6 778.1,472.1 779.6,465.2 781.1,458.1 782.6,452.3 784.1,447.7 785.6,444.5 787.1,443.9 788.6,446.0 790.1,450.2 791.6,456.2 793.1,462.2 794.6,468.2 796.1,474.2 797.6,479.5 799.1,483.6 800.6,486.6 802.1,488.1 803.6,488.0 805.1,486.8 806.6,484.9 808.1,481.4 809.6,476.1 811.1,470.5 812.6,464.7 814.1,458.7 815.6,451.1 817.1,442.7 818.6,438.4 820.1,437.1 821.6,437.3 823.1,439.3 824.6,443.4 826.1,447.3 827.6,450.4 829.1,452.2 830.6,452.5 832.1,452.4 833.6,451.9 835.1,451.4 836.6,450.8 838.1,450.5 839.6,450.2 841.1,450.1 842.6,450.3 844.1,450.6 845.6,450.8 847.1,451.0 848.6,451.1 850.1,451.0 851.6,450.4 853.1,449.2 854.6,447.7 856.1,445.8 857.6,443.7 859.1,442.1 860.6,441.0 862.1,440.3 863.6,440.6 865.1,442.7 866.6,445.9 868.1,449.8 869.6,453.8 871.1,457.8 872.6,461.8 874.1,465.4 875.6,467.2 877.1,468.1 878.6,468.7 880.1,468.7 881.6,468.6 883.1,468.3 884.6,468.1 886.1,467.7 887.6,467.3 889.1,466.4 890.6,464.1 892.1,461.0 893.6,456.9 895.1,451.3 896.6,445.1 898.1,439.6 899.6,434.7 901.1,430.8 902.6,429.2 904.1,429.9 905.6,435.3 907.1,444.8 908.6,457.1 910.1,467.1 911.6,474.8 913.1,480.8 914.6,485.1 916.1,487.3 917.6,487.5 919.1,486.2 920.6,483.2 922.1,477.0 923.6,469.7 925.1,463.1 926.6,457.1 928.1,453.0 929.6,452.0 931.1,452.4 932.6,453.4 934.1,455.6 935.6,458.2 937.1,460.5 938.6,462.5 940.1,463.7 941.6,463.5 943.1,462.6 944.6,461.6 946.1,460.5 947.6,459.4 949.1,458.2 950.6,456.7 952.1,454.7 953.6,452.6 955.1,450.3 956.6,448.0 958.1,445.9 959.6,444.0 961.1,442.3 962.6,441.0 964.1,440.7 965.6,441.4 967.1,443.8 968.6,447.7 970.1,452.6 971.6,458.5 973.1,464.6 974.6,470.0 976.1,474.7 977.6,477.4 979.1,477.3 980.6,475.6 982.1,471.8 983.6,465.8 985.1,459.8 986.6,453.8 988.1,447.8 989.6,442.8 991.1,439.5 992.6,436.8 994.1,435.2 995.6,434.7 997.1,434.7 998.6,434.9 1000.1,436.0 1001.6,438.8 1003.1,442.0 1004.6,445.5 1006.1,448.9 1007.6,452.1 1009.1,454.8 1010.6,457.1 1012.1,458.9 1013.6,460.2 1015.1,460.7 1016.6,460.9 1018.1,460.8 1019.6,460.3 1021.1,459.6 1022.6,459.0 1024.1,459.1 1025.6,460.8 1027.1,463.6 1028.6,466.5 1030.1,469.6 1031.6,472.4 1033.1,474.1 1034.6,475.0 1036.1,475.3 1037.6,475.5 1039.1,475.7 1040.6,475.6 1042.1,475.5 1043.6,475.8 1045.1,476.7 1046.6,477.8 1048.1,478.6 1049.6,479.3 1051.1,479.8 1052.6,479.3 1054.1,475.9 1055.6,470.0 1057.1,464.3 1058.6,458.8 1060.1,454.4 1061.6,452.4 1063.1,451.8 1064.6,452.0 1066.1,452.7 1067.6,453.9 1069.1,454.4 1070.6,453.7 1072.1,451.3 1073.6,446.9 1075.1,441.2 1076.6,435.0 1078.1,429.5 1079.6,424.6 1081.1,420.8 1082.6,419.0 1084.1,418.9 1085.6,420.9 1087.1,424.2 1088.6,428.6 1090.1,433.8 1091.6,438.5 1093.1,442.7 1094.6,446.1 1096.1,448.6 1097.6,450.6 1099.1,452.0 1100.6,453.2 1102.1,454.1 1103.6,454.7 1105.1,455.0 1106.6,455.1 1108.1,454.9 1109.6,454.4 1111.1,453.6 1112.6,452.3 1114.1,451.2 1115.6,450.7 1117.1,451.1 1118.6,453.4 1120.1,458.8 1121.6,466.7 1123.1,474.8 1124.6,482.0 1126.1,488.8 1127.6,494.4 1129.1,498.5 1130.6,500.8 1132.1,501.2 1132.2,501.1" stroke="#f8a31a" stroke-width="2.45"/>
<polyline points="104.0,418.1 105.5,423.9 107.0,431.1 108.5,440.1 110.0,449.1 111.5,456.3 113.0,463.1 114.5,469.5 116.0,475.1 117.5,479.4 119.0,482.2 120.5,483.4 122.0,484.2 123.5,485.0 125.0,485.6 126.5,486.2 128.0,486.8 129.5,487.3 131.0,487.8 132.5,488.2 134.0,486.0 135.5,481.7 137.0,476.0 138.5,468.9 140.0,460.7 141.5,453.0 143.0,446.3 144.5,440.8 146.0,439.1 147.5,440.3 149.0,445.8 150.5,454.1 152.0,461.7 153.5,468.6 155.0,474.5 156.5,478.2 158.0,480.0 159.5,479.1 161.0,476.5 162.5,471.6 164.0,465.0 165.5,456.8 167.0,448.1 168.5,438.5 170.0,428.5 171.5,418.5 173.0,408.5 174.5,398.6 176.0,391.7 177.5,387.0 179.0,384.5 180.5,383.9 182.0,385.5 183.5,390.8 185.0,398.3 186.5,406.9 188.0,416.2 189.5,427.0 191.0,438.2 192.5,447.8 194.0,456.4 195.5,463.8 197.0,470.5 198.5,476.7 200.0,482.6 201.5,488.0 203.0,492.7 204.5,496.3 206.0,498.8 207.5,500.6 209.0,501.7 210.5,502.2 212.0,502.1 213.5,500.6 215.0,496.8 216.5,491.7 218.0,485.9 219.5,479.9 221.0,474.1 222.5,469.1 224.0,465.4 225.5,463.7 227.0,462.6 228.5,463.6 230.0,466.9 231.5,471.0 233.0,475.7 234.5,479.9 236.0,482.6 237.5,484.5 239.0,485.3 240.5,485.0 242.0,483.0 243.5,478.0 245.0,470.5 246.5,461.4 248.0,451.5 249.5,441.2 251.0,430.1 252.5,419.3 254.0,411.1 255.5,405.2 257.0,402.0 258.5,401.0 260.0,401.9 261.5,406.0 263.0,413.0 264.5,422.9 266.0,433.9 267.5,444.9 269.0,455.9 270.5,466.8 272.0,475.1 273.5,481.0 275.0,484.4 276.5,484.4 278.0,482.0 279.5,477.1 281.0,472.1 282.5,467.3 284.0,462.7 285.5,458.6 287.0,455.3 288.5,453.0 290.0,451.4 291.5,449.9 293.0,448.4 294.5,446.9 296.0,445.4 297.5,443.9 299.0,442.3 300.5,440.0 302.0,437.5 303.5,435.6 305.0,433.7 306.5,431.9 308.0,430.3 309.5,428.9 311.0,428.4 312.5,428.8 314.0,430.3 315.5,433.5 317.0,437.8 318.5,443.8 320.0,450.8 321.5,457.9 323.0,465.1 324.5,472.4 326.0,479.2 327.5,485.5 329.0,491.3 330.5,496.2 332.0,499.5 333.5,501.2 335.0,502.1 336.5,501.9 338.0,500.6 339.5,497.0 341.0,490.6 342.5,482.3 344.0,472.6 345.5,462.4 347.0,452.7 348.5,443.8 350.0,437.4 351.5,434.7 353.0,433.1 354.5,433.6 356.0,436.3 357.5,440.7 359.0,446.5 360.5,451.6 362.0,455.8 363.5,459.0 365.0,460.4 366.5,459.7 368.0,457.4 369.5,455.7 371.0,454.5 372.5,454.1 374.0,454.5 375.5,455.5 377.0,456.8 378.5,458.5 380.0,460.3 381.5,462.3 383.0,465.0 384.5,468.4 386.0,471.8 387.5,475.1 389.0,478.5 390.5,481.9 392.0,484.9 393.5,486.6 395.0,487.5 396.5,487.7 398.0,486.3 399.5,483.5 401.0,479.5 402.5,474.5 404.0,469.5 405.5,464.5 407.0,459.5 408.5,455.4 410.0,452.4 411.5,449.4 413.0,446.4 414.5,441.7 416.0,435.6 417.5,428.7 419.0,421.6 420.5,415.4 422.0,410.4 423.5,408.1 425.0,408.1 426.5,409.5 428.0,414.1 429.5,421.3 431.0,430.7 432.5,440.9 434.0,450.5 435.5,459.5 437.0,467.3 438.5,472.5 440.0,475.9 441.5,477.9 443.0,478.0 444.5,477.2 446.0,477.2 447.5,477.7 449.0,479.0 450.5,480.5 452.0,482.0 453.5,483.5 455.0,484.6 456.5,483.8 458.0,482.2 459.5,479.3 461.0,474.1 462.5,468.0 464.0,461.7 465.5,455.1 467.0,449.1 468.5,444.7 470.0,441.6 471.5,439.7 473.0,438.5 474.5,438.5 476.0,440.4 477.5,445.3 479.0,451.3 480.5,457.3 482.0,463.3 483.5,469.2 485.0,473.6 486.5,476.7 488.0,478.6 489.5,479.2 491.0,478.6 492.5,476.7 494.0,473.7 495.5,470.5 497.0,467.9 498.5,465.5 500.0,463.4 501.5,462.0 503.0,461.5 504.5,462.4 506.0,463.9 507.5,465.4 509.0,466.9 510.5,468.4 512.0,469.1 513.5,469.1 515.0,468.3 516.5,465.6 518.0,461.7 519.5,457.5 521.0,452.8 522.5,448.6 524.0,445.3 525.5,442.8 527.0,440.5 528.5,438.3 530.0,436.0 531.5,433.5 533.0,430.7 534.5,426.7 536.0,420.5 537.5,412.9 539.0,404.6 540.5,398.3 542.0,394.9 543.5,394.8 545.0,396.9 546.5,401.8 548.0,408.8 549.5,415.8 551.0,422.6 552.5,428.7 554.0,432.1 555.5,433.1 557.0,433.6 558.5,434.1 560.0,434.6 561.5,435.2 563.0,440.9 564.5,452.0 566.0,464.4 567.5,478.0 569.0,491.6 570.5,501.4 572.0,511.0 573.5,520.1 575.0,526.4 576.5,529.0 578.0,530.5 579.5,530.3 581.0,528.8 582.5,524.2 584.0,518.1 585.5,512.2 587.0,506.5 588.5,501.0 590.0,496.1 591.5,491.4 593.0,486.7 594.5,482.0 596.0,477.2 597.5,473.6 599.0,471.2 600.5,463.6 602.0,458.1 603.5,455.7 605.0,454.2 606.5,453.0 608.0,452.1 609.5,452.1 611.0,452.1 612.5,450.9 614.0,448.2 615.5,444.2 617.0,439.3 618.5,433.3 620.0,427.3 621.5,423.3 623.0,420.8 624.5,419.7 626.0,421.6 627.5,427.2 629.0,435.3 630.5,443.4 632.0,451.4 633.5,459.2 635.0,464.5 636.5,468.0 638.0,468.8 639.5,466.5 641.0,462.4 642.5,457.0 644.0,451.5 645.5,446.6 647.0,442.4 648.5,439.8 650.0,439.5 651.5,440.6 653.0,442.9 654.5,446.4 656.0,449.9 657.5,452.9 659.0,455.9 660.5,458.9 662.0,461.9 663.5,464.3 665.0,466.0 666.5,467.3 668.0,468.1 669.5,468.2 671.0,467.3 672.5,464.9 674.0,459.8 675.5,452.3 677.0,444.0 678.5,435.0 680.0,426.0 681.5,418.6 683.0,413.5 684.5,410.6 686.0,410.1 687.5,411.9 689.0,417.7 690.5,425.3 692.0,434.0 693.5,443.1 695.0,451.8 696.5,459.9 698.0,466.3 699.5,469.4 701.0,470.6 702.5,470.7 704.0,471.9 705.5,474.0 707.0,478.0 708.5,482.8 710.0,487.9 711.5,493.2 713.0,498.1 714.5,502.0 716.0,505.3 717.5,507.4 719.0,507.5 720.5,506.1 722.0,504.0 723.5,501.7 725.0,499.1 726.5,495.9 728.0,492.1 729.5,487.8 731.0,482.4 732.5,475.2 734.0,466.5 735.5,456.9 737.0,445.9 738.5,435.5 740.0,427.7 741.5,422.3 743.0,419.0 744.5,417.3 746.0,417.0 747.5,419.5 749.0,424.1 750.5,430.0 752.0,436.0 753.5,441.8 755.0,447.2 756.5,451.3 758.0,452.3 759.5,450.6 761.0,448.5 762.5,446.8 764.0,445.4 765.5,445.1 767.0,447.6 768.5,452.1 770.0,458.2 771.5,465.6 773.0,471.8 774.5,476.3 776.0,479.3 777.5,479.5 779.0,476.3 780.5,471.0 782.0,463.6 783.5,455.4 785.0,447.7 786.5,440.6 788.0,434.7 789.5,431.3 791.0,429.4 792.5,429.2 794.0,430.6 795.5,434.7 797.0,441.1 798.5,447.8 800.0,454.9 801.5,461.8 803.0,466.9 804.5,470.8 806.0,473.6 807.5,474.8 809.0,473.9 810.5,468.6 812.0,461.0 813.5,452.9 815.0,444.5 816.5,436.7 818.0,432.0 819.5,429.3 821.0,428.1 822.5,428.2 824.0,430.1 825.5,436.3 827.0,445.1 828.5,455.1 830.0,465.1 831.5,473.9 833.0,481.1 834.5,486.1 836.0,489.2 837.5,491.1 839.0,489.4 840.5,486.9 842.0,484.8 843.5,482.8 845.0,481.3 846.5,480.5 848.0,479.8 849.5,479.4 851.0,478.2 852.5,474.9 854.0,469.4 855.5,462.1 857.0,453.6 858.5,444.3 860.0,436.1 861.5,430.0 863.0,427.5 864.5,427.5 866.0,428.8 867.5,435.1 869.0,442.8 870.5,449.8 872.0,456.8 873.5,463.2 875.0,468.9 876.5,473.6 878.0,477.0 879.5,479.1 881.0,480.1 882.5,480.6 884.0,480.2 885.5,478.8 887.0,476.4 888.5,473.4 890.0,470.1 891.5,466.0 893.0,461.5 894.5,457.0 896.0,452.5 897.5,448.0 899.0,443.5 900.5,439.3 902.0,435.7 903.5,432.3 905.0,429.3 906.5,427.0 908.0,425.6 909.5,425.0 911.0,425.6 912.5,427.2 914.0,429.9 915.5,434.2 917.0,439.9 918.5,446.9 920.0,455.0 921.5,462.8 923.0,469.5 924.5,475.4 926.0,479.1 927.5,480.7 929.0,479.5 930.5,475.6 932.0,469.9 933.5,463.0 935.0,456.0 936.5,449.0 938.0,442.0 939.5,435.4 941.0,429.8 942.5,425.1 944.0,421.8 945.5,419.8 947.0,419.5 948.5,421.4 950.0,425.4 951.5,431.4 953.0,439.8 954.5,449.9 956.0,461.3 957.5,473.5 959.0,485.0 960.5,495.2 962.0,502.6 963.5,504.4 965.0,500.4 966.5,490.7 968.0,481.0 969.5,472.7 971.0,466.1 972.5,462.6 974.0,461.4 975.5,463.9 977.0,469.0 978.5,473.9 980.0,478.0 981.5,481.7 983.0,483.3 984.5,482.3 986.0,478.3 987.5,471.4 989.0,464.4 990.5,457.4 992.0,450.4 993.5,444.9 995.0,442.4 996.5,440.8 998.0,439.7 999.5,439.5 1001.0,439.7 1002.5,440.0 1004.0,440.2 1005.5,440.9 1007.0,443.7 1008.5,447.7 1010.0,451.8 1011.5,456.0 1013.0,460.1 1014.5,463.8 1016.0,467.3 1017.5,470.1 1019.0,471.6 1020.5,471.9 1022.0,470.9 1023.5,468.7 1025.0,466.4 1026.5,464.4 1028.0,462.7 1029.5,461.6 1031.0,461.1 1032.5,461.1 1034.0,461.5 1035.5,462.1 1037.0,462.5 1038.5,462.8 1040.0,462.9 1041.5,462.9 1043.0,462.4 1044.5,461.7 1046.0,460.7 1047.5,459.5 1049.0,458.5 1050.5,457.8 1052.0,457.3 1053.5,457.1 1055.0,457.7 1056.5,459.5 1058.0,462.4 1059.5,464.7 1061.0,466.3 1062.5,467.4 1064.0,467.1 1065.5,465.6 1067.0,462.6 1068.5,457.5 1070.0,451.5 1071.5,445.5 1073.0,439.9 1074.5,434.9 1076.0,433.1 1077.5,433.2 1079.0,434.0 1080.5,437.2 1082.0,441.8 1083.5,446.2 1085.0,450.4 1086.5,453.9 1088.0,455.5 1089.5,456.3 1091.0,456.6 1092.5,455.8 1094.0,453.3 1095.5,448.8 1097.0,443.4 1098.5,437.6 1100.0,431.5 1101.5,425.9 1103.0,422.8 1104.5,421.1 1106.0,421.0 1107.5,422.6 1109.0,426.5 1110.5,432.5 1112.0,438.5 1113.5,444.5 1115.0,450.5 1116.5,455.7 1118.0,459.7 1119.5,463.2 1121.0,465.9 1122.5,467.8 1124.0,469.0 1125.5,469.8 1127.0,470.5 1128.5,471.4 1130.0,472.5 1131.5,473.7 1133.0,474.7 1134.5,475.7 1136.0,476.8 1137.5,477.9 1137.8,478.2" stroke="#000" stroke-width="4.4"/>
</g>
<!-- frame -->
<rect x="89" y="37.9" width="1054.4" height="526.7" fill="none" stroke="#1a1a1a" stroke-width="1.5"/>
<!-- left axis ticks -->
<g stroke="#1a1a1a" stroke-width="1.5">
<line x1="77" y1="49.8" x2="89" y2="49.8"/><line x1="77" y1="87.3" x2="89" y2="87.3"/><line x1="77" y1="124.8" x2="89" y2="124.8"/><line x1="77" y1="162.3" x2="89" y2="162.3"/><line x1="77" y1="199.8" x2="89" y2="199.8"/><line x1="77" y1="237.3" x2="89" y2="237.3"/>
<line x1="1143.4" y1="215.1" x2="1154.8" y2="215.1"/><line x1="1143.4" y1="252.6" x2="1154.8" y2="252.6"/><line x1="1143.4" y1="290.1" x2="1154.8" y2="290.1"/><line x1="1143.4" y1="327.6" x2="1154.8" y2="327.6"/><line x1="1143.4" y1="365.1" x2="1154.8" y2="365.1"/><line x1="1143.4" y1="402.6" x2="1154.8" y2="402.6"/>
<line x1="185.9" y1="564.6" x2="185.9" y2="576.6"/><line x1="293.4" y1="564.6" x2="293.4" y2="576.6"/><line x1="401" y1="564.6" x2="401" y2="576.6"/><line x1="508.5" y1="564.6" x2="508.5" y2="576.6"/><line x1="616" y1="564.6" x2="616" y2="576.6"/><line x1="723.5" y1="564.6" x2="723.5" y2="576.6"/><line x1="831.1" y1="564.6" x2="831.1" y2="576.6"/><line x1="938.6" y1="564.6" x2="938.6" y2="576.6"/><line x1="1046.1" y1="564.6" x2="1046.1" y2="576.6"/>
</g>
<g stroke="#bebebe" stroke-width="1.5">
<line x1="77" y1="418.6" x2="89" y2="418.6"/><line x1="77" y1="438.3" x2="89" y2="438.3"/><line x1="77" y1="458" x2="89" y2="458"/><line x1="77" y1="477.7" x2="89" y2="477.7"/><line x1="77" y1="497.4" x2="89" y2="497.4"/>
</g>
<!-- left tick labels -->
<g class="ax" text-anchor="end">
<text transform="translate(65.3,56.7) scale(1,1.04)">0.25</text><text transform="translate(65.3,94.2) scale(1,1.04)">0</text><text transform="translate(65.3,131.7) scale(1,1.04)">−0.25</text><text transform="translate(65.3,169.2) scale(1,1.04)">−0.5</text><text transform="translate(65.3,206.7) scale(1,1.04)">−0.75</text><text transform="translate(65.3,244.2) scale(1,1.04)">−1</text>
</g>
<g class="ax gr" text-anchor="end">
<text transform="translate(65.3,425.5) scale(1,1.04)" class="gr">1</text><text transform="translate(65.3,445.2) scale(1,1.04)" class="gr">0.5</text><text transform="translate(65.3,464.9) scale(1,1.04)" class="gr">0</text><text transform="translate(65.3,484.6) scale(1,1.04)" class="gr">−0.5</text><text transform="translate(65.3,504.3) scale(1,1.04)" class="gr">−1</text>
</g>
<!-- right tick labels -->
<g class="ax">
<text transform="translate(1166.5,222) scale(1,1.04)">0.25</text><text transform="translate(1166.5,259.5) scale(1,1.04)">0.00</text><text transform="translate(1165.8,297) scale(1,1.04)">−0.25</text><text transform="translate(1165.8,334.5) scale(1,1.04)">−0.50</text><text transform="translate(1165.8,372) scale(1,1.04)">−0.75</text><text transform="translate(1165.8,409.5) scale(1,1.04)">−1.00</text>
</g>
<!-- x tick labels -->
<g class="ax" text-anchor="middle">
<text transform="translate(185.9,606.8) scale(1,1.04)">1100</text><text transform="translate(293.4,606.8) scale(1,1.04)">1200</text><text transform="translate(401,606.8) scale(1,1.04)">1300</text><text transform="translate(508.5,606.8) scale(1,1.04)">1400</text><text transform="translate(616,606.8) scale(1,1.04)">1500</text><text transform="translate(723.5,606.8) scale(1,1.04)">1600</text><text transform="translate(831.1,606.8) scale(1,1.04)">1700</text><text transform="translate(938.6,606.8) scale(1,1.04)">1800</text><text transform="translate(1046.1,606.8) scale(1,1.04)">1900</text>
<text transform="translate(616.4,654) scale(1,1.04)">Year</text>
</g>
<!-- axis titles -->
<text class="ax" style="font-size:19.6px" text-anchor="middle" transform="translate(14.4,170.5) rotate(-90) scale(1,1.04)">T anomaly wrt 1961−1990 [°C]</text>
<text class="ax" style="font-size:19.6px" text-anchor="middle" transform="translate(1245.8,301.7) rotate(-90) scale(1,1.04)">T anomaly wrt 1961−1990 [°C]</text>
<text class="ax gr" style="font-size:19.6px" text-anchor="middle" transform="translate(14.4,415.3) rotate(-90) scale(1,1.04)">NH−SH [std.dev]</text>
<!-- main title -->
<text transform="translate(616.3,16.5) scale(1,1.04)" text-anchor="middle" style="font-size:22.6px;font-weight:bold;stroke-width:0.3px">HadCM3</text>
<!-- panel labels -->
<g class="ax">
<text transform="translate(101.4,61.5) scale(1,1.04)">(a) SH</text><text transform="translate(101.4,203) scale(1,1.04)">(b) NH</text><text transform="translate(101.4,343.7) scale(1,1.04)">(c) NH−SH</text>
</g>
<!-- legend -->
<g fill="none" stroke-linecap="round">
<line x1="105.1" y1="543.6" x2="136.4" y2="543.6" stroke="#000" stroke-width="4.4"/>
<line x1="285.2" y1="543.6" x2="315.8" y2="543.6" stroke="#dc0505" stroke-width="2.45"/>
<line x1="464.9" y1="543.6" x2="495.6" y2="543.6" stroke="#0303d8" stroke-width="2.45"/>
<line x1="644.6" y1="543.6" x2="675.2" y2="543.6" stroke="#f8a31a" stroke-width="2.45"/>
</g>
<g class="lg">
<text transform="translate(152.8,550) scale(1,1.04)">Real proxies</text><text transform="translate(332.4,550) scale(1,1.04)">Model truth</text><text transform="translate(512,550) scale(1,1.04)">PPE local cor</text><text transform="translate(691.8,550) scale(1,1.04)">PPE target cor</text>
</g>
</svg>
</body>
</html>
